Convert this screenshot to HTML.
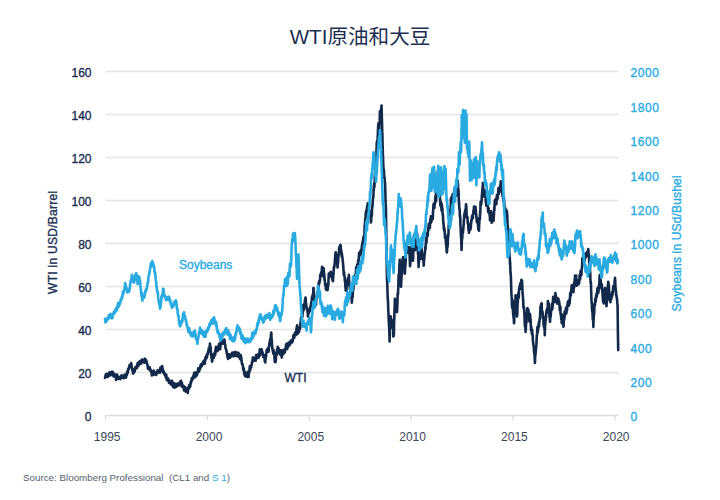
<!DOCTYPE html>
<html lang="zh"><head><meta charset="utf-8"><title>WTI原油和大豆</title>
<style>
html,body{margin:0;padding:0;background:#fff;}
body{width:720px;height:500px;overflow:hidden;font-family:"Liberation Sans","Noto Sans CJK SC",sans-serif;}
svg{display:block}
text{font-family:"Liberation Sans","Noto Sans CJK SC",sans-serif;}
.title{font-size:20.6px;fill:#1b2f52;}
.yl{font-size:12px;fill:#1b2f52;stroke:#1b2f52;stroke-width:.35px;}
.yr{font-size:12px;fill:#29abe2;stroke:#29abe2;stroke-width:.35px;letter-spacing:.6px;}
.xl{font-size:12px;fill:#3b4658;}
.at{font-size:12px;stroke-width:.35px;}
.src{font-size:9.8px;fill:#555f6e;white-space:pre;}
</style></head><body>
<svg width="720" height="500" viewBox="0 0 720 500">
<rect width="720" height="500" fill="#ffffff"/>
<text x="360" y="43.5" text-anchor="middle" class="title">WTI原油和大豆</text>
<line x1="105.5" y1="71.5" x2="618.5" y2="71.5" stroke="#e4e4e4" stroke-width="1.3"/>
<line x1="105.5" y1="114.5" x2="618.5" y2="114.5" stroke="#e4e4e4" stroke-width="1.3"/>
<line x1="105.5" y1="157.5" x2="618.5" y2="157.5" stroke="#e4e4e4" stroke-width="1.3"/>
<line x1="105.5" y1="200.5" x2="618.5" y2="200.5" stroke="#e4e4e4" stroke-width="1.3"/>
<line x1="105.5" y1="243.5" x2="618.5" y2="243.5" stroke="#e4e4e4" stroke-width="1.3"/>
<line x1="105.5" y1="286.5" x2="618.5" y2="286.5" stroke="#e4e4e4" stroke-width="1.3"/>
<line x1="105.5" y1="329.5" x2="618.5" y2="329.5" stroke="#e4e4e4" stroke-width="1.3"/>
<line x1="105.5" y1="372.5" x2="618.5" y2="372.5" stroke="#e4e4e4" stroke-width="1.3"/>
<line x1="104.9" y1="415.5" x2="618.5" y2="415.5" stroke="#dcdcdc" stroke-width="1.3"/>
<line x1="105.5" y1="415.5" x2="105.5" y2="420.5" stroke="#dcdcdc" stroke-width="1.3"/>
<line x1="207.4" y1="415.5" x2="207.4" y2="420.5" stroke="#dcdcdc" stroke-width="1.3"/>
<line x1="309.3" y1="415.5" x2="309.3" y2="420.5" stroke="#dcdcdc" stroke-width="1.3"/>
<line x1="411.20000000000005" y1="415.5" x2="411.20000000000005" y2="420.5" stroke="#dcdcdc" stroke-width="1.3"/>
<line x1="513.1" y1="415.5" x2="513.1" y2="420.5" stroke="#dcdcdc" stroke-width="1.3"/>
<line x1="615.0" y1="415.5" x2="615.0" y2="420.5" stroke="#dcdcdc" stroke-width="1.3"/>

<polyline fill="none" stroke="#13294b" stroke-width="2.6" stroke-linejoin="round" stroke-linecap="round" points="105.0,377.9 105.1,377.1 105.2,376.8 105.3,376.2 105.4,375.8 105.5,376.8 105.6,375.4 105.7,376.1 105.8,374.4 105.9,375.7 106.0,376.8 106.1,376.7 106.2,376.7 106.3,375.9 106.4,374.1 106.5,373.9 106.6,374.5 106.7,374.9 106.8,376.3 106.9,376.0 107.0,375.9 107.1,374.9 107.2,374.5 107.3,374.0 107.4,374.4 107.5,375.4 107.6,377.0 107.7,376.8 107.8,376.2 107.9,376.3 108.0,375.7 108.1,375.4 108.2,376.2 108.3,376.2 108.4,375.1 108.5,374.5 108.6,374.7 108.7,375.7 108.8,374.9 108.9,374.0 109.0,374.4 109.1,374.7 109.2,374.7 109.3,373.1 109.4,372.3 109.5,372.3 109.6,373.3 109.7,373.7 109.8,374.7 109.9,375.1 110.0,375.0 110.1,374.4 110.2,374.9 110.3,374.6 110.4,375.5 110.5,374.4 110.6,374.9 110.7,374.0 110.8,375.1 110.9,374.7 111.0,373.5 111.1,373.4 111.2,373.4 111.3,374.4 111.4,372.2 111.5,371.7 111.6,372.4 111.7,373.2 111.8,372.6 111.9,372.6 112.0,373.1 112.1,372.1 112.2,373.7 112.3,372.1 112.4,372.5 112.5,371.9 112.6,373.0 112.7,372.5 112.8,373.0 112.9,372.4 113.0,373.5 113.1,374.3 113.2,375.2 113.3,375.5 113.4,376.1 113.5,376.1 113.6,376.3 113.7,376.1 113.8,375.5 113.9,374.9 114.0,374.9 114.1,374.6 114.2,374.5 114.3,375.1 114.4,374.2 114.5,373.9 114.6,374.7 114.7,375.4 114.8,376.4 114.9,375.9 115.0,375.3 115.1,375.3 115.2,374.8 115.3,375.3 115.4,375.2 115.5,376.3 115.6,376.0 115.7,377.1 115.8,376.7 115.9,377.8 116.0,379.0 116.1,380.0 116.2,377.8 116.3,377.7 116.4,377.7 116.5,377.2 116.6,376.0 116.7,376.5 116.8,377.1 116.9,377.1 117.0,375.7 117.1,374.5 117.2,375.2 117.3,376.0 117.4,377.7 117.5,377.7 117.6,378.7 117.7,377.3 117.8,378.2 117.9,378.0 118.0,377.9 118.1,376.9 118.2,377.5 118.3,378.0 118.4,378.4 118.5,378.3 118.6,378.7 118.7,377.9 118.8,378.2 118.9,378.3 119.0,378.6 119.1,378.7 119.2,378.4 119.3,378.3 119.4,378.6 119.5,378.0 119.6,377.3 119.7,377.2 119.8,377.9 119.9,377.9 120.0,378.3 120.1,378.4 120.2,379.2 120.3,378.6 120.4,378.2 120.5,377.5 120.6,376.7 120.7,376.2 120.8,376.6 120.9,376.6 121.0,376.7 121.1,376.8 121.2,376.8 121.3,376.5 121.4,376.8 121.5,376.5 121.6,375.2 121.7,376.4 121.8,376.5 121.9,376.6 122.0,377.2 122.1,377.7 122.2,377.0 122.3,376.3 122.4,376.3 122.5,376.1 122.6,376.3 122.7,377.7 122.8,377.0 122.9,377.0 123.0,377.4 123.1,378.1 123.2,377.9 123.3,377.5 123.4,377.6 123.5,377.3 123.6,376.8 123.7,377.3 123.8,377.1 123.9,378.0 124.0,377.1 124.1,378.0 124.2,377.5 124.3,376.5 124.4,375.8 124.5,374.8 124.6,374.6 124.7,374.6 124.8,375.5 124.9,376.2 125.0,377.0 125.1,377.2 125.2,377.0 125.3,377.1 125.4,375.9 125.5,375.9 125.6,374.5 125.7,375.5 125.8,376.1 125.9,377.1 126.0,377.7 126.1,375.6 126.2,375.5 126.3,375.6 126.4,375.7 126.5,374.7 126.6,375.1 126.7,375.6 126.8,375.1 126.9,374.5 127.0,373.4 127.1,371.8 127.2,371.5 127.3,371.7 127.4,372.3 127.5,371.6 127.6,371.9 127.7,373.0 127.8,372.1 127.9,372.4 128.0,371.0 128.1,369.9 128.2,368.7 128.3,369.3 128.4,369.5 128.5,368.8 128.6,369.7 128.7,369.4 128.8,368.7 128.9,368.0 129.0,367.5 129.1,367.1 129.2,367.6 129.3,367.6 129.4,366.4 129.5,365.0 129.6,365.7 129.7,367.0 129.8,366.5 129.9,366.6 130.0,366.0 130.1,365.8 130.2,365.7 130.3,365.3 130.4,365.4 130.5,365.1 130.6,365.4 130.7,364.3 130.8,365.7 130.9,365.5 131.0,364.1 131.1,363.1 131.2,363.7 131.3,363.6 131.4,364.4 131.5,364.6 131.6,366.1 131.7,367.0 131.8,367.8 131.9,368.0 132.0,368.2 132.1,369.1 132.2,369.2 132.3,368.7 132.4,370.0 132.5,370.6 132.6,370.2 132.7,371.4 132.8,371.8 132.9,371.8 133.0,372.7 133.1,373.6 133.2,371.6 133.3,371.2 133.4,371.9 133.5,371.7 133.6,371.9 133.7,372.5 133.8,371.3 133.9,371.5 134.0,369.6 134.1,369.5 134.2,371.5 134.3,371.9 134.4,372.2 134.5,370.2 134.6,370.8 134.7,371.5 134.8,370.6 134.9,370.8 135.0,370.3 135.1,369.4 135.2,368.0 135.3,367.5 135.4,367.0 135.5,367.4 135.6,367.4 135.7,367.5 135.8,367.4 135.9,367.4 136.0,367.9 136.1,368.2 136.2,367.0 136.3,366.8 136.4,366.5 136.5,367.8 136.6,367.5 136.7,368.1 136.8,367.5 136.9,368.2 137.0,367.1 137.1,366.8 137.2,366.0 137.3,364.5 137.4,364.4 137.5,364.1 137.6,363.4 137.7,363.2 137.8,362.7 137.9,363.5 138.0,364.4 138.1,364.1 138.2,365.0 138.3,365.4 138.4,365.8 138.5,365.9 138.6,365.2 138.7,363.3 138.8,363.0 138.9,362.7 139.0,363.3 139.1,363.0 139.2,362.2 139.3,363.4 139.4,361.7 139.5,361.8 139.6,362.3 139.7,361.7 139.8,361.2 139.9,361.3 140.0,361.9 140.1,361.1 140.2,361.6 140.3,361.9 140.4,363.4 140.5,363.6 140.6,363.4 140.7,363.2 140.8,362.0 140.9,362.7 141.0,362.1 141.1,363.1 141.2,362.8 141.3,363.7 141.4,362.3 141.5,361.7 141.6,361.0 141.7,361.0 141.8,360.5 141.9,359.5 142.0,359.5 142.1,360.3 142.2,359.7 142.3,360.3 142.4,360.1 142.5,360.2 142.6,360.1 142.7,360.6 142.8,361.3 142.9,360.9 143.0,361.6 143.1,360.9 143.2,360.9 143.3,360.6 143.4,360.7 143.5,360.6 143.6,361.1 143.7,362.0 143.8,361.3 143.9,360.9 144.0,361.4 144.1,361.7 144.2,361.3 144.3,362.6 144.4,360.5 144.5,359.7 144.6,358.9 144.7,359.6 144.8,359.4 144.9,359.5 145.0,358.7 145.1,358.9 145.2,359.0 145.3,359.2 145.4,359.6 145.5,359.6 145.6,360.2 145.7,359.7 145.8,360.2 145.9,360.3 146.0,360.9 146.1,360.7 146.2,360.4 146.3,360.5 146.4,360.5 146.5,361.6 146.6,361.9 146.7,362.3 146.8,363.0 146.9,363.7 147.0,364.3 147.1,363.9 147.2,364.5 147.3,364.3 147.4,364.7 147.5,365.8 147.6,365.5 147.7,365.5 147.8,367.0 147.9,368.3 148.0,368.9 148.1,368.8 148.2,368.6 148.3,368.5 148.4,366.6 148.5,367.5 148.6,367.6 148.7,368.2 148.8,367.8 148.9,368.6 149.0,367.8 149.1,369.3 149.2,368.5 149.3,368.3 149.4,368.6 149.5,369.2 149.6,368.8 149.7,367.2 149.8,368.6 149.9,369.6 150.0,370.1 150.1,369.6 150.2,370.1 150.3,370.0 150.4,369.2 150.5,369.5 150.6,371.0 150.7,371.3 150.8,371.3 150.9,370.8 151.0,371.6 151.1,370.8 151.2,371.6 151.3,371.7 151.4,372.7 151.5,372.3 151.6,372.2 151.7,373.6 151.8,375.5 151.9,374.2 152.0,374.2 152.1,373.1 152.2,373.7 152.3,373.6 152.4,374.1 152.5,375.3 152.6,374.3 152.7,373.4 152.8,373.6 152.9,373.6 153.0,375.0 153.1,374.7 153.2,373.4 153.3,371.3 153.4,370.8 153.5,371.4 153.6,372.0 153.7,372.0 153.8,371.6 153.9,370.9 154.0,372.1 154.1,372.6 154.2,373.2 154.3,373.2 154.4,372.7 154.5,372.8 154.6,374.4 154.7,374.4 154.8,373.3 154.9,373.7 155.0,373.3 155.1,374.4 155.2,373.6 155.3,373.7 155.4,373.2 155.5,374.4 155.6,374.3 155.7,373.4 155.8,373.0 155.9,372.7 156.0,373.7 156.1,374.1 156.2,374.5 156.3,374.9 156.4,373.5 156.5,372.4 156.6,372.0 156.7,372.8 156.8,372.5 156.9,373.2 157.0,372.7 157.1,373.0 157.2,373.1 157.3,372.3 157.4,370.5 157.5,370.4 157.6,371.9 157.7,371.0 157.8,371.8 157.9,372.6 158.0,371.7 158.1,371.3 158.2,370.7 158.3,370.4 158.4,370.9 158.5,370.7 158.6,371.7 158.7,372.5 158.8,372.1 158.9,372.4 159.0,371.6 159.1,371.4 159.2,370.7 159.3,370.5 159.4,370.3 159.5,371.0 159.6,371.0 159.7,370.9 159.8,370.6 159.9,372.6 160.0,370.7 160.1,370.0 160.2,368.4 160.3,367.7 160.4,369.0 160.5,370.6 160.6,370.1 160.7,371.2 160.8,369.9 160.9,369.7 161.0,371.0 161.1,370.7 161.2,369.4 161.3,367.4 161.4,367.4 161.5,368.9 161.6,368.1 161.7,368.3 161.8,368.1 161.9,366.3 162.0,366.0 162.1,366.7 162.2,366.5 162.3,366.5 162.4,367.2 162.5,367.6 162.6,368.1 162.7,369.8 162.8,371.1 162.9,372.2 163.0,371.2 163.1,370.9 163.2,370.3 163.3,370.7 163.4,371.5 163.5,371.4 163.6,371.5 163.7,372.8 163.8,371.7 163.9,372.1 164.0,372.1 164.1,372.6 164.2,372.4 164.3,373.4 164.4,373.8 164.5,374.4 164.6,374.4 164.7,374.9 164.8,373.9 164.9,374.6 165.0,375.3 165.1,375.1 165.2,375.2 165.3,375.3 165.4,375.4 165.5,375.5 165.6,376.6 165.7,377.4 165.8,377.3 165.9,376.6 166.0,375.2 166.1,376.0 166.2,374.6 166.3,375.1 166.4,376.9 166.5,377.5 166.6,378.2 166.7,379.0 166.8,380.0 166.9,379.4 167.0,379.5 167.1,379.2 167.2,380.1 167.3,377.9 167.4,378.4 167.5,378.0 167.6,378.4 167.7,378.5 167.8,378.5 167.9,378.2 168.0,378.6 168.1,379.4 168.2,379.6 168.3,379.3 168.4,379.7 168.5,380.4 168.6,379.6 168.7,381.2 168.8,381.7 168.9,381.9 169.0,383.0 169.1,383.0 169.2,382.1 169.3,382.1 169.4,382.5 169.5,382.8 169.6,382.1 169.7,381.8 169.8,382.3 169.9,380.8 170.0,381.0 170.1,381.6 170.2,381.1 170.3,381.3 170.4,381.7 170.5,381.1 170.6,381.7 170.7,383.0 170.8,383.4 170.9,384.5 171.0,383.9 171.1,381.7 171.2,381.3 171.3,381.5 171.4,381.8 171.5,381.4 171.6,382.4 171.7,382.5 171.8,381.9 171.9,381.0 172.0,381.4 172.1,380.8 172.2,381.8 172.3,382.5 172.4,381.9 172.5,382.7 172.6,384.3 172.7,386.2 172.8,385.3 172.9,384.6 173.0,386.6 173.1,386.7 173.2,387.2 173.3,385.7 173.4,384.6 173.5,383.5 173.6,384.0 173.7,384.5 173.8,384.4 173.9,384.1 174.0,385.0 174.1,386.3 174.2,386.6 174.3,385.2 174.4,383.3 174.5,385.0 174.6,385.7 174.7,386.9 174.8,387.6 174.9,386.5 175.0,385.4 175.1,384.9 175.2,385.4 175.3,386.1 175.4,385.5 175.5,386.0 175.6,386.1 175.7,386.6 175.8,387.0 175.9,386.5 176.0,384.8 176.1,385.8 176.2,385.7 176.3,385.0 176.4,385.1 176.5,386.3 176.6,385.3 176.7,383.9 176.8,386.6 176.9,386.1 177.0,385.6 177.1,384.9 177.2,385.1 177.3,383.9 177.4,384.6 177.5,385.9 177.6,385.1 177.7,385.7 177.8,385.0 177.9,384.6 178.0,383.6 178.1,384.6 178.2,383.9 178.3,383.7 178.4,385.0 178.5,384.6 178.6,383.5 178.7,383.3 178.8,385.5 178.9,385.3 179.0,384.9 179.1,385.2 179.2,384.9 179.3,384.9 179.4,384.7 179.5,383.1 179.6,384.4 179.7,383.9 179.8,383.9 179.9,382.4 180.0,383.0 180.1,382.1 180.2,382.6 180.3,381.4 180.4,381.8 180.5,383.7 180.6,384.7 180.7,384.1 180.8,383.7 180.9,382.8 181.0,381.8 181.1,380.8 181.2,382.4 181.3,384.8 181.4,385.3 181.5,385.8 181.6,386.4 181.7,385.3 181.8,383.7 181.9,382.7 182.0,384.0 182.1,384.4 182.2,386.3 182.3,387.2 182.4,385.3 182.5,385.0 182.6,385.3 182.7,385.6 182.8,386.4 182.9,386.2 183.0,385.6 183.1,386.8 183.2,386.9 183.3,385.7 183.4,386.3 183.5,387.5 183.6,386.1 183.7,387.1 183.8,387.6 183.9,388.4 184.0,390.5 184.1,390.1 184.2,389.7 184.3,389.8 184.4,388.3 184.5,388.2 184.6,387.6 184.7,387.8 184.8,387.2 184.9,387.6 185.0,387.0 185.1,387.2 185.2,387.2 185.3,388.3 185.4,389.5 185.5,390.2 185.6,391.5 185.7,390.5 185.8,390.2 185.9,391.7 186.0,391.1 186.1,391.5 186.2,391.5 186.3,390.1 186.4,389.3 186.5,390.6 186.6,390.0 186.7,389.3 186.8,388.7 186.9,388.9 187.0,388.9 187.1,389.6 187.2,390.7 187.3,389.7 187.4,392.0 187.5,391.7 187.6,391.2 187.7,392.7 187.8,393.0 187.9,391.8 188.0,389.9 188.1,388.8 188.2,388.8 188.3,387.2 188.4,387.8 188.5,389.1 188.6,387.2 188.7,389.0 188.8,388.8 188.9,386.5 189.0,386.6 189.1,386.1 189.2,386.2 189.3,384.7 189.4,385.3 189.5,385.0 189.6,385.7 189.7,386.6 189.8,386.9 189.9,387.1 190.0,386.9 190.1,386.9 190.2,386.7 190.3,385.6 190.4,384.9 190.5,383.7 190.6,383.3 190.7,382.1 190.8,383.2 190.9,383.4 191.0,382.8 191.1,381.5 191.2,381.6 191.3,380.7 191.4,381.8 191.5,381.4 191.6,380.1 191.7,379.5 191.8,378.1 191.9,380.4 192.0,379.6 192.1,378.8 192.2,378.6 192.3,378.4 192.4,379.4 192.5,379.5 192.6,379.0 192.7,377.4 192.8,377.2 192.9,377.1 193.0,378.1 193.1,378.2 193.2,378.3 193.3,376.1 193.4,376.3 193.5,377.1 193.6,376.5 193.7,376.0 193.8,375.0 193.9,375.9 194.0,374.6 194.1,372.9 194.2,374.0 194.3,375.3 194.4,374.9 194.5,374.1 194.6,374.7 194.7,374.4 194.8,375.4 194.9,376.4 195.0,375.5 195.1,376.0 195.2,376.8 195.3,377.2 195.4,375.8 195.5,374.6 195.6,373.7 195.7,373.6 195.8,372.6 195.9,372.4 196.0,374.0 196.1,374.6 196.2,373.5 196.3,373.1 196.4,373.4 196.5,373.1 196.6,373.7 196.7,374.9 196.8,375.5 196.9,374.9 197.0,373.8 197.1,374.8 197.2,374.1 197.3,372.6 197.4,373.5 197.5,372.2 197.6,372.5 197.7,372.2 197.8,372.3 197.9,370.3 198.0,370.0 198.1,370.0 198.2,368.3 198.3,368.7 198.4,370.0 198.5,370.2 198.6,369.3 198.7,369.7 198.8,369.7 198.9,368.5 199.0,370.7 199.1,371.7 199.2,370.8 199.3,369.8 199.4,370.2 199.5,370.0 199.6,368.0 199.7,368.8 199.8,369.5 199.9,368.7 200.0,368.2 200.1,369.0 200.2,367.6 200.3,366.4 200.4,365.9 200.5,367.7 200.6,365.6 200.7,364.7 200.8,366.2 200.9,365.8 201.0,365.7 201.1,365.6 201.2,364.2 201.3,365.0 201.4,364.0 201.5,365.1 201.6,364.7 201.7,365.8 201.8,366.2 201.9,364.4 202.0,365.5 202.1,364.2 202.2,364.2 202.3,363.8 202.4,364.1 202.5,363.4 202.6,362.8 202.7,363.0 202.8,363.5 202.9,363.6 203.0,364.3 203.1,363.1 203.2,361.9 203.3,361.9 203.4,361.4 203.5,362.7 203.6,363.7 203.7,363.2 203.8,361.7 203.9,362.0 204.0,361.4 204.1,362.9 204.2,360.4 204.3,362.9 204.4,361.2 204.5,360.4 204.6,361.1 204.7,362.5 204.8,363.7 204.9,361.7 205.0,360.6 205.1,361.8 205.2,360.1 205.3,358.6 205.4,357.6 205.5,358.6 205.6,358.8 205.7,359.3 205.8,357.7 205.9,357.7 206.0,358.5 206.1,357.4 206.2,356.1 206.3,357.0 206.4,357.8 206.5,358.3 206.6,358.2 206.7,357.8 206.8,356.8 206.9,354.7 207.0,357.1 207.1,355.7 207.2,355.2 207.3,354.6 207.4,353.7 207.5,354.5 207.6,353.8 207.7,353.4 207.8,353.5 207.9,354.1 208.0,351.9 208.1,351.5 208.2,351.9 208.3,350.8 208.4,350.5 208.5,349.9 208.6,348.6 208.7,349.0 208.8,349.7 208.9,350.7 209.0,351.6 209.1,350.9 209.2,350.1 209.3,351.1 209.4,349.9 209.5,349.8 209.6,348.2 209.7,345.8 209.8,344.9 209.9,343.6 210.0,344.0 210.1,346.8 210.2,348.5 210.3,347.2 210.4,347.8 210.5,348.2 210.6,346.9 210.7,349.3 210.8,351.0 210.9,353.0 211.0,352.9 211.1,354.6 211.2,355.5 211.3,355.5 211.4,356.3 211.5,357.6 211.6,358.7 211.7,358.5 211.8,357.4 211.9,359.7 212.0,361.6 212.1,360.5 212.2,361.2 212.3,361.0 212.4,359.2 212.5,357.7 212.6,358.7 212.7,357.2 212.8,356.1 212.9,356.4 213.0,355.9 213.1,354.9 213.2,354.6 213.3,354.3 213.4,354.5 213.5,356.4 213.6,357.6 213.7,358.0 213.8,357.1 213.9,357.1 214.0,354.7 214.1,354.2 214.2,354.3 214.3,353.3 214.4,354.1 214.5,355.8 214.6,354.1 214.7,354.1 214.8,354.5 214.9,353.9 215.0,351.9 215.1,352.2 215.2,353.1 215.3,354.5 215.4,351.9 215.5,349.6 215.6,348.8 215.7,348.3 215.8,349.1 215.9,350.2 216.0,349.3 216.1,346.8 216.2,347.6 216.3,349.1 216.4,348.7 216.5,350.5 216.6,350.1 216.7,348.5 216.8,349.7 216.9,348.6 217.0,347.3 217.1,347.8 217.2,349.6 217.3,349.5 217.4,350.8 217.5,350.6 217.6,351.2 217.7,349.9 217.8,350.4 217.9,350.1 218.0,350.2 218.1,349.0 218.2,348.0 218.3,346.8 218.4,347.2 218.5,346.2 218.6,345.6 218.7,346.0 218.8,347.1 218.9,347.8 219.0,346.1 219.1,343.9 219.2,344.4 219.3,346.7 219.4,346.8 219.5,348.0 219.6,348.0 219.7,347.1 219.8,345.6 219.9,346.0 220.0,345.8 220.1,346.5 220.2,349.3 220.3,347.5 220.4,346.0 220.5,345.2 220.6,345.0 220.7,343.3 220.8,342.0 220.9,341.1 221.0,343.2 221.1,344.0 221.2,344.8 221.3,342.8 221.4,342.2 221.5,341.7 221.6,340.7 221.7,340.4 221.8,341.7 221.9,342.7 222.0,343.1 222.1,343.1 222.2,343.8 222.3,342.7 222.4,341.8 222.5,341.1 222.6,341.2 222.7,341.4 222.8,341.4 222.9,341.3 223.0,340.2 223.1,340.1 223.2,341.1 223.3,341.9 223.4,341.8 223.5,342.1 223.6,341.6 223.7,342.3 223.8,342.1 223.9,343.0 224.0,343.1 224.1,343.8 224.2,342.7 224.3,341.0 224.4,339.5 224.5,340.3 224.6,340.3 224.7,341.0 224.8,343.9 224.9,344.4 225.0,345.2 225.1,344.2 225.2,344.9 225.3,346.3 225.4,346.2 225.5,348.4 225.6,348.8 225.7,348.7 225.8,348.5 225.9,349.1 226.0,349.2 226.1,349.5 226.2,349.7 226.3,350.5 226.4,351.0 226.5,350.5 226.6,351.3 226.7,352.0 226.8,352.9 226.9,353.5 227.0,354.7 227.1,353.1 227.2,354.4 227.3,354.8 227.4,355.7 227.5,357.3 227.6,356.1 227.7,357.9 227.8,357.7 227.9,357.2 228.0,358.4 228.1,358.9 228.2,357.3 228.3,356.4 228.4,357.1 228.5,357.1 228.6,356.1 228.7,356.6 228.8,355.4 228.9,355.5 229.0,355.5 229.1,354.3 229.2,356.1 229.3,355.4 229.4,355.6 229.5,356.3 229.6,356.1 229.7,357.0 229.8,356.7 229.9,356.6 230.0,357.8 230.1,357.0 230.2,355.9 230.3,355.9 230.4,355.5 230.5,356.9 230.6,357.2 230.7,356.9 230.8,356.4 230.9,355.7 231.0,354.6 231.1,354.9 231.2,354.6 231.3,354.2 231.4,354.6 231.5,353.9 231.6,355.0 231.7,354.7 231.8,353.6 231.9,353.6 232.0,353.2 232.1,352.8 232.2,354.1 232.3,354.8 232.4,353.7 232.5,352.5 232.6,352.5 232.7,352.7 232.8,353.2 232.9,353.0 233.0,353.0 233.1,354.1 233.2,354.3 233.3,355.2 233.4,356.5 233.5,356.0 233.6,355.5 233.7,354.5 233.8,353.4 233.9,353.2 234.0,352.8 234.1,352.9 234.2,352.6 234.3,353.9 234.4,353.4 234.5,354.6 234.6,355.6 234.7,354.3 234.8,352.0 234.9,351.8 235.0,352.2 235.1,354.0 235.2,353.1 235.3,353.1 235.4,354.3 235.5,355.2 235.6,355.9 235.7,354.9 235.8,353.5 235.9,352.8 236.0,352.5 236.1,352.7 236.2,354.3 236.3,355.9 236.4,355.6 236.5,353.9 236.6,352.6 236.7,353.4 236.8,354.1 236.9,352.7 237.0,353.4 237.1,354.7 237.2,354.5 237.3,355.1 237.4,355.9 237.5,355.0 237.6,356.2 237.7,355.3 237.8,355.9 237.9,356.5 238.0,354.7 238.1,354.7 238.2,353.3 238.3,352.7 238.4,354.3 238.5,352.8 238.6,353.1 238.7,353.9 238.8,355.9 238.9,355.3 239.0,356.0 239.1,355.1 239.2,355.9 239.3,355.6 239.4,355.9 239.5,354.9 239.6,356.1 239.7,358.0 239.8,358.6 239.9,358.3 240.0,358.1 240.1,356.6 240.2,357.4 240.3,358.7 240.4,359.2 240.5,357.4 240.6,356.5 240.7,355.1 240.8,357.4 240.9,358.9 241.0,360.0 241.1,358.6 241.2,357.1 241.3,357.8 241.4,359.3 241.5,360.5 241.6,361.0 241.7,362.5 241.8,362.2 241.9,363.6 242.0,363.7 242.1,363.8 242.2,363.6 242.3,364.5 242.4,364.6 242.5,364.6 242.6,365.0 242.7,364.3 242.8,364.9 242.9,365.9 243.0,366.4 243.1,368.7 243.2,368.7 243.3,370.0 243.4,369.2 243.5,368.3 243.6,369.6 243.7,368.5 243.8,368.4 243.9,369.1 244.0,369.8 244.1,371.3 244.2,373.3 244.3,373.9 244.4,373.8 244.5,374.3 244.6,375.2 244.7,373.2 244.8,374.2 244.9,375.7 245.0,375.5 245.1,376.2 245.2,376.0 245.3,372.9 245.4,373.3 245.5,373.1 245.6,373.2 245.7,372.6 245.8,373.3 245.9,374.2 246.0,374.8 246.1,374.7 246.2,374.9 246.3,374.5 246.4,373.1 246.5,373.7 246.6,374.8 246.7,374.7 246.8,376.5 246.9,376.9 247.0,375.6 247.1,374.6 247.2,374.0 247.3,372.9 247.4,373.2 247.5,373.2 247.6,374.1 247.7,375.4 247.8,376.7 247.9,374.8 248.0,372.7 248.1,371.8 248.2,372.5 248.3,371.5 248.4,373.5 248.5,374.9 248.6,376.9 248.7,375.0 248.8,373.4 248.9,374.3 249.0,371.8 249.1,370.4 249.2,371.2 249.3,372.4 249.4,369.5 249.5,369.3 249.6,368.7 249.7,366.9 249.8,366.4 249.9,366.7 250.0,368.2 250.1,368.6 250.2,370.3 250.3,368.2 250.4,367.8 250.5,368.0 250.6,368.6 250.7,367.7 250.8,365.6 250.9,365.6 251.0,366.3 251.1,366.8 251.2,367.2 251.3,366.7 251.4,365.7 251.5,365.0 251.6,364.5 251.7,364.3 251.8,364.6 251.9,363.6 252.0,361.8 252.1,362.3 252.2,362.2 252.3,362.3 252.4,362.2 252.5,361.0 252.6,359.6 252.7,359.4 252.8,357.5 252.9,357.5 253.0,357.3 253.1,357.7 253.2,358.5 253.3,359.5 253.4,360.3 253.5,360.9 253.6,359.0 253.7,359.2 253.8,359.0 253.9,357.8 254.0,359.1 254.1,359.6 254.2,359.9 254.3,359.7 254.4,360.2 254.5,359.3 254.6,358.5 254.7,359.5 254.8,358.9 254.9,360.2 255.0,359.3 255.1,357.9 255.2,359.3 255.3,358.2 255.4,357.8 255.5,359.1 255.6,360.8 255.7,359.1 255.8,357.7 255.9,356.9 256.0,356.1 256.1,355.1 256.2,356.5 256.3,356.2 256.4,355.7 256.5,355.8 256.6,355.0 256.7,355.3 256.8,356.0 256.9,357.7 257.0,358.3 257.1,357.2 257.2,356.6 257.3,356.7 257.4,357.1 257.5,356.4 257.6,357.7 257.7,355.8 257.8,355.3 257.9,356.0 258.0,355.8 258.1,355.9 258.2,354.5 258.3,355.7 258.4,355.8 258.5,357.4 258.6,357.7 258.7,356.6 258.8,353.5 258.9,354.7 259.0,354.4 259.1,354.7 259.2,356.6 259.3,355.2 259.4,354.4 259.5,353.9 259.6,352.0 259.7,350.5 259.8,349.4 259.9,349.6 260.0,351.9 260.1,354.5 260.2,353.9 260.3,354.9 260.4,353.5 260.5,351.7 260.6,351.1 260.7,352.6 260.8,352.5 260.9,351.1 261.0,351.6 261.1,350.3 261.2,350.6 261.3,351.7 261.4,350.5 261.5,349.3 261.6,349.8 261.7,349.3 261.8,350.3 261.9,350.4 262.0,352.8 262.1,351.7 262.2,352.9 262.3,352.7 262.4,352.0 262.5,353.1 262.6,352.6 262.7,353.2 262.8,353.8 262.9,353.9 263.0,355.0 263.1,355.8 263.2,356.9 263.3,356.5 263.4,355.0 263.5,355.1 263.6,354.9 263.7,354.8 263.8,354.8 263.9,355.3 264.0,356.4 264.1,356.3 264.2,357.7 264.3,355.7 264.4,356.7 264.5,355.9 264.6,357.5 264.7,359.9 264.8,361.3 264.9,360.7 265.0,360.2 265.1,360.2 265.2,360.8 265.3,362.4 265.4,360.3 265.5,359.2 265.6,358.3 265.7,358.3 265.8,357.7 265.9,356.5 266.0,357.1 266.1,356.5 266.2,354.1 266.3,354.0 266.4,352.6 266.5,352.5 266.6,350.1 266.7,350.0 266.8,350.7 266.9,351.1 267.0,350.7 267.1,352.0 267.2,351.2 267.3,350.3 267.4,351.0 267.5,349.3 267.6,349.1 267.7,348.3 267.8,348.3 267.9,350.1 268.0,350.3 268.1,350.2 268.2,349.7 268.3,349.2 268.4,351.5 268.5,350.5 268.6,351.8 268.7,350.9 268.8,349.9 268.9,348.2 269.0,347.3 269.1,345.4 269.2,345.1 269.3,343.4 269.4,343.7 269.5,344.7 269.6,344.9 269.7,345.3 269.8,342.1 269.9,340.4 270.0,339.7 270.1,340.4 270.2,340.3 270.3,340.5 270.4,339.7 270.5,339.0 270.6,338.2 270.7,337.5 270.8,337.0 270.9,335.1 271.0,334.8 271.1,333.5 271.2,332.5 271.3,333.0 271.4,334.3 271.5,336.7 271.6,338.4 271.7,339.2 271.8,340.5 271.9,343.0 272.0,344.6 272.1,346.6 272.2,346.9 272.3,348.0 272.4,348.8 272.5,348.8 272.6,349.8 272.7,350.3 272.8,350.6 272.9,351.5 273.0,350.5 273.1,350.7 273.2,353.3 273.3,353.7 273.4,351.8 273.5,349.8 273.6,352.1 273.7,352.9 273.8,353.9 273.9,352.5 274.0,352.6 274.1,353.0 274.2,352.1 274.3,353.5 274.4,356.3 274.5,358.7 274.6,358.7 274.7,360.9 274.8,362.0 274.9,361.9 275.0,361.8 275.1,360.3 275.2,358.6 275.3,357.9 275.4,360.6 275.5,360.4 275.6,362.1 275.7,361.2 275.8,360.3 275.9,358.9 276.0,355.7 276.1,355.4 276.2,353.5 276.3,353.4 276.4,355.5 276.5,355.4 276.6,355.0 276.7,352.5 276.8,352.1 276.9,351.6 277.0,350.0 277.1,349.8 277.2,349.9 277.3,349.4 277.4,349.3 277.5,349.9 277.6,348.6 277.7,346.9 277.8,348.2 277.9,349.0 278.0,347.9 278.1,351.6 278.2,349.1 278.3,348.0 278.4,348.1 278.5,349.1 278.6,348.2 278.7,349.0 278.8,351.3 278.9,352.7 279.0,351.2 279.1,350.4 279.2,350.7 279.3,351.5 279.4,352.8 279.5,353.7 279.6,353.4 279.7,354.1 279.8,352.6 279.9,352.0 280.0,351.6 280.1,352.7 280.2,351.7 280.3,352.2 280.4,352.8 280.5,355.0 280.6,353.2 280.7,352.0 280.8,350.4 280.9,350.4 281.0,351.2 281.1,350.2 281.2,352.9 281.3,353.7 281.4,355.1 281.5,355.5 281.6,354.2 281.7,357.5 281.8,356.2 281.9,356.2 282.0,355.5 282.1,355.0 282.2,355.6 282.3,355.0 282.4,354.3 282.5,353.8 282.6,354.1 282.7,353.3 282.8,353.8 282.9,352.6 283.0,353.6 283.1,353.1 283.2,353.1 283.3,353.8 283.4,353.4 283.5,351.0 283.6,349.8 283.7,350.5 283.8,351.5 283.9,353.3 284.0,352.2 284.1,352.9 284.2,353.2 284.3,352.9 284.4,350.6 284.5,350.9 284.6,349.6 284.7,349.8 284.8,352.1 284.9,352.2 285.0,351.3 285.1,350.2 285.2,350.4 285.3,348.7 285.4,349.6 285.5,349.5 285.6,348.5 285.7,349.1 285.8,348.9 285.9,346.5 286.0,344.8 286.1,344.9 286.2,345.7 286.3,346.1 286.4,344.5 286.5,343.9 286.6,343.8 286.7,343.7 286.8,346.2 286.9,347.6 287.0,346.9 287.1,347.9 287.2,348.8 287.3,349.0 287.4,347.9 287.5,346.7 287.6,345.1 287.7,346.4 287.8,347.2 287.9,347.0 288.0,346.5 288.1,346.6 288.2,346.6 288.3,345.5 288.4,344.4 288.5,343.3 288.6,343.0 288.7,342.5 288.8,343.8 288.9,343.6 289.0,343.8 289.1,343.2 289.2,344.1 289.3,345.3 289.4,344.6 289.5,345.2 289.6,345.2 289.7,344.0 289.8,343.6 289.9,342.8 290.0,343.9 290.1,342.6 290.2,342.9 290.3,342.6 290.4,343.6 290.5,343.0 290.6,340.7 290.7,340.9 290.8,340.5 290.9,341.0 291.0,342.0 291.1,343.1 291.2,342.9 291.3,341.5 291.4,340.5 291.5,340.8 291.6,342.7 291.7,341.9 291.8,342.0 291.9,341.6 292.0,342.5 292.1,340.2 292.2,340.7 292.3,341.2 292.4,340.6 292.5,340.9 292.6,341.3 292.7,339.2 292.8,341.1 292.9,339.3 293.0,339.4 293.1,338.1 293.2,337.5 293.3,336.1 293.4,337.3 293.5,335.1 293.6,338.3 293.7,337.8 293.8,336.3 293.9,337.3 294.0,337.6 294.1,337.6 294.2,336.6 294.3,337.8 294.4,335.0 294.5,336.2 294.6,335.3 294.7,336.0 294.8,334.3 294.9,333.7 295.0,332.5 295.1,333.3 295.2,333.0 295.3,332.4 295.4,332.8 295.5,333.1 295.6,333.4 295.7,333.1 295.8,332.8 295.9,332.6 296.0,332.1 296.1,333.5 296.2,334.9 296.3,332.7 296.4,330.3 296.5,328.1 296.6,328.9 296.7,327.7 296.8,327.7 296.9,327.0 297.0,327.3 297.1,325.4 297.2,327.1 297.3,326.0 297.4,327.2 297.5,330.0 297.6,333.2 297.7,333.7 297.8,333.3 297.9,331.3 298.0,330.1 298.1,328.3 298.2,328.6 298.3,331.0 298.4,332.6 298.5,331.6 298.6,331.5 298.7,331.0 298.8,331.0 298.9,330.8 299.0,332.0 299.1,331.0 299.2,330.5 299.3,329.3 299.4,329.2 299.5,329.4 299.6,328.4 299.7,327.8 299.8,327.4 299.9,329.2 300.0,328.3 300.1,327.2 300.2,326.7 300.3,327.2 300.4,322.9 300.5,323.9 300.6,324.1 300.7,322.8 300.8,320.5 300.9,321.0 301.0,318.0 301.1,317.9 301.2,318.3 301.3,319.1 301.4,318.1 301.5,316.5 301.6,317.5 301.7,317.3 301.8,316.6 301.9,316.7 302.0,315.0 302.1,317.3 302.2,317.4 302.3,315.8 302.4,316.7 302.5,314.6 302.6,312.8 302.7,312.5 302.8,311.1 302.9,311.4 303.0,310.1 303.1,307.3 303.2,305.0 303.3,307.1 303.4,309.1 303.5,309.7 303.6,310.5 303.7,308.3 303.8,307.0 303.9,306.2 304.0,306.5 304.1,304.4 304.2,304.0 304.3,304.6 304.4,304.7 304.5,304.9 304.6,305.5 304.7,302.9 304.8,302.2 304.9,300.5 305.0,299.5 305.1,299.7 305.2,300.2 305.3,299.4 305.4,298.3 305.5,297.5 305.6,298.4 305.7,299.5 305.8,300.8 305.9,303.7 306.0,304.7 306.1,303.2 306.2,304.2 306.3,304.7 306.4,305.4 306.5,307.7 306.6,308.9 306.7,309.1 306.8,308.3 306.9,307.9 307.0,307.5 307.1,308.6 307.2,308.7 307.3,310.1 307.4,311.0 307.5,311.2 307.6,311.6 307.7,312.2 307.8,313.8 307.9,316.0 308.0,316.6 308.1,314.8 308.2,313.0 308.3,311.0 308.4,310.3 308.5,311.6 308.6,311.7 308.7,313.1 308.8,313.4 308.9,312.8 309.0,311.1 309.1,311.5 309.2,310.8 309.3,309.6 309.4,309.7 309.5,310.6 309.6,310.2 309.7,310.1 309.8,311.3 309.9,310.0 310.0,310.3 310.1,309.0 310.2,307.5 310.3,307.0 310.4,308.5 310.5,307.1 310.6,305.6 310.7,305.9 310.8,306.6 310.9,306.3 311.0,305.4 311.1,305.0 311.2,302.6 311.3,304.1 311.4,303.7 311.5,302.1 311.6,303.3 311.7,300.9 311.8,300.8 311.9,297.7 312.0,296.8 312.1,298.0 312.2,298.2 312.3,300.5 312.4,299.7 312.5,297.5 312.6,295.0 312.7,297.0 312.8,297.5 312.9,295.7 313.0,296.5 313.1,293.8 313.2,292.5 313.3,291.5 313.4,288.1 313.5,288.1 313.6,288.9 313.7,290.3 313.8,291.0 313.9,291.6 314.0,294.3 314.1,296.5 314.2,296.6 314.3,297.4 314.4,300.5 314.5,300.0 314.6,300.9 314.7,300.2 314.8,300.7 314.9,298.4 315.0,299.6 315.1,299.7 315.2,299.8 315.3,302.4 315.4,301.7 315.5,301.4 315.6,301.2 315.7,301.3 315.8,302.4 315.9,302.1 316.0,304.8 316.1,302.5 316.2,301.3 316.3,297.0 316.4,297.7 316.5,298.1 316.6,298.5 316.7,297.6 316.8,297.1 316.9,298.2 317.0,296.5 317.1,295.5 317.2,294.1 317.3,294.7 317.4,293.0 317.5,295.8 317.6,296.6 317.7,294.4 317.8,293.1 317.9,292.1 318.0,290.9 318.1,291.5 318.2,290.4 318.3,289.6 318.4,287.6 318.5,286.0 318.6,284.6 318.7,282.8 318.8,283.7 318.9,284.8 319.0,282.9 319.1,281.4 319.2,283.9 319.3,283.1 319.4,283.5 319.5,282.1 319.6,281.4 319.7,280.3 319.8,280.6 319.9,281.2 320.0,280.2 320.1,278.6 320.2,275.2 320.3,274.7 320.4,275.0 320.5,276.4 320.6,276.1 320.7,275.6 320.8,276.1 320.9,276.2 321.0,275.3 321.1,272.5 321.2,273.3 321.3,272.5 321.4,273.2 321.5,276.1 321.6,274.1 321.7,271.2 321.8,271.4 321.9,268.3 322.0,266.9 322.1,267.4 322.2,266.7 322.3,269.1 322.4,269.9 322.5,270.2 322.6,267.8 322.7,267.7 322.8,269.1 322.9,270.8 323.0,270.4 323.1,271.1 323.2,271.8 323.3,271.4 323.4,272.0 323.5,272.5 323.6,269.9 323.7,268.4 323.8,269.8 323.9,272.1 324.0,274.7 324.1,277.1 324.2,277.1 324.3,274.0 324.4,277.5 324.5,280.2 324.6,279.2 324.7,278.9 324.8,280.7 324.9,281.9 325.0,282.0 325.1,283.6 325.2,285.4 325.3,284.8 325.4,284.9 325.5,283.9 325.6,285.8 325.7,285.7 325.8,286.7 325.9,289.5 326.0,288.9 326.1,287.9 326.2,287.9 326.3,286.4 326.4,287.1 326.5,286.3 326.6,287.8 326.7,289.1 326.8,288.9 326.9,290.0 327.0,288.9 327.1,288.7 327.2,289.8 327.3,287.8 327.4,287.8 327.5,288.7 327.6,290.1 327.7,288.7 327.8,288.5 327.9,284.6 328.0,283.8 328.1,284.1 328.2,284.8 328.3,285.7 328.4,283.7 328.5,280.3 328.6,277.9 328.7,275.0 328.8,273.6 328.9,275.1 329.0,277.8 329.1,277.1 329.2,274.5 329.3,277.1 329.4,276.3 329.5,276.4 329.6,273.6 329.7,273.8 329.8,273.7 329.9,273.9 330.0,273.8 330.1,274.0 330.2,273.4 330.3,272.4 330.4,273.0 330.5,273.4 330.6,272.0 330.7,273.2 330.8,271.8 330.9,273.9 331.0,274.7 331.1,275.7 331.2,272.7 331.3,273.2 331.4,273.6 331.5,275.6 331.6,274.2 331.7,275.1 331.8,275.4 331.9,276.7 332.0,274.9 332.1,278.2 332.2,277.6 332.3,279.7 332.4,280.0 332.5,279.1 332.6,278.6 332.7,277.8 332.8,278.9 332.9,279.0 333.0,281.1 333.1,278.6 333.2,276.7 333.3,276.2 333.4,275.0 333.5,274.1 333.6,271.3 333.7,270.7 333.8,267.2 333.9,268.3 334.0,267.1 334.1,267.3 334.2,267.8 334.3,266.9 334.4,265.3 334.5,266.1 334.6,264.1 334.7,263.1 334.8,262.2 334.9,260.5 335.0,258.3 335.1,259.0 335.2,256.0 335.3,255.8 335.4,253.6 335.5,254.8 335.6,253.1 335.7,252.2 335.8,253.3 335.9,254.6 336.0,254.2 336.1,256.2 336.2,256.7 336.3,256.0 336.4,258.3 336.5,258.7 336.6,257.5 336.7,261.4 336.8,262.4 336.9,260.4 337.0,260.2 337.1,260.8 337.2,260.7 337.3,264.1 337.4,265.5 337.5,267.4 337.6,267.2 337.7,265.2 337.8,261.9 337.9,263.8 338.0,261.9 338.1,261.8 338.2,261.1 338.3,258.4 338.4,257.1 338.5,255.7 338.6,253.9 338.7,254.6 338.8,252.8 338.9,253.3 339.0,251.7 339.1,248.2 339.2,247.7 339.3,246.8 339.4,248.9 339.5,248.7 339.6,247.9 339.7,250.1 339.8,249.9 339.9,249.2 340.0,247.0 340.1,246.7 340.2,247.3 340.3,245.0 340.4,246.0 340.5,245.0 340.6,245.3 340.7,246.3 340.8,248.9 340.9,249.1 341.0,250.6 341.1,249.2 341.2,251.5 341.3,251.7 341.4,251.3 341.5,254.3 341.6,256.1 341.7,254.5 341.8,254.7 341.9,253.5 342.0,255.2 342.1,256.5 342.2,255.5 342.3,257.7 342.4,258.0 342.5,257.8 342.6,259.7 342.7,261.2 342.8,261.7 342.9,261.3 343.0,263.4 343.1,265.4 343.2,265.2 343.3,266.1 343.4,267.9 343.5,270.8 343.6,270.6 343.7,273.6 343.8,275.0 343.9,275.0 344.0,273.2 344.1,272.3 344.2,273.9 344.3,275.2 344.4,275.8 344.5,276.9 344.6,276.0 344.7,278.4 344.8,279.7 344.9,281.8 345.0,281.9 345.1,280.6 345.2,282.4 345.3,285.2 345.4,286.4 345.5,288.1 345.6,287.5 345.7,290.4 345.8,289.4 345.9,289.1 346.0,290.5 346.1,288.2 346.2,287.8 346.3,290.6 346.4,290.9 346.5,288.4 346.6,286.2 346.7,287.2 346.8,281.7 346.9,280.6 347.0,281.7 347.1,281.4 347.2,285.1 347.3,281.6 347.4,281.3 347.5,280.6 347.6,280.5 347.7,279.8 347.8,278.5 347.9,279.3 348.0,278.0 348.1,280.4 348.2,279.8 348.3,280.3 348.4,280.1 348.5,278.8 348.6,277.1 348.7,277.3 348.8,276.4 348.9,274.8 349.0,278.0 349.1,281.6 349.2,283.5 349.3,281.8 349.4,284.6 349.5,284.0 349.6,285.2 349.7,285.9 349.8,289.2 349.9,287.7 350.0,288.0 350.1,288.6 350.2,286.6 350.3,287.3 350.4,289.0 350.5,287.1 350.6,287.5 350.7,290.9 350.8,292.6 350.9,292.0 351.0,293.0 351.1,292.0 351.2,292.0 351.3,293.7 351.4,296.7 351.5,295.6 351.6,296.4 351.7,299.2 351.8,302.7 351.9,299.9 352.0,301.6 352.1,298.5 352.2,298.0 352.3,297.5 352.4,297.8 352.5,296.8 352.6,296.5 352.7,297.0 352.8,292.7 352.9,292.1 353.0,290.4 353.1,290.8 353.2,290.2 353.3,287.5 353.4,289.1 353.5,287.4 353.6,284.4 353.7,282.9 353.8,283.2 353.9,282.5 354.0,281.0 354.1,279.4 354.2,278.4 354.3,276.7 354.4,275.7 354.5,277.3 354.6,276.4 354.7,278.4 354.8,280.5 354.9,278.6 355.0,276.7 355.1,278.8 355.2,278.1 355.3,275.6 355.4,274.8 355.5,275.0 355.6,274.3 355.7,273.9 355.8,274.9 355.9,271.3 356.0,269.9 356.1,267.4 356.2,269.7 356.3,272.1 356.4,272.1 356.5,271.7 356.6,268.4 356.7,268.9 356.8,267.9 356.9,269.7 357.0,271.6 357.1,269.5 357.2,264.8 357.3,265.8 357.4,265.4 357.5,265.5 357.6,264.7 357.7,264.3 357.8,263.7 357.9,263.6 358.0,263.5 358.1,262.9 358.2,260.2 358.3,261.7 358.4,263.5 358.5,266.8 358.6,265.5 358.7,260.4 358.8,259.8 358.9,256.2 359.0,255.5 359.1,253.1 359.2,255.2 359.3,255.4 359.4,255.7 359.5,254.5 359.6,253.0 359.7,252.2 359.8,252.8 359.9,255.5 360.0,253.6 360.1,253.6 360.2,254.4 360.3,254.8 360.4,255.3 360.5,252.9 360.6,253.5 360.7,250.3 360.8,252.7 360.9,252.3 361.0,253.6 361.1,253.2 361.2,252.7 361.3,252.0 361.4,249.2 361.5,251.7 361.6,250.0 361.7,250.4 361.8,247.0 361.9,245.7 362.0,248.4 362.1,246.6 362.2,244.7 362.3,243.4 362.4,245.2 362.5,244.8 362.6,242.9 362.7,241.8 362.8,241.0 362.9,244.0 363.0,240.7 363.1,239.7 363.2,240.2 363.3,238.6 363.4,237.1 363.5,239.9 363.6,237.5 363.7,237.9 363.8,238.9 363.9,240.2 364.0,240.6 364.1,241.7 364.2,237.7 364.3,234.5 364.4,234.8 364.5,231.6 364.6,226.4 364.7,225.2 364.8,226.0 364.9,224.4 365.0,223.0 365.1,221.1 365.2,219.8 365.3,218.0 365.4,218.6 365.5,217.7 365.6,217.6 365.7,214.1 365.8,212.4 365.9,214.4 366.0,212.0 366.1,213.1 366.2,211.5 366.3,210.3 366.4,211.4 366.5,213.1 366.6,211.4 366.7,212.9 366.8,211.3 366.9,210.2 367.0,207.4 367.1,207.3 367.2,206.2 367.3,208.0 367.4,207.9 367.5,208.0 367.6,204.9 367.7,203.3 367.8,204.0 367.9,205.2 368.0,203.6 368.1,205.9 368.2,207.4 368.3,207.6 368.4,206.8 368.5,208.8 368.6,205.3 368.7,209.1 368.8,209.8 368.9,213.5 369.0,211.4 369.1,211.8 369.2,210.4 369.3,212.8 369.4,213.1 369.5,212.8 369.6,211.3 369.7,212.1 369.8,211.3 369.9,213.4 370.0,213.2 370.1,214.1 370.2,215.6 370.3,215.7 370.4,215.6 370.5,217.0 370.6,218.6 370.7,218.1 370.8,219.5 370.9,222.5 371.0,222.1 371.1,221.6 371.2,220.7 371.3,216.5 371.4,214.9 371.5,215.4 371.6,214.5 371.7,216.1 371.8,215.7 371.9,212.7 372.0,209.4 372.1,206.4 372.2,206.1 372.3,206.0 372.4,207.6 372.5,204.5 372.6,206.2 372.7,201.0 372.8,201.3 372.9,199.2 373.0,198.5 373.1,198.2 373.2,197.8 373.3,196.3 373.4,196.2 373.5,194.4 373.6,189.0 373.7,190.0 373.8,190.3 373.9,185.6 374.0,187.2 374.1,187.1 374.2,184.5 374.3,183.2 374.4,187.2 374.5,184.3 374.6,183.8 374.7,183.0 374.8,179.1 374.9,176.2 375.0,174.5 375.1,172.9 375.2,173.6 375.3,170.1 375.4,168.8 375.5,167.6 375.6,166.2 375.7,165.4 375.8,162.2 375.9,162.1 376.0,157.8 376.1,155.8 376.2,155.0 376.3,157.3 376.4,153.9 376.5,149.9 376.6,148.3 376.7,144.8 376.8,142.4 376.9,142.2 377.0,141.8 377.1,142.9 377.2,144.2 377.3,142.5 377.4,140.9 377.5,139.6 377.6,140.7 377.7,136.6 377.8,134.7 377.9,133.3 378.0,130.2 378.1,127.0 378.2,127.0 378.3,123.7 378.4,123.4 378.5,125.5 378.6,127.5 378.7,125.0 378.8,126.4 378.9,127.1 379.0,128.5 379.1,131.8 379.2,128.9 379.3,125.7 379.4,124.3 379.5,122.5 379.6,122.0 379.7,120.4 379.8,116.5 379.9,111.5 380.0,111.2 380.1,113.7 380.2,113.9 380.3,112.9 380.4,111.7 380.5,116.1 380.6,117.0 380.7,115.2 380.8,112.6 380.9,114.8 381.0,110.0 381.1,110.0 381.2,109.9 381.3,107.9 381.4,107.3 381.5,105.5 381.6,109.7 381.7,110.4 381.8,115.8 381.9,119.0 382.0,122.8 382.1,126.2 382.2,130.8 382.3,133.7 382.4,135.1 382.5,140.9 382.6,144.7 382.7,147.4 382.8,151.4 382.9,154.2 383.0,156.4 383.1,158.7 383.2,163.2 383.3,166.0 383.4,166.9 383.5,169.0 383.6,170.3 383.7,171.1 383.8,169.2 383.9,169.9 384.0,171.8 384.1,173.4 384.2,178.0 384.3,176.2 384.4,178.4 384.5,178.3 384.6,177.8 384.7,178.5 384.8,181.2 384.9,182.2 385.0,183.6 385.1,183.6 385.2,188.2 385.3,190.3 385.4,193.7 385.5,198.2 385.6,202.0 385.7,204.3 385.8,205.8 385.9,208.5 386.0,213.6 386.1,219.2 386.2,226.9 386.3,233.8 386.4,241.8 386.5,252.4 386.6,258.4 386.7,263.0 386.8,269.3 386.9,275.4 387.0,279.0 387.1,281.2 387.2,282.8 387.3,285.1 387.4,289.1 387.5,290.7 387.6,295.4 387.7,298.0 387.8,297.4 387.9,301.1 388.0,300.8 388.1,304.5 388.2,308.9 388.3,310.6 388.4,312.2 388.5,314.4 388.6,318.0 388.7,319.3 388.8,321.2 388.9,325.2 389.0,325.3 389.1,325.1 389.2,328.2 389.3,330.2 389.4,335.4 389.5,338.0 389.6,341.5 389.7,337.4 389.8,331.2 389.9,328.1 390.0,327.3 390.1,328.9 390.2,326.8 390.3,325.4 390.4,317.9 390.5,316.4 390.6,317.4 390.7,317.9 390.8,317.5 390.9,316.8 391.0,318.5 391.1,320.7 391.2,322.9 391.3,324.3 391.4,326.0 391.5,327.0 391.6,324.5 391.7,323.3 391.8,324.0 391.9,323.6 392.0,320.9 392.1,321.3 392.2,320.4 392.3,321.9 392.4,325.4 392.5,326.2 392.6,326.4 392.7,325.2 392.8,327.4 392.9,328.9 393.0,328.8 393.1,329.7 393.2,336.5 393.3,335.6 393.4,335.0 393.5,336.1 393.6,335.8 393.7,336.1 393.8,335.0 393.9,334.1 394.0,326.5 394.1,321.8 394.2,320.2 394.3,318.2 394.4,313.7 394.5,310.4 394.6,308.8 394.7,305.7 394.8,302.0 394.9,298.9 395.0,299.7 395.1,304.6 395.2,303.3 395.3,304.3 395.4,305.5 395.5,304.0 395.6,299.8 395.7,302.4 395.8,302.4 395.9,301.4 396.0,301.4 396.1,301.6 396.2,306.8 396.3,305.6 396.4,304.5 396.5,303.6 396.6,306.7 396.7,308.9 396.8,309.1 396.9,310.5 397.0,312.2 397.1,311.1 397.2,307.9 397.3,306.9 397.4,305.2 397.5,300.7 397.6,295.9 397.7,293.3 397.8,295.1 397.9,293.3 398.0,294.5 398.1,290.2 398.2,289.3 398.3,287.7 398.4,282.2 398.5,278.6 398.6,274.9 398.7,276.3 398.8,274.5 398.9,275.1 399.0,276.0 399.1,277.0 399.2,271.0 399.3,267.7 399.4,264.5 399.5,264.3 399.6,262.1 399.7,259.8 399.8,260.5 399.9,263.4 400.0,264.1 400.1,266.5 400.2,270.3 400.3,267.6 400.4,268.9 400.5,270.8 400.6,273.5 400.7,273.5 400.8,279.5 400.9,282.1 401.0,286.6 401.1,284.1 401.2,283.8 401.3,280.8 401.4,277.9 401.5,278.1 401.6,275.4 401.7,273.8 401.8,274.0 401.9,273.9 402.0,272.5 402.1,265.9 402.2,264.1 402.3,266.5 402.4,261.0 402.5,262.7 402.6,261.2 402.7,258.1 402.8,259.4 402.9,258.3 403.0,257.4 403.1,257.7 403.2,257.8 403.3,259.9 403.4,261.7 403.5,258.3 403.6,257.4 403.7,261.3 403.8,260.8 403.9,261.2 404.0,261.1 404.1,261.5 404.2,260.4 404.3,259.6 404.4,261.0 404.5,264.8 404.6,267.3 404.7,271.9 404.8,273.7 404.9,273.7 405.0,272.8 405.1,268.0 405.2,267.2 405.3,265.2 405.4,265.8 405.5,264.2 405.6,262.7 405.7,259.6 405.8,256.7 405.9,255.0 406.0,248.6 406.1,248.1 406.2,246.9 406.3,245.5 406.4,243.4 406.5,247.9 406.6,248.6 406.7,245.5 406.8,244.1 406.9,243.7 407.0,243.2 407.1,245.4 407.2,246.7 407.3,248.9 407.4,250.9 407.5,248.9 407.6,249.0 407.7,250.2 407.8,251.0 407.9,250.1 408.0,252.8 408.1,252.7 408.2,252.0 408.3,247.8 408.4,248.7 408.5,251.6 408.6,250.2 408.7,249.8 408.8,248.5 408.9,249.9 409.0,247.2 409.1,248.5 409.2,248.2 409.3,249.0 409.4,254.0 409.5,254.0 409.6,255.3 409.7,257.7 409.8,260.5 409.9,261.6 410.0,266.1 410.1,264.5 410.2,264.5 410.3,264.5 410.4,261.4 410.5,258.9 410.6,258.4 410.7,254.4 410.8,252.0 410.9,252.9 411.0,252.6 411.1,250.3 411.2,250.3 411.3,249.3 411.4,248.2 411.5,248.3 411.6,245.8 411.7,245.8 411.8,247.5 411.9,246.9 412.0,247.0 412.1,246.5 412.2,245.4 412.3,247.5 412.4,247.0 412.5,250.3 412.6,254.5 412.7,256.8 412.8,259.9 412.9,260.8 413.0,260.8 413.1,258.6 413.2,255.2 413.3,249.2 413.4,244.2 413.5,242.9 413.6,245.5 413.7,245.0 413.8,242.5 413.9,242.4 414.0,237.3 414.1,235.5 414.2,237.6 414.3,241.0 414.4,243.7 414.5,243.9 414.6,242.2 414.7,244.1 414.8,246.7 414.9,248.7 415.0,246.7 415.1,250.1 415.2,248.3 415.3,246.8 415.4,247.8 415.5,248.5 415.6,245.3 415.7,243.4 415.8,246.2 415.9,246.0 416.0,244.0 416.1,243.6 416.2,239.1 416.3,237.7 416.4,239.5 416.5,238.8 416.6,236.8 416.7,236.6 416.8,236.0 416.9,233.5 417.0,232.8 417.1,234.5 417.2,236.6 417.3,235.0 417.4,239.1 417.5,241.7 417.6,244.6 417.7,246.7 417.8,250.1 417.9,251.7 418.0,254.0 418.1,253.4 418.2,254.0 418.3,256.9 418.4,261.8 418.5,263.6 418.6,267.0 418.7,263.3 418.8,261.9 418.9,262.4 419.0,261.2 419.1,261.0 419.2,256.5 419.3,255.9 419.4,256.3 419.5,256.1 419.6,254.5 419.7,250.0 419.8,250.3 419.9,247.0 420.0,244.1 420.1,246.6 420.2,246.9 420.3,245.9 420.4,247.9 420.5,248.9 420.6,248.8 420.7,251.0 420.8,253.0 420.9,253.4 421.0,255.7 421.1,258.2 421.2,258.7 421.3,257.5 421.4,253.9 421.5,251.6 421.6,249.4 421.7,248.6 421.8,251.5 421.9,254.5 422.0,252.0 422.1,254.6 422.2,254.7 422.3,255.7 422.4,255.8 422.5,257.7 422.6,257.2 422.7,256.7 422.8,257.4 422.9,258.0 423.0,258.2 423.1,259.8 423.2,259.3 423.3,259.7 423.4,259.6 423.5,260.7 423.6,263.3 423.7,265.6 423.8,264.5 423.9,262.6 424.0,261.2 424.1,258.3 424.2,259.3 424.3,257.7 424.4,256.3 424.5,255.9 424.6,254.4 424.7,254.1 424.8,253.2 424.9,253.1 425.0,251.0 425.1,250.3 425.2,250.0 425.3,247.6 425.4,246.7 425.5,248.4 425.6,248.8 425.7,245.6 425.8,242.6 425.9,242.8 426.0,239.0 426.1,238.3 426.2,239.0 426.3,238.3 426.4,240.1 426.5,242.7 426.6,239.6 426.7,238.5 426.8,236.5 426.9,236.4 427.0,234.3 427.1,234.3 427.2,233.6 427.3,232.7 427.4,233.4 427.5,233.6 427.6,236.1 427.7,235.6 427.8,233.7 427.9,232.9 428.0,230.6 428.1,228.5 428.2,229.0 428.3,230.5 428.4,230.4 428.5,228.6 428.6,225.4 428.7,226.1 428.8,223.8 428.9,224.4 429.0,225.8 429.1,225.5 429.2,224.8 429.3,223.3 429.4,224.6 429.5,224.1 429.6,224.3 429.7,226.0 429.8,227.6 429.9,227.9 430.0,225.3 430.1,222.6 430.2,219.6 430.3,220.4 430.4,221.7 430.5,220.6 430.6,221.7 430.7,222.9 430.8,219.5 430.9,216.3 431.0,216.3 431.1,217.7 431.2,218.4 431.3,218.5 431.4,218.1 431.5,221.8 431.6,217.5 431.7,218.7 431.8,219.4 431.9,218.6 432.0,217.6 432.1,218.4 432.2,218.8 432.3,218.9 432.4,216.5 432.5,217.9 432.6,217.9 432.7,219.2 432.8,218.1 432.9,215.6 433.0,211.1 433.1,211.4 433.2,210.1 433.3,208.1 433.4,205.6 433.5,204.1 433.6,204.1 433.7,203.7 433.8,205.1 433.9,204.7 434.0,205.3 434.1,206.3 434.2,206.9 434.3,206.1 434.4,207.9 434.5,206.4 434.6,202.8 434.7,205.1 434.8,203.8 434.9,203.7 435.0,203.3 435.1,201.9 435.2,202.3 435.3,198.7 435.4,196.5 435.5,197.2 435.6,197.4 435.7,195.8 435.8,194.3 435.9,198.6 436.0,201.2 436.1,201.3 436.2,198.1 436.3,196.5 436.4,194.2 436.5,189.8 436.6,187.5 436.7,185.4 436.8,187.9 436.9,187.4 437.0,190.3 437.1,187.7 437.2,186.0 437.3,182.7 437.4,180.5 437.5,178.2 437.6,177.8 437.7,176.1 437.8,173.4 437.9,170.5 438.0,172.0 438.1,174.9 438.2,175.6 438.3,176.8 438.4,180.2 438.5,182.6 438.6,181.4 438.7,182.8 438.8,183.9 438.9,181.9 439.0,183.5 439.1,183.3 439.2,183.3 439.3,186.4 439.4,190.0 439.5,191.8 439.6,196.0 439.7,195.9 439.8,195.9 439.9,197.8 440.0,197.8 440.1,200.8 440.2,199.7 440.3,201.5 440.4,205.0 440.5,205.6 440.6,206.1 440.7,205.1 440.8,202.0 440.9,201.9 441.0,203.2 441.1,203.3 441.2,203.6 441.3,206.5 441.4,208.3 441.5,210.5 441.6,206.5 441.7,203.8 441.8,204.8 441.9,205.9 442.0,205.8 442.1,207.1 442.2,209.2 442.3,208.1 442.4,208.9 442.5,212.0 442.6,214.4 442.7,214.6 442.8,214.2 442.9,214.9 443.0,215.6 443.1,219.0 443.2,221.4 443.3,221.2 443.4,223.2 443.5,224.2 443.6,223.5 443.7,226.5 443.8,228.7 443.9,227.5 444.0,229.6 444.1,229.6 444.2,230.5 444.3,230.1 444.4,228.3 444.5,231.2 444.6,231.9 444.7,231.1 444.8,233.7 444.9,234.9 445.0,237.6 445.1,235.8 445.2,234.6 445.3,236.8 445.4,235.8 445.5,237.0 445.6,236.6 445.7,237.8 445.8,241.2 445.9,241.7 446.0,243.2 446.1,244.9 446.2,243.6 446.3,246.3 446.4,245.5 446.5,247.1 446.6,251.0 446.7,250.1 446.8,252.5 446.9,251.5 447.0,251.1 447.1,251.3 447.2,245.2 447.3,243.9 447.4,246.7 447.5,247.1 447.6,244.7 447.7,245.5 447.8,243.0 447.9,239.4 448.0,238.7 448.1,235.5 448.2,236.5 448.3,234.1 448.4,235.6 448.5,232.2 448.6,229.3 448.7,225.0 448.8,228.2 448.9,225.5 449.0,224.7 449.1,224.0 449.2,221.9 449.3,220.4 449.4,221.4 449.5,221.0 449.6,219.7 449.7,219.7 449.8,217.6 449.9,216.8 450.0,213.8 450.1,213.0 450.2,211.5 450.3,210.4 450.4,209.0 450.5,209.5 450.6,208.8 450.7,206.5 450.8,205.8 450.9,198.2 451.0,199.9 451.1,199.4 451.2,202.4 451.3,203.2 451.4,203.7 451.5,202.7 451.6,201.1 451.7,200.3 451.8,196.6 451.9,198.4 452.0,198.3 452.1,201.0 452.2,201.0 452.3,196.5 452.4,197.3 452.5,194.6 452.6,194.2 452.7,196.8 452.8,199.4 452.9,200.3 453.0,197.9 453.1,198.4 453.2,197.3 453.3,194.8 453.4,194.6 453.5,195.1 453.6,195.2 453.7,196.0 453.8,198.0 453.9,196.1 454.0,192.4 454.1,193.8 454.2,193.0 454.3,192.0 454.4,190.1 454.5,191.4 454.6,189.7 454.7,188.8 454.8,190.8 454.9,190.1 455.0,189.1 455.1,191.4 455.2,192.7 455.3,193.5 455.4,192.2 455.5,191.0 455.6,188.5 455.7,190.2 455.8,190.7 455.9,191.1 456.0,191.6 456.1,192.3 456.2,192.9 456.3,195.8 456.4,190.4 456.5,192.0 456.6,191.6 456.7,190.7 456.8,190.8 456.9,191.9 457.0,189.8 457.1,189.7 457.2,189.3 457.3,187.5 457.4,187.0 457.5,184.7 457.6,181.3 457.7,180.8 457.8,181.3 457.9,182.7 458.0,183.5 458.1,187.8 458.2,188.8 458.3,189.9 458.4,189.5 458.5,191.6 458.6,194.7 458.7,193.2 458.8,199.0 458.9,203.7 459.0,203.2 459.1,202.0 459.2,206.1 459.3,207.8 459.4,209.2 459.5,208.3 459.6,210.2 459.7,211.3 459.8,215.4 459.9,216.3 460.0,217.6 460.1,216.9 460.2,215.5 460.3,218.3 460.4,224.9 460.5,225.7 460.6,227.5 460.7,229.6 460.8,232.8 460.9,234.5 461.0,237.2 461.1,237.7 461.2,237.4 461.3,241.8 461.4,245.4 461.5,249.1 461.6,250.0 461.7,245.7 461.8,242.3 461.9,240.1 462.0,240.0 462.1,238.0 462.2,238.7 462.3,237.8 462.4,234.5 462.5,233.6 462.6,229.6 462.7,229.3 462.8,230.0 462.9,233.1 463.0,230.4 463.1,229.5 463.2,230.8 463.3,228.2 463.4,228.0 463.5,225.9 463.6,224.3 463.7,225.1 463.8,221.6 463.9,219.8 464.0,219.1 464.1,219.9 464.2,216.8 464.3,214.5 464.4,213.8 464.5,214.0 464.6,213.4 464.7,216.1 464.8,216.5 464.9,215.5 465.0,211.1 465.1,210.6 465.2,211.4 465.3,212.8 465.4,211.0 465.5,212.4 465.6,211.3 465.7,208.3 465.8,207.4 465.9,206.1 466.0,204.2 466.1,204.3 466.2,206.1 466.3,206.9 466.4,207.2 466.5,210.4 466.6,214.8 466.7,214.3 466.8,215.2 466.9,215.6 467.0,218.0 467.1,217.6 467.2,217.4 467.3,218.6 467.4,217.1 467.5,219.1 467.6,218.7 467.7,222.2 467.8,223.7 467.9,223.9 468.0,222.2 468.1,222.5 468.2,224.0 468.3,226.9 468.4,228.4 468.5,230.0 468.6,230.1 468.7,229.4 468.8,230.9 468.9,231.3 469.0,232.8 469.1,231.7 469.2,229.5 469.3,229.4 469.4,228.5 469.5,228.3 469.6,230.3 469.7,228.6 469.8,225.9 469.9,224.6 470.0,229.0 470.1,229.0 470.2,229.6 470.3,229.8 470.4,228.7 470.5,228.7 470.6,226.8 470.7,228.3 470.8,227.7 470.9,225.6 471.0,223.1 471.1,224.2 471.2,222.6 471.3,220.4 471.4,221.0 471.5,219.9 471.6,220.6 471.7,220.7 471.8,220.2 471.9,217.3 472.0,217.6 472.1,215.7 472.2,216.8 472.3,216.2 472.4,216.5 472.5,215.8 472.6,215.7 472.7,216.1 472.8,216.1 472.9,218.3 473.0,213.9 473.1,213.6 473.2,213.2 473.3,214.2 473.4,210.8 473.5,212.2 473.6,213.2 473.7,212.3 473.8,211.6 473.9,208.5 474.0,206.5 474.1,209.6 474.2,212.1 474.3,212.4 474.4,213.4 474.5,212.7 474.6,210.4 474.7,210.0 474.8,208.9 474.9,209.3 475.0,207.4 475.1,208.9 475.2,210.4 475.3,211.5 475.4,209.7 475.5,206.9 475.6,208.1 475.7,209.6 475.8,211.9 475.9,210.4 476.0,214.3 476.1,214.2 476.2,214.2 476.3,215.1 476.4,217.2 476.5,216.7 476.6,218.8 476.7,221.4 476.8,222.0 476.9,221.8 477.0,219.9 477.1,221.7 477.2,220.5 477.3,218.4 477.4,219.5 477.5,221.8 477.6,221.4 477.7,222.6 477.8,223.3 477.9,224.5 478.0,225.6 478.1,226.0 478.2,226.9 478.3,229.4 478.4,228.7 478.5,224.9 478.6,221.8 478.7,222.7 478.8,227.8 478.9,228.3 479.0,230.8 479.1,226.3 479.2,222.8 479.3,223.6 479.4,220.8 479.5,218.0 479.6,219.0 479.7,219.1 479.8,219.3 479.9,219.4 480.0,213.8 480.1,212.5 480.2,214.4 480.3,211.6 480.4,209.4 480.5,204.5 480.6,201.9 480.7,204.3 480.8,204.9 480.9,204.6 481.0,204.7 481.1,204.6 481.2,204.7 481.3,203.0 481.4,202.0 481.5,201.8 481.6,201.0 481.7,200.0 481.8,195.9 481.9,195.6 482.0,194.6 482.1,193.3 482.2,191.6 482.3,190.3 482.4,189.2 482.5,188.7 482.6,186.8 482.7,188.6 482.8,186.5 482.9,182.9 483.0,183.8 483.1,185.8 483.2,187.7 483.3,190.1 483.4,189.9 483.5,190.2 483.6,191.0 483.7,191.5 483.8,191.3 483.9,194.2 484.0,196.4 484.1,196.0 484.2,195.1 484.3,194.0 484.4,194.4 484.5,192.5 484.6,190.3 484.7,191.9 484.8,192.1 484.9,191.8 485.0,193.9 485.1,191.0 485.2,191.1 485.3,195.1 485.4,197.2 485.5,197.5 485.6,198.4 485.7,198.5 485.8,201.9 485.9,201.6 486.0,202.6 486.1,204.0 486.2,202.4 486.3,205.6 486.4,204.6 486.5,203.7 486.6,203.0 486.7,202.2 486.8,202.0 486.9,202.2 487.0,204.4 487.1,203.0 487.2,206.0 487.3,203.1 487.4,202.9 487.5,206.5 487.6,205.5 487.7,205.5 487.8,206.9 487.9,206.6 488.0,209.6 488.1,211.4 488.2,212.2 488.3,210.0 488.4,208.2 488.5,208.1 488.6,208.1 488.7,208.3 488.8,212.0 488.9,212.7 489.0,211.9 489.1,210.7 489.2,212.4 489.3,212.2 489.4,213.0 489.5,212.8 489.6,214.2 489.7,215.6 489.8,215.9 489.9,217.0 490.0,220.2 490.1,218.8 490.2,218.7 490.3,214.4 490.4,213.8 490.5,216.1 490.6,217.1 490.7,217.9 490.8,219.8 490.9,215.9 491.0,213.7 491.1,211.2 491.2,213.0 491.3,214.8 491.4,214.1 491.5,217.6 491.6,222.6 491.7,220.9 491.8,219.6 491.9,217.2 492.0,216.2 492.1,214.9 492.2,215.5 492.3,217.8 492.4,218.4 492.5,218.1 492.6,213.3 492.7,214.9 492.8,214.5 492.9,214.3 493.0,214.4 493.1,216.5 493.2,216.6 493.3,219.0 493.4,220.5 493.5,220.9 493.6,220.7 493.7,216.7 493.8,216.9 493.9,215.4 494.0,213.5 494.1,211.0 494.2,207.7 494.3,209.8 494.4,210.1 494.5,207.6 494.6,205.1 494.7,202.6 494.8,200.6 494.9,201.4 495.0,200.4 495.1,199.9 495.2,203.2 495.3,199.5 495.4,200.1 495.5,201.2 495.6,201.1 495.7,201.6 495.8,201.3 495.9,200.6 496.0,198.7 496.1,199.3 496.2,200.3 496.3,201.1 496.4,204.3 496.5,201.9 496.6,200.4 496.7,197.5 496.8,197.1 496.9,195.1 497.0,196.5 497.1,195.4 497.2,196.8 497.3,197.3 497.4,199.3 497.5,196.4 497.6,197.4 497.7,197.9 497.8,197.8 497.9,193.8 498.0,194.9 498.1,194.1 498.2,192.4 498.3,192.0 498.4,188.2 498.5,191.7 498.6,192.2 498.7,194.1 498.8,193.4 498.9,191.1 499.0,188.3 499.1,187.5 499.2,188.0 499.3,190.8 499.4,192.3 499.5,192.1 499.6,191.4 499.7,191.1 499.8,190.3 499.9,188.3 500.0,189.3 500.1,186.2 500.2,186.9 500.3,185.1 500.4,187.0 500.5,186.7 500.6,185.8 500.7,181.9 500.8,181.2 500.9,181.9 501.0,183.4 501.1,185.4 501.2,188.1 501.3,189.0 501.4,188.2 501.5,187.0 501.6,190.9 501.7,191.3 501.8,189.5 501.9,189.7 502.0,190.8 502.1,190.8 502.2,190.3 502.3,191.4 502.4,194.4 502.5,196.3 502.6,194.1 502.7,192.9 502.8,193.4 502.9,191.5 503.0,195.5 503.1,199.0 503.2,197.7 503.3,198.5 503.4,201.3 503.5,200.3 503.6,201.6 503.7,199.6 503.8,197.6 503.9,197.2 504.0,199.5 504.1,200.3 504.2,201.1 504.3,203.4 504.4,206.0 504.5,206.3 504.6,207.8 504.7,210.2 504.8,208.7 504.9,207.3 505.0,208.5 505.1,209.2 505.2,211.8 505.3,210.1 505.4,210.6 505.5,208.5 505.6,210.3 505.7,213.3 505.8,213.9 505.9,215.2 506.0,211.3 506.1,211.0 506.2,212.2 506.3,212.0 506.4,212.2 506.5,211.2 506.6,210.5 506.7,210.5 506.8,211.3 506.9,211.4 507.0,212.4 507.1,215.6 507.2,215.4 507.3,215.0 507.4,220.1 507.5,222.7 507.6,224.9 507.7,226.5 507.8,229.0 507.9,230.1 508.0,234.9 508.1,237.4 508.2,236.2 508.3,237.9 508.4,240.2 508.5,239.2 508.6,241.3 508.7,239.1 508.8,242.2 508.9,243.9 509.0,246.3 509.1,246.7 509.2,248.6 509.3,252.1 509.4,255.2 509.5,254.1 509.6,255.3 509.7,258.4 509.8,257.6 509.9,260.8 510.0,264.5 510.1,261.9 510.2,264.2 510.3,267.3 510.4,271.1 510.5,273.1 510.6,272.4 510.7,274.3 510.8,275.6 510.9,277.0 511.0,280.9 511.1,283.5 511.2,288.3 511.3,291.8 511.4,293.2 511.5,294.8 511.6,296.2 511.7,296.8 511.8,299.3 511.9,304.3 512.0,306.7 512.1,305.7 512.2,307.9 512.3,306.1 512.4,304.5 512.5,299.9 512.6,301.8 512.7,302.5 512.8,305.6 512.9,307.7 513.0,311.9 513.1,312.5 513.2,314.4 513.3,314.6 513.4,315.1 513.5,317.7 513.6,317.2 513.7,315.8 513.8,318.3 513.9,321.4 514.0,323.2 514.1,323.2 514.2,321.5 514.3,315.8 514.4,315.0 514.5,315.1 514.6,313.6 514.7,312.6 514.8,308.8 514.9,306.7 515.0,306.1 515.1,304.5 515.2,303.0 515.3,302.7 515.4,300.2 515.5,296.8 515.6,295.2 515.7,296.4 515.8,300.0 515.9,303.9 516.0,302.3 516.1,301.5 516.2,301.8 516.3,299.7 516.4,302.5 516.5,306.9 516.6,306.6 516.7,307.2 516.8,310.1 516.9,314.8 517.0,316.4 517.1,313.6 517.2,314.9 517.3,313.4 517.4,309.5 517.5,307.7 517.6,303.8 517.7,300.9 517.8,302.9 517.9,299.9 518.0,298.7 518.1,295.9 518.2,295.3 518.3,293.2 518.4,292.8 518.5,296.5 518.6,296.7 518.7,298.0 518.8,296.7 518.9,293.8 519.0,289.8 519.1,288.5 519.2,288.7 519.3,287.9 519.4,289.2 519.5,286.4 519.6,286.2 519.7,288.1 519.8,289.3 519.9,285.6 520.0,287.6 520.1,285.8 520.2,283.4 520.3,285.8 520.4,285.5 520.5,286.1 520.6,286.6 520.7,286.1 520.8,286.9 520.9,288.3 521.0,288.6 521.1,285.2 521.2,283.3 521.3,280.7 521.4,279.8 521.5,283.4 521.6,282.8 521.7,281.0 521.8,281.1 521.9,280.9 522.0,280.4 522.1,283.2 522.2,283.2 522.3,286.1 522.4,288.8 522.5,291.2 522.6,294.0 522.7,293.5 522.8,295.2 522.9,295.7 523.0,298.9 523.1,300.6 523.2,299.9 523.3,303.9 523.4,307.2 523.5,307.6 523.6,307.4 523.7,307.8 523.8,306.9 523.9,308.0 524.0,308.5 524.1,309.0 524.2,310.6 524.3,312.7 524.4,312.6 524.5,315.3 524.6,319.1 524.7,322.4 524.8,323.6 524.9,326.5 525.0,321.1 525.1,320.6 525.2,322.5 525.3,325.5 525.4,327.3 525.5,329.7 525.6,331.9 525.7,328.6 525.8,330.9 525.9,327.2 526.0,324.8 526.1,323.8 526.2,323.2 526.3,322.1 526.4,322.8 526.5,322.8 526.6,316.8 526.7,315.1 526.8,315.4 526.9,312.7 527.0,312.0 527.1,311.7 527.2,308.9 527.3,310.2 527.4,308.6 527.5,308.1 527.6,309.3 527.7,309.6 527.8,310.5 527.9,309.9 528.0,310.6 528.1,310.0 528.2,312.0 528.3,312.3 528.4,309.7 528.5,312.0 528.6,312.7 528.7,314.6 528.8,313.1 528.9,313.6 529.0,313.8 529.1,313.8 529.2,318.6 529.3,321.5 529.4,320.2 529.5,319.8 529.6,318.3 529.7,316.1 529.8,315.4 529.9,313.7 530.0,316.1 530.1,316.0 530.2,315.0 530.3,318.2 530.4,318.0 530.5,318.7 530.6,321.7 530.7,322.9 530.8,326.0 530.9,327.2 531.0,329.1 531.1,330.4 531.2,329.3 531.3,326.9 531.4,328.6 531.5,331.1 531.6,331.9 531.7,332.1 531.8,329.6 531.9,333.9 532.0,333.0 532.1,330.2 532.2,329.9 532.3,331.9 532.4,332.8 532.5,335.1 532.6,334.9 532.7,335.5 532.8,338.5 532.9,340.7 533.0,340.9 533.1,342.5 533.2,344.4 533.3,343.1 533.4,344.7 533.5,344.9 533.6,346.0 533.7,346.3 533.8,346.9 533.9,348.3 534.0,352.5 534.1,352.0 534.2,349.9 534.3,351.5 534.4,353.8 534.5,354.8 534.6,356.2 534.7,357.2 534.8,360.4 534.9,363.0 535.0,362.3 535.1,357.9 535.2,356.3 535.3,354.0 535.4,352.8 535.5,354.6 535.6,353.6 535.7,352.0 535.8,351.1 535.9,349.8 536.0,349.0 536.1,346.6 536.2,346.6 536.3,345.8 536.4,345.3 536.5,342.6 536.6,340.4 536.7,337.0 536.8,335.1 536.9,334.8 537.0,335.4 537.1,333.9 537.2,330.7 537.3,330.5 537.4,327.0 537.5,332.2 537.6,330.9 537.7,332.3 537.8,332.2 537.9,331.2 538.0,328.9 538.1,326.2 538.2,328.8 538.3,328.3 538.4,325.6 538.5,327.0 538.6,325.5 538.7,324.8 538.8,323.6 538.9,322.0 539.0,326.4 539.1,324.5 539.2,323.7 539.3,322.2 539.4,322.4 539.5,319.9 539.6,319.2 539.7,319.8 539.8,319.6 539.9,317.3 540.0,318.0 540.1,315.9 540.2,311.9 540.3,311.1 540.4,309.2 540.5,306.6 540.6,308.4 540.7,306.3 540.8,309.2 540.9,308.0 541.0,307.3 541.1,304.1 541.2,303.8 541.3,304.5 541.4,308.4 541.5,304.2 541.6,303.3 541.7,303.6 541.8,308.5 541.9,311.6 542.0,311.9 542.1,312.1 542.2,311.6 542.3,312.7 542.4,311.2 542.5,313.0 542.6,313.7 542.7,313.6 542.8,314.9 542.9,316.5 543.0,318.6 543.1,316.3 543.2,318.1 543.3,317.6 543.4,320.3 543.5,323.0 543.6,324.7 543.7,324.5 543.8,326.4 543.9,326.8 544.0,323.3 544.1,325.8 544.2,327.3 544.3,326.2 544.4,325.7 544.5,328.0 544.6,329.7 544.7,331.8 544.8,335.3 544.9,330.2 545.0,328.9 545.1,324.2 545.2,323.7 545.3,324.7 545.4,323.3 545.5,320.3 545.6,318.9 545.7,320.2 545.8,319.0 545.9,315.4 546.0,314.7 546.1,318.0 546.2,314.7 546.3,312.1 546.4,312.0 546.5,311.0 546.6,313.4 546.7,311.8 546.8,310.7 546.9,311.3 547.0,309.3 547.1,308.5 547.2,308.8 547.3,310.7 547.4,311.5 547.5,310.7 547.6,308.0 547.7,309.6 547.8,304.5 547.9,301.0 548.0,304.0 548.1,303.6 548.2,308.6 548.3,309.1 548.4,309.2 548.5,304.5 548.6,303.3 548.7,303.2 548.8,303.9 548.9,306.2 549.0,308.4 549.1,308.9 549.2,312.2 549.3,313.9 549.4,315.1 549.5,316.8 549.6,316.2 549.7,316.9 549.8,316.9 549.9,319.6 550.0,321.6 550.1,321.6 550.2,318.0 550.3,317.7 550.4,317.1 550.5,314.3 550.6,316.5 550.7,316.4 550.8,313.8 550.9,314.1 551.0,310.5 551.1,310.4 551.2,311.2 551.3,309.1 551.4,309.6 551.5,310.0 551.6,310.0 551.7,309.8 551.8,307.9 551.9,304.4 552.0,303.8 552.1,305.4 552.2,307.6 552.3,309.4 552.4,308.2 552.5,306.3 552.6,307.3 552.7,305.3 552.8,304.8 552.9,301.1 553.0,299.6 553.1,298.1 553.2,296.9 553.3,299.4 553.4,302.0 553.5,301.6 553.6,301.9 553.7,298.6 553.8,299.6 553.9,299.0 554.0,298.9 554.1,298.6 554.2,298.2 554.3,302.2 554.4,302.2 554.5,301.6 554.6,299.6 554.7,301.2 554.8,299.4 554.9,299.3 555.0,300.3 555.1,299.6 555.2,298.7 555.3,298.0 555.4,293.1 555.5,294.4 555.6,296.6 555.7,294.5 555.8,296.1 555.9,299.0 556.0,297.7 556.1,297.7 556.2,298.4 556.3,297.1 556.4,299.5 556.5,300.9 556.6,300.8 556.7,300.8 556.8,302.1 556.9,302.2 557.0,302.2 557.1,303.5 557.2,303.7 557.3,302.2 557.4,301.5 557.5,302.6 557.6,301.6 557.7,299.5 557.8,300.7 557.9,299.8 558.0,301.2 558.1,299.5 558.2,300.0 558.3,299.2 558.4,298.5 558.5,301.6 558.6,302.1 558.7,301.2 558.8,302.3 558.9,302.2 559.0,301.5 559.1,301.0 559.2,302.4 559.3,304.6 559.4,303.1 559.5,304.7 559.6,304.7 559.7,308.0 559.8,310.5 559.9,310.5 560.0,310.8 560.1,310.9 560.2,309.0 560.3,308.6 560.4,306.9 560.5,311.6 560.6,314.2 560.7,313.3 560.8,314.2 560.9,313.8 561.0,316.9 561.1,316.8 561.2,319.2 561.3,316.7 561.4,317.1 561.5,318.4 561.6,321.7 561.7,323.0 561.8,322.7 561.9,319.0 562.0,316.0 562.1,314.8 562.2,315.8 562.3,320.7 562.4,320.1 562.5,321.6 562.6,323.2 562.7,321.9 562.8,324.5 562.9,322.6 563.0,321.5 563.1,322.1 563.2,323.3 563.3,324.4 563.4,325.6 563.5,326.8 563.6,325.0 563.7,323.3 563.8,322.0 563.9,319.0 564.0,316.8 564.1,317.2 564.2,319.2 564.3,319.1 564.4,315.4 564.5,312.1 564.6,314.4 564.7,315.3 564.8,316.6 564.9,314.7 565.0,311.9 565.1,313.4 565.2,313.1 565.3,312.3 565.4,310.8 565.5,311.1 565.6,310.0 565.7,309.5 565.8,308.5 565.9,308.5 566.0,308.1 566.1,309.1 566.2,310.8 566.3,313.4 566.4,313.3 566.5,311.3 566.6,309.1 566.7,307.6 566.8,306.6 566.9,306.6 567.0,310.5 567.1,309.6 567.2,308.0 567.3,306.3 567.4,306.0 567.5,304.5 567.6,303.9 567.7,303.3 567.8,301.9 567.9,303.5 568.0,305.2 568.1,302.7 568.2,301.2 568.3,303.9 568.4,303.5 568.5,305.4 568.6,304.4 568.7,301.0 568.8,305.4 568.9,305.7 569.0,305.5 569.1,304.2 569.2,303.5 569.3,304.3 569.4,301.8 569.5,299.3 569.6,303.3 569.7,303.1 569.8,300.0 569.9,298.3 570.0,299.1 570.1,295.7 570.2,293.0 570.3,292.9 570.4,293.5 570.5,294.3 570.6,294.0 570.7,293.4 570.8,295.1 570.9,295.4 571.0,291.4 571.1,292.4 571.2,290.7 571.3,291.2 571.4,289.9 571.5,288.2 571.6,287.0 571.7,285.3 571.8,286.4 571.9,287.0 572.0,289.5 572.1,289.5 572.2,288.6 572.3,289.4 572.4,290.5 572.5,291.4 572.6,291.2 572.7,289.9 572.8,290.8 572.9,290.8 573.0,290.1 573.1,289.3 573.2,289.6 573.3,292.0 573.4,291.9 573.5,292.1 573.6,287.1 573.7,289.2 573.8,287.8 573.9,285.6 574.0,283.1 574.1,284.1 574.2,287.4 574.3,284.7 574.4,282.6 574.5,284.0 574.6,282.1 574.7,279.2 574.8,279.2 574.9,277.9 575.0,275.5 575.1,277.4 575.2,278.4 575.3,278.2 575.4,277.4 575.5,278.3 575.6,279.7 575.7,280.9 575.8,280.5 575.9,277.7 576.0,280.0 576.1,279.2 576.2,275.6 576.3,277.9 576.4,279.2 576.5,282.3 576.6,282.0 576.7,285.6 576.8,282.7 576.9,284.2 577.0,281.6 577.1,281.6 577.2,281.1 577.3,280.2 577.4,281.7 577.5,281.2 577.6,283.4 577.7,282.6 577.8,282.2 577.9,284.5 578.0,283.0 578.1,284.4 578.2,284.4 578.3,282.3 578.4,283.7 578.5,284.5 578.6,282.1 578.7,281.3 578.8,280.5 578.9,281.7 579.0,282.0 579.1,283.5 579.2,281.3 579.3,281.2 579.4,279.1 579.5,278.6 579.6,275.1 579.7,276.5 579.8,279.2 579.9,275.2 580.0,278.0 580.1,279.4 580.2,277.6 580.3,273.9 580.4,273.0 580.5,272.4 580.6,270.9 580.7,272.9 580.8,273.6 580.9,273.7 581.0,273.7 581.1,274.9 581.2,274.8 581.3,275.5 581.4,274.3 581.5,273.5 581.6,270.2 581.7,269.8 581.8,268.8 581.9,267.9 582.0,267.3 582.1,265.8 582.2,263.5 582.3,260.1 582.4,258.0 582.5,258.3 582.6,260.0 582.7,261.9 582.8,264.4 582.9,263.8 583.0,261.1 583.1,259.4 583.2,255.7 583.3,258.7 583.4,258.3 583.5,259.3 583.6,259.3 583.7,259.3 583.8,258.0 583.9,260.9 584.0,258.9 584.1,256.4 584.2,258.1 584.3,257.2 584.4,257.7 584.5,258.3 584.6,261.1 584.7,260.7 584.8,258.4 584.9,257.3 585.0,254.5 585.1,255.7 585.2,254.5 585.3,255.4 585.4,256.1 585.5,257.1 585.6,257.8 585.7,256.0 585.8,256.0 585.9,253.8 586.0,253.0 586.1,254.9 586.2,256.5 586.3,255.4 586.4,254.9 586.5,254.9 586.6,254.9 586.7,256.3 586.8,252.8 586.9,253.0 587.0,252.8 587.1,252.2 587.2,253.1 587.3,251.8 587.4,253.1 587.5,251.3 587.6,251.9 587.7,251.4 587.8,252.6 587.9,251.8 588.0,252.3 588.1,251.6 588.2,249.0 588.3,252.1 588.4,249.9 588.5,251.4 588.6,253.7 588.7,254.0 588.8,255.4 588.9,255.2 589.0,256.3 589.1,259.9 589.2,263.4 589.3,264.7 589.4,265.2 589.5,264.0 589.6,264.1 589.7,266.3 589.8,267.1 589.9,268.4 590.0,271.3 590.1,270.8 590.2,272.1 590.3,274.6 590.4,278.9 590.5,280.5 590.6,282.3 590.7,283.0 590.8,281.7 590.9,283.1 591.0,285.4 591.1,290.8 591.2,291.1 591.3,296.2 591.4,298.5 591.5,300.4 591.6,301.9 591.7,303.1 591.8,302.9 591.9,305.0 592.0,309.8 592.1,310.7 592.2,311.0 592.3,311.7 592.4,311.0 592.5,313.1 592.6,314.3 592.7,316.9 592.8,319.3 592.9,319.7 593.0,320.1 593.1,320.6 593.2,320.4 593.3,325.6 593.4,326.9 593.5,321.0 593.6,319.6 593.7,318.3 593.8,315.7 593.9,314.3 594.0,315.0 594.1,313.7 594.2,313.4 594.3,309.8 594.4,307.9 594.5,304.9 594.6,303.7 594.7,305.7 594.8,305.2 594.9,303.6 595.0,305.3 595.1,302.5 595.2,302.4 595.3,299.0 595.4,299.3 595.5,298.2 595.6,300.4 595.7,301.7 595.8,300.4 595.9,300.2 596.0,298.4 596.1,296.2 596.2,294.3 596.3,294.8 596.4,295.4 596.5,294.7 596.6,297.1 596.7,296.0 596.8,296.7 596.9,295.4 597.0,295.6 597.1,291.1 597.2,292.1 597.3,289.4 597.4,288.3 597.5,289.2 597.6,288.8 597.7,288.7 597.8,289.6 597.9,291.8 598.0,291.6 598.1,289.1 598.2,291.6 598.3,293.0 598.4,291.1 598.5,290.7 598.6,291.1 598.7,286.4 598.8,288.2 598.9,287.4 599.0,287.2 599.1,285.5 599.2,284.6 599.3,284.4 599.4,281.5 599.5,278.2 599.6,275.9 599.7,275.1 599.8,276.7 599.9,275.0 600.0,277.4 600.1,278.1 600.2,279.2 600.3,280.2 600.4,281.4 600.5,283.5 600.6,279.7 600.7,281.0 600.8,281.5 600.9,282.6 601.0,285.0 601.1,285.6 601.2,286.3 601.3,287.5 601.4,287.7 601.5,287.8 601.6,288.8 601.7,286.0 601.8,284.3 601.9,287.0 602.0,287.3 602.1,287.1 602.2,288.8 602.3,291.7 602.4,292.2 602.5,292.9 602.6,295.4 602.7,296.8 602.8,296.7 602.9,300.0 603.0,300.6 603.1,300.4 603.2,302.1 603.3,300.9 603.4,302.1 603.5,298.9 603.6,299.5 603.7,301.4 603.8,303.4 603.9,301.4 604.0,296.8 604.1,297.4 604.2,297.1 604.3,295.8 604.4,293.5 604.5,294.1 604.6,291.3 604.7,290.5 604.8,288.8 604.9,289.1 605.0,288.9 605.1,289.0 605.2,288.0 605.3,290.1 605.4,291.5 605.5,292.4 605.6,292.7 605.7,297.1 605.8,300.3 605.9,300.6 606.0,303.3 606.1,302.6 606.2,302.8 606.3,304.0 606.4,305.2 606.5,306.2 606.6,304.3 606.7,304.0 606.8,301.7 606.9,300.3 607.0,298.3 607.1,300.1 607.2,300.6 607.3,297.0 607.4,295.8 607.5,292.9 607.6,291.4 607.7,289.5 607.8,286.7 607.9,285.2 608.0,285.5 608.1,285.7 608.2,281.8 608.3,283.7 608.4,284.3 608.5,282.7 608.6,283.1 608.7,284.2 608.8,285.0 608.9,285.7 609.0,289.4 609.1,291.5 609.2,291.1 609.3,292.7 609.4,293.6 609.5,294.5 609.6,297.0 609.7,299.0 609.8,298.9 609.9,300.4 610.0,299.0 610.1,300.4 610.2,300.9 610.3,299.6 610.4,302.2 610.5,301.6 610.6,299.2 610.7,299.3 610.8,299.4 610.9,298.3 611.0,295.8 611.1,297.4 611.2,296.8 611.3,298.9 611.4,296.7 611.5,296.7 611.6,295.8 611.7,296.8 611.8,297.0 611.9,296.7 612.0,295.6 612.1,293.9 612.2,292.0 612.3,293.9 612.4,293.9 612.5,294.9 612.6,294.7 612.7,293.7 612.8,292.5 612.9,292.2 613.0,289.5 613.1,288.3 613.2,287.6 613.3,287.1 613.4,288.1 613.5,285.9 613.6,286.7 613.7,288.3 613.8,288.3 613.9,287.5 614.0,286.5 614.1,288.5 614.2,288.8 614.3,285.8 614.4,286.2 614.5,284.0 614.6,282.1 614.7,279.8 614.8,279.7 614.9,281.3 615.0,277.7 615.1,279.8 615.2,280.4 615.3,283.4 615.4,285.7 615.5,288.0 615.6,287.9 615.7,290.9 615.8,291.1 615.9,292.4 616.0,290.8 616.1,294.0 616.2,294.5 616.3,295.5 616.4,295.5 616.5,295.0 616.6,297.2 616.7,298.1 616.8,297.8 616.9,298.0 617.0,298.7 617.1,299.6 617.2,301.5 617.3,303.4 617.4,304.3 617.5,304.6 617.6,305.4 617.7,314.7 617.8,322.6 617.9,332.9 618.0,336.8 618.1,343.3 618.2,350.1"/>
<polyline fill="none" stroke="#29abe2" stroke-width="2.6" stroke-linejoin="round" stroke-linecap="round" points="105.0,320.3 105.1,318.7 105.2,319.6 105.3,320.9 105.4,322.4 105.5,322.1 105.6,320.4 105.7,320.4 105.8,320.4 105.9,322.0 106.0,322.0 106.1,320.8 106.2,318.8 106.3,320.1 106.4,320.7 106.5,320.3 106.6,321.1 106.7,319.1 106.8,318.7 106.9,318.9 107.0,319.3 107.1,318.3 107.2,318.5 107.3,318.8 107.4,319.4 107.5,319.1 107.6,318.9 107.7,318.8 107.8,319.3 107.9,318.8 108.0,318.4 108.1,318.5 108.2,319.3 108.3,318.4 108.4,318.0 108.5,317.0 108.6,316.4 108.7,315.3 108.8,315.7 108.9,315.8 109.0,317.0 109.1,318.1 109.2,317.5 109.3,317.7 109.4,316.7 109.5,317.2 109.6,316.0 109.7,315.3 109.8,315.1 109.9,314.7 110.0,315.5 110.1,315.1 110.2,314.9 110.3,314.4 110.4,314.8 110.5,313.8 110.6,315.4 110.7,314.7 110.8,315.5 110.9,316.4 111.0,316.7 111.1,316.7 111.2,316.8 111.3,317.2 111.4,317.8 111.5,317.9 111.6,318.2 111.7,317.8 111.8,318.4 111.9,318.1 112.0,316.6 112.1,316.6 112.2,317.3 112.3,317.2 112.4,318.3 112.5,317.5 112.6,316.1 112.7,315.0 112.8,315.0 112.9,314.1 113.0,314.5 113.1,313.9 113.2,313.7 113.3,313.7 113.4,313.7 113.5,313.1 113.6,313.1 113.7,312.1 113.8,314.1 113.9,314.1 114.0,312.4 114.1,314.1 114.2,313.0 114.3,312.4 114.4,312.7 114.5,313.4 114.6,311.8 114.7,312.0 114.8,311.1 114.9,310.8 115.0,310.1 115.1,309.7 115.2,310.9 115.3,310.1 115.4,311.0 115.5,311.3 115.6,311.3 115.7,309.1 115.8,311.1 115.9,311.4 116.0,309.9 116.1,310.6 116.2,310.3 116.3,309.4 116.4,308.4 116.5,308.0 116.6,307.2 116.7,308.2 116.8,308.0 116.9,308.5 117.0,310.1 117.1,309.2 117.2,308.5 117.3,308.7 117.4,306.9 117.5,305.7 117.6,306.6 117.7,305.6 117.8,304.6 117.9,303.5 118.0,304.0 118.1,303.0 118.2,303.4 118.3,303.4 118.4,304.8 118.5,307.0 118.6,306.4 118.7,305.5 118.8,305.3 118.9,304.0 119.0,303.1 119.1,303.2 119.2,304.0 119.3,305.7 119.4,304.3 119.5,303.6 119.6,304.5 119.7,304.2 119.8,303.4 119.9,303.9 120.0,303.9 120.1,303.2 120.2,301.9 120.3,301.4 120.4,302.6 120.5,301.7 120.6,299.4 120.7,300.3 120.8,300.0 120.9,299.9 121.0,299.6 121.1,299.6 121.2,300.5 121.3,299.9 121.4,298.7 121.5,298.9 121.6,298.1 121.7,297.4 121.8,296.7 121.9,297.6 122.0,297.4 122.1,296.7 122.2,297.6 122.3,298.0 122.4,296.1 122.5,295.3 122.6,293.8 122.7,294.1 122.8,293.1 122.9,292.1 123.0,291.6 123.1,293.1 123.2,294.4 123.3,292.5 123.4,292.0 123.5,293.2 123.6,291.7 123.7,291.3 123.8,290.8 123.9,291.6 124.0,291.0 124.1,291.7 124.2,290.1 124.3,289.6 124.4,289.9 124.5,289.0 124.6,289.1 124.7,289.0 124.8,286.7 124.9,286.6 125.0,286.6 125.1,284.5 125.2,283.0 125.3,284.5 125.4,284.7 125.5,285.1 125.6,286.1 125.7,286.7 125.8,285.4 125.9,286.1 126.0,287.5 126.1,288.2 126.2,288.4 126.3,288.5 126.4,288.6 126.5,288.5 126.6,289.2 126.7,288.3 126.8,288.2 126.9,288.2 127.0,290.0 127.1,289.5 127.2,290.7 127.3,292.5 127.4,291.6 127.5,291.9 127.6,290.5 127.7,291.6 127.8,292.1 127.9,290.5 128.0,290.7 128.1,291.5 128.2,290.8 128.3,290.7 128.4,290.9 128.5,290.5 128.6,290.3 128.7,290.7 128.8,291.4 128.9,291.9 129.0,291.3 129.1,290.9 129.2,291.4 129.3,289.9 129.4,290.1 129.5,289.4 129.6,289.9 129.7,288.4 129.8,288.5 129.9,286.8 130.0,285.3 130.1,284.1 130.2,284.2 130.3,284.0 130.4,282.5 130.5,281.0 130.6,280.9 130.7,280.7 130.8,280.8 130.9,281.2 131.0,281.3 131.1,280.4 131.2,279.2 131.3,279.5 131.4,279.2 131.5,278.7 131.6,278.9 131.7,277.5 131.8,275.4 131.9,274.8 132.0,274.9 132.1,275.0 132.2,275.3 132.3,277.2 132.4,278.4 132.5,279.2 132.6,279.8 132.7,279.4 132.8,278.7 132.9,278.7 133.0,278.4 133.1,280.0 133.2,280.8 133.3,282.1 133.4,281.6 133.5,281.2 133.6,281.7 133.7,281.6 133.8,281.6 133.9,282.5 134.0,281.9 134.1,282.6 134.2,282.4 134.3,280.9 134.4,279.3 134.5,278.9 134.6,279.8 134.7,279.7 134.8,278.0 134.9,278.3 135.0,276.4 135.1,276.5 135.2,275.6 135.3,275.6 135.4,274.9 135.5,275.1 135.6,274.4 135.7,273.9 135.8,274.0 135.9,275.9 136.0,274.3 136.1,273.7 136.2,273.3 136.3,273.6 136.4,273.5 136.5,274.7 136.6,275.7 136.7,275.1 136.8,275.1 136.9,275.4 137.0,277.8 137.1,279.6 137.2,280.5 137.3,281.0 137.4,282.3 137.5,282.9 137.6,284.1 137.7,283.1 137.8,283.1 137.9,282.7 138.0,280.7 138.1,280.0 138.2,279.1 138.3,277.8 138.4,277.8 138.5,277.2 138.6,276.4 138.7,277.2 138.8,277.8 138.9,278.4 139.0,278.7 139.1,278.3 139.2,278.6 139.3,276.9 139.4,277.1 139.5,279.3 139.6,278.7 139.7,279.3 139.8,279.5 139.9,280.3 140.0,280.3 140.1,282.1 140.2,283.5 140.3,284.1 140.4,285.4 140.5,286.4 140.6,287.6 140.7,288.8 140.8,288.9 140.9,290.0 141.0,291.3 141.1,292.7 141.2,292.9 141.3,293.8 141.4,295.5 141.5,295.6 141.6,296.2 141.7,294.1 141.8,292.9 141.9,294.1 142.0,295.5 142.1,299.3 142.2,299.8 142.3,300.5 142.4,300.7 142.5,298.8 142.6,298.8 142.7,297.1 142.8,296.7 142.9,298.5 143.0,297.5 143.1,298.1 143.2,298.0 143.3,298.1 143.4,297.2 143.5,296.4 143.6,297.2 143.7,296.9 143.8,295.7 143.9,296.8 144.0,296.8 144.1,297.5 144.2,297.3 144.3,297.5 144.4,297.3 144.5,295.4 144.6,295.7 144.7,294.6 144.8,293.6 144.9,292.4 145.0,293.1 145.1,293.6 145.2,291.4 145.3,292.3 145.4,292.4 145.5,291.7 145.6,290.5 145.7,290.7 145.8,289.8 145.9,289.7 146.0,289.4 146.1,290.7 146.2,290.5 146.3,289.3 146.4,289.4 146.5,289.9 146.6,289.8 146.7,288.4 146.8,287.6 146.9,287.8 147.0,287.1 147.1,286.0 147.2,285.3 147.3,285.0 147.4,285.0 147.5,284.1 147.6,282.9 147.7,283.4 147.8,283.0 147.9,282.3 148.0,281.5 148.1,280.6 148.2,280.4 148.3,278.7 148.4,277.6 148.5,276.7 148.6,275.8 148.7,275.7 148.8,275.6 148.9,275.6 149.0,274.7 149.1,273.1 149.2,274.2 149.3,273.5 149.4,272.8 149.5,272.6 149.6,272.1 149.7,271.3 149.8,270.9 149.9,269.1 150.0,268.5 150.1,268.5 150.2,268.0 150.3,267.6 150.4,268.4 150.5,266.2 150.6,264.8 150.7,265.5 150.8,265.6 150.9,264.1 151.0,263.0 151.1,264.0 151.2,263.3 151.3,265.8 151.4,265.7 151.5,263.7 151.6,262.6 151.7,263.4 151.8,264.9 151.9,265.8 152.0,265.3 152.1,263.6 152.2,261.3 152.3,262.4 152.4,261.1 152.5,261.6 152.6,262.0 152.7,262.2 152.8,263.3 152.9,264.6 153.0,264.2 153.1,265.2 153.2,263.5 153.3,263.7 153.4,263.8 153.5,264.7 153.6,266.3 153.7,267.0 153.8,267.7 153.9,266.8 154.0,266.2 154.1,267.5 154.2,268.1 154.3,269.5 154.4,270.3 154.5,271.9 154.6,272.2 154.7,272.5 154.8,272.5 154.9,271.8 155.0,271.8 155.1,273.7 155.2,275.0 155.3,273.6 155.4,276.0 155.5,277.4 155.6,276.3 155.7,277.9 155.8,279.9 155.9,281.0 156.0,281.9 156.1,281.7 156.2,282.2 156.3,283.9 156.4,286.5 156.5,287.0 156.6,286.5 156.7,286.6 156.8,288.6 156.9,288.8 157.0,291.1 157.1,291.1 157.2,290.9 157.3,291.8 157.4,292.2 157.5,292.7 157.6,292.2 157.7,291.3 157.8,292.0 157.9,292.7 158.0,293.9 158.1,296.4 158.2,297.6 158.3,298.5 158.4,298.9 158.5,299.6 158.6,299.6 158.7,301.7 158.8,302.4 158.9,302.5 159.0,301.2 159.1,301.6 159.2,303.0 159.3,304.5 159.4,304.7 159.5,303.7 159.6,302.7 159.7,303.6 159.8,305.2 159.9,307.4 160.0,308.7 160.1,308.4 160.2,308.1 160.3,306.7 160.4,307.5 160.5,306.9 160.6,306.9 160.7,306.3 160.8,304.7 160.9,302.8 161.0,302.3 161.1,302.1 161.2,301.2 161.3,300.6 161.4,296.2 161.5,298.0 161.6,296.8 161.7,298.0 161.8,297.9 161.9,296.6 162.0,296.4 162.1,295.9 162.2,296.0 162.3,294.8 162.4,294.8 162.5,293.9 162.6,293.1 162.7,292.9 162.8,291.8 162.9,290.4 163.0,288.8 163.1,289.4 163.2,289.5 163.3,289.3 163.4,289.8 163.5,289.0 163.6,290.3 163.7,290.4 163.8,291.3 163.9,292.9 164.0,293.8 164.1,293.9 164.2,294.2 164.3,294.2 164.4,294.9 164.5,296.2 164.6,295.0 164.7,295.1 164.8,295.9 164.9,297.0 165.0,297.2 165.1,297.6 165.2,298.1 165.3,297.6 165.4,297.6 165.5,296.6 165.6,298.0 165.7,298.2 165.8,297.6 165.9,299.1 166.0,300.2 166.1,298.3 166.2,298.2 166.3,298.4 166.4,298.1 166.5,299.3 166.6,299.8 166.7,299.9 166.8,299.5 166.9,299.1 167.0,299.5 167.1,299.4 167.2,299.3 167.3,298.6 167.4,298.8 167.5,299.8 167.6,299.6 167.7,297.9 167.8,297.1 167.9,297.9 168.0,299.1 168.1,299.0 168.2,299.6 168.3,298.5 168.4,298.6 168.5,299.9 168.6,300.3 168.7,299.2 168.8,298.2 168.9,299.6 169.0,298.1 169.1,297.0 169.2,296.7 169.3,298.7 169.4,299.1 169.5,298.4 169.6,299.2 169.7,300.1 169.8,300.9 169.9,300.3 170.0,300.9 170.1,301.1 170.2,299.8 170.3,301.7 170.4,303.0 170.5,302.2 170.6,302.9 170.7,302.2 170.8,304.7 170.9,304.5 171.0,304.6 171.1,304.8 171.2,305.4 171.3,305.4 171.4,304.9 171.5,304.6 171.6,304.5 171.7,305.0 171.8,305.7 171.9,307.7 172.0,306.0 172.1,305.9 172.2,306.6 172.3,306.1 172.4,305.3 172.5,305.6 172.6,307.1 172.7,306.4 172.8,305.2 172.9,305.4 173.0,305.1 173.1,305.1 173.2,305.9 173.3,306.5 173.4,305.7 173.5,304.7 173.6,304.4 173.7,304.4 173.8,303.5 173.9,302.4 174.0,303.3 174.1,302.8 174.2,302.7 174.3,302.2 174.4,302.7 174.5,302.4 174.6,302.4 174.7,301.5 174.8,302.3 174.9,301.4 175.0,303.2 175.1,302.9 175.2,303.9 175.3,303.3 175.4,302.9 175.5,302.4 175.6,304.5 175.7,302.9 175.8,302.3 175.9,300.9 176.0,300.4 176.1,301.2 176.2,303.4 176.3,302.4 176.4,302.4 176.5,304.2 176.6,305.2 176.7,305.3 176.8,307.3 176.9,308.4 177.0,308.6 177.1,308.1 177.2,308.9 177.3,309.3 177.4,310.0 177.5,309.9 177.6,310.6 177.7,312.4 177.8,314.1 177.9,314.1 178.0,314.6 178.1,315.2 178.2,316.1 178.3,315.9 178.4,315.4 178.5,315.7 178.6,316.1 178.7,316.6 178.8,318.3 178.9,320.9 179.0,321.5 179.1,322.1 179.2,323.8 179.3,324.3 179.4,324.3 179.5,323.5 179.6,324.2 179.7,323.0 179.8,323.8 179.9,325.2 180.0,326.3 180.1,325.5 180.2,323.8 180.3,323.8 180.4,324.3 180.5,325.9 180.6,325.3 180.7,323.3 180.8,322.7 180.9,322.9 181.0,323.4 181.1,322.5 181.2,322.4 181.3,322.6 181.4,321.0 181.5,321.5 181.6,323.3 181.7,322.4 181.8,321.3 181.9,321.3 182.0,321.7 182.1,321.0 182.2,320.2 182.3,320.5 182.4,321.7 182.5,320.6 182.6,317.9 182.7,317.6 182.8,317.4 182.9,316.4 183.0,314.8 183.1,313.7 183.2,313.6 183.3,314.5 183.4,313.4 183.5,314.4 183.6,314.2 183.7,313.3 183.8,314.9 183.9,314.4 184.0,312.4 184.1,313.1 184.2,313.5 184.3,315.2 184.4,315.5 184.5,316.9 184.6,317.1 184.7,316.5 184.8,316.2 184.9,315.8 185.0,315.9 185.1,315.8 185.2,317.1 185.3,319.1 185.4,318.6 185.5,319.0 185.6,319.7 185.7,320.9 185.8,319.9 185.9,320.6 186.0,321.5 186.1,320.0 186.2,320.8 186.3,322.1 186.4,322.5 186.5,323.4 186.6,325.1 186.7,324.7 186.8,325.2 186.9,324.1 187.0,325.2 187.1,324.8 187.2,325.4 187.3,326.7 187.4,326.4 187.5,326.9 187.6,327.9 187.7,328.2 187.8,327.9 187.9,328.5 188.0,328.4 188.1,329.5 188.2,329.7 188.3,331.6 188.4,331.9 188.5,330.3 188.6,329.3 188.7,328.9 188.8,328.3 188.9,329.5 189.0,329.8 189.1,328.8 189.2,329.3 189.3,328.4 189.4,329.6 189.5,331.1 189.6,331.4 189.7,331.5 189.8,331.7 189.9,332.4 190.0,333.3 190.1,333.7 190.2,333.7 190.3,333.7 190.4,334.3 190.5,334.8 190.6,333.5 190.7,334.0 190.8,333.6 190.9,332.5 191.0,333.2 191.1,335.7 191.2,335.5 191.3,334.8 191.4,334.3 191.5,333.9 191.6,334.4 191.7,334.1 191.8,334.5 191.9,332.5 192.0,333.1 192.1,334.8 192.2,336.5 192.3,335.7 192.4,335.7 192.5,336.3 192.6,335.3 192.7,335.6 192.8,336.4 192.9,336.0 193.0,335.4 193.1,334.1 193.2,332.4 193.3,332.5 193.4,332.4 193.5,332.9 193.6,334.6 193.7,335.2 193.8,334.8 193.9,334.2 194.0,333.4 194.1,331.9 194.2,332.1 194.3,331.7 194.4,332.0 194.5,332.7 194.6,330.6 194.7,331.1 194.8,330.9 194.9,331.0 195.0,331.2 195.1,332.0 195.2,333.3 195.3,333.2 195.4,334.2 195.5,335.0 195.6,334.6 195.7,336.9 195.8,338.7 195.9,337.7 196.0,338.0 196.1,338.0 196.2,338.3 196.3,337.9 196.4,338.5 196.5,339.2 196.6,339.5 196.7,339.3 196.8,338.6 196.9,339.5 197.0,341.0 197.1,341.9 197.2,342.1 197.3,342.7 197.4,344.0 197.5,342.3 197.6,340.3 197.7,339.6 197.8,339.9 197.9,339.9 198.0,338.7 198.1,338.9 198.2,337.9 198.3,338.1 198.4,336.5 198.5,336.7 198.6,335.9 198.7,335.5 198.8,335.0 198.9,333.4 199.0,333.3 199.1,332.1 199.2,333.0 199.3,334.2 199.4,334.1 199.5,333.8 199.6,332.7 199.7,331.9 199.8,329.2 199.9,329.1 200.0,327.5 200.1,328.6 200.2,330.2 200.3,330.1 200.4,329.1 200.5,329.9 200.6,330.3 200.7,329.9 200.8,329.8 200.9,331.0 201.0,332.0 201.1,330.4 201.2,329.5 201.3,329.8 201.4,329.7 201.5,332.1 201.6,332.8 201.7,332.7 201.8,331.3 201.9,332.5 202.0,331.6 202.1,331.8 202.2,331.1 202.3,332.0 202.4,332.8 202.5,334.3 202.6,333.1 202.7,334.0 202.8,334.0 202.9,334.9 203.0,334.0 203.1,333.9 203.2,332.6 203.3,333.2 203.4,333.7 203.5,333.0 203.6,331.8 203.7,333.4 203.8,334.6 203.9,335.4 204.0,336.7 204.1,336.7 204.2,335.9 204.3,335.7 204.4,335.8 204.5,335.1 204.6,334.4 204.7,333.9 204.8,334.1 204.9,333.3 205.0,334.7 205.1,335.9 205.2,334.5 205.3,336.8 205.4,336.7 205.5,336.3 205.6,336.4 205.7,332.6 205.8,331.3 205.9,332.6 206.0,331.6 206.1,333.2 206.2,332.5 206.3,331.1 206.4,331.6 206.5,331.2 206.6,331.3 206.7,330.1 206.8,330.2 206.9,331.0 207.0,331.1 207.1,331.7 207.2,332.0 207.3,331.2 207.4,329.8 207.5,329.8 207.6,329.1 207.7,329.1 207.8,330.3 207.9,330.4 208.0,329.7 208.1,328.5 208.2,328.1 208.3,327.2 208.4,327.0 208.5,327.2 208.6,328.4 208.7,328.4 208.8,327.3 208.9,327.4 209.0,327.4 209.1,326.9 209.2,326.5 209.3,326.0 209.4,324.0 209.5,324.1 209.6,324.1 209.7,325.4 209.8,326.0 209.9,325.8 210.0,323.6 210.1,325.2 210.2,324.9 210.3,324.1 210.4,323.2 210.5,322.6 210.6,322.7 210.7,323.5 210.8,323.3 210.9,322.3 211.0,322.4 211.1,321.1 211.2,320.6 211.3,321.3 211.4,320.8 211.5,321.0 211.6,320.5 211.7,319.9 211.8,321.6 211.9,320.8 212.0,321.9 212.1,322.7 212.2,322.5 212.3,323.7 212.4,323.0 212.5,320.5 212.6,320.2 212.7,320.4 212.8,320.1 212.9,321.2 213.0,319.2 213.1,318.4 213.2,318.8 213.3,318.7 213.4,319.7 213.5,319.0 213.6,318.8 213.7,319.8 213.8,320.1 213.9,319.5 214.0,317.8 214.1,317.3 214.2,318.6 214.3,318.5 214.4,319.4 214.5,320.8 214.6,321.4 214.7,322.0 214.8,323.5 214.9,321.6 215.0,320.5 215.1,320.6 215.2,321.8 215.3,322.2 215.4,322.5 215.5,322.4 215.6,321.9 215.7,323.6 215.8,324.8 215.9,323.4 216.0,323.7 216.1,322.0 216.2,322.4 216.3,324.6 216.4,324.8 216.5,326.2 216.6,327.2 216.7,325.6 216.8,327.2 216.9,329.0 217.0,327.8 217.1,330.7 217.2,331.0 217.3,330.9 217.4,330.8 217.5,332.1 217.6,331.6 217.7,330.8 217.8,330.9 217.9,330.7 218.0,331.2 218.1,331.5 218.2,333.4 218.3,332.1 218.4,332.7 218.5,333.9 218.6,333.6 218.7,334.0 218.8,334.5 218.9,333.9 219.0,333.5 219.1,334.5 219.2,334.0 219.3,334.0 219.4,335.2 219.5,337.0 219.6,337.4 219.7,337.8 219.8,336.4 219.9,336.2 220.0,335.2 220.1,335.3 220.2,336.6 220.3,338.2 220.4,339.6 220.5,338.5 220.6,339.6 220.7,340.5 220.8,339.1 220.9,339.1 221.0,339.6 221.1,339.7 221.2,339.8 221.3,337.9 221.4,337.2 221.5,334.4 221.6,335.8 221.7,339.1 221.8,339.1 221.9,337.1 222.0,336.6 222.1,335.9 222.2,336.1 222.3,336.1 222.4,336.9 222.5,336.6 222.6,335.8 222.7,334.2 222.8,333.2 222.9,332.6 223.0,333.1 223.1,333.6 223.2,333.6 223.3,334.3 223.4,332.5 223.5,332.5 223.6,333.8 223.7,333.4 223.8,333.4 223.9,334.8 224.0,334.4 224.1,334.2 224.2,333.5 224.3,333.2 224.4,333.5 224.5,332.4 224.6,333.4 224.7,333.4 224.8,332.7 224.9,332.7 225.0,331.1 225.1,330.5 225.2,330.3 225.3,330.1 225.4,329.7 225.5,329.5 225.6,329.1 225.7,329.4 225.8,330.0 225.9,329.6 226.0,329.0 226.1,328.4 226.2,328.9 226.3,328.5 226.4,328.1 226.5,329.1 226.6,331.4 226.7,330.7 226.8,332.4 226.9,331.5 227.0,331.2 227.1,332.4 227.2,334.0 227.3,334.4 227.4,332.6 227.5,332.0 227.6,330.6 227.7,331.5 227.8,332.1 227.9,332.2 228.0,333.2 228.1,332.9 228.2,332.1 228.3,332.3 228.4,331.9 228.5,330.5 228.6,331.8 228.7,333.2 228.8,334.5 228.9,334.8 229.0,335.5 229.1,333.8 229.2,332.7 229.3,333.5 229.4,336.0 229.5,335.5 229.6,336.0 229.7,336.5 229.8,337.2 229.9,339.0 230.0,338.9 230.1,337.4 230.2,336.5 230.3,336.8 230.4,334.5 230.5,334.5 230.6,336.6 230.7,336.8 230.8,336.5 230.9,337.6 231.0,338.8 231.1,338.9 231.2,339.1 231.3,338.0 231.4,337.0 231.5,336.9 231.6,337.4 231.7,337.9 231.8,340.0 231.9,340.6 232.0,340.7 232.1,339.2 232.2,339.3 232.3,339.0 232.4,340.5 232.5,339.6 232.6,340.6 232.7,340.9 232.8,339.8 232.9,339.9 233.0,339.8 233.1,341.1 233.2,341.5 233.3,341.1 233.4,340.0 233.5,341.3 233.6,340.4 233.7,340.3 233.8,340.0 233.9,337.9 234.0,337.5 234.1,338.5 234.2,339.7 234.3,339.9 234.4,341.0 234.5,340.2 234.6,338.2 234.7,338.4 234.8,338.5 234.9,335.9 235.0,337.1 235.1,338.9 235.2,338.7 235.3,336.0 235.4,334.6 235.5,334.3 235.6,334.3 235.7,334.0 235.8,332.9 235.9,334.7 236.0,333.8 236.1,332.6 236.2,331.8 236.3,333.1 236.4,331.7 236.5,331.4 236.6,331.5 236.7,329.4 236.8,327.8 236.9,328.3 237.0,329.4 237.1,329.7 237.2,329.3 237.3,327.8 237.4,327.1 237.5,325.3 237.6,326.5 237.7,325.7 237.8,327.8 237.9,327.5 238.0,327.0 238.1,328.0 238.2,327.4 238.3,329.2 238.4,330.2 238.5,329.4 238.6,328.8 238.7,329.3 238.8,327.2 238.9,327.9 239.0,329.1 239.1,328.2 239.2,328.3 239.3,329.7 239.4,329.2 239.5,330.4 239.6,328.6 239.7,328.9 239.8,328.9 239.9,329.7 240.0,329.5 240.1,331.2 240.2,332.8 240.3,332.4 240.4,334.1 240.5,333.9 240.6,333.5 240.7,332.8 240.8,333.5 240.9,332.2 241.0,332.1 241.1,333.7 241.2,334.2 241.3,334.8 241.4,338.1 241.5,338.5 241.6,336.4 241.7,336.8 241.8,336.7 241.9,337.4 242.0,338.9 242.1,337.7 242.2,337.0 242.3,336.5 242.4,335.1 242.5,335.2 242.6,337.3 242.7,338.8 242.8,339.4 242.9,338.3 243.0,337.9 243.1,337.5 243.2,338.7 243.3,339.7 243.4,339.9 243.5,341.4 243.6,340.4 243.7,340.5 243.8,339.6 243.9,337.9 244.0,339.2 244.1,339.5 244.2,339.1 244.3,339.3 244.4,340.4 244.5,342.3 244.6,342.2 244.7,342.2 244.8,341.2 244.9,340.2 245.0,339.5 245.1,338.5 245.2,338.9 245.3,342.0 245.4,343.1 245.5,342.4 245.6,342.1 245.7,341.8 245.8,342.7 245.9,341.9 246.0,340.9 246.1,341.9 246.2,341.6 246.3,342.0 246.4,340.2 246.5,339.8 246.6,341.1 246.7,341.1 246.8,342.1 246.9,341.1 247.0,341.4 247.1,341.6 247.2,340.3 247.3,339.5 247.4,340.5 247.5,339.3 247.6,339.1 247.7,338.4 247.8,338.5 247.9,338.7 248.0,340.2 248.1,340.7 248.2,341.7 248.3,342.1 248.4,342.1 248.5,341.1 248.6,341.6 248.7,341.7 248.8,341.4 248.9,340.6 249.0,339.5 249.1,340.1 249.2,340.1 249.3,341.5 249.4,341.5 249.5,340.8 249.6,340.2 249.7,341.6 249.8,342.0 249.9,341.9 250.0,340.5 250.1,340.3 250.2,340.8 250.3,340.1 250.4,339.5 250.5,339.9 250.6,339.7 250.7,339.1 250.8,338.7 250.9,338.0 251.0,339.3 251.1,339.2 251.2,339.7 251.3,340.2 251.4,339.7 251.5,338.6 251.6,337.7 251.7,337.6 251.8,337.5 251.9,337.1 252.0,336.0 252.1,332.9 252.2,335.7 252.3,335.8 252.4,335.5 252.5,335.2 252.6,337.6 252.7,336.5 252.8,336.5 252.9,337.9 253.0,334.6 253.1,333.7 253.2,334.8 253.3,336.0 253.4,336.4 253.5,335.9 253.6,335.2 253.7,334.4 253.8,333.6 253.9,333.8 254.0,334.3 254.1,334.6 254.2,334.3 254.3,332.7 254.4,332.3 254.5,331.5 254.6,333.0 254.7,332.6 254.8,331.9 254.9,331.8 255.0,331.1 255.1,332.0 255.2,332.3 255.3,331.4 255.4,332.3 255.5,333.9 255.6,332.6 255.7,332.9 255.8,331.1 255.9,331.6 256.0,329.8 256.1,330.2 256.2,330.4 256.3,330.2 256.4,330.4 256.5,329.0 256.6,329.6 256.7,329.3 256.8,328.1 256.9,328.2 257.0,327.1 257.1,325.7 257.2,325.6 257.3,325.6 257.4,323.3 257.5,324.0 257.6,324.1 257.7,323.0 257.8,324.7 257.9,325.3 258.0,324.7 258.1,323.9 258.2,321.8 258.3,321.5 258.4,320.9 258.5,320.4 258.6,322.5 258.7,322.7 258.8,320.7 258.9,319.3 259.0,319.2 259.1,318.9 259.2,317.0 259.3,319.6 259.4,320.1 259.5,318.4 259.6,319.0 259.7,318.6 259.8,316.2 259.9,316.7 260.0,316.3 260.1,314.9 260.2,314.2 260.3,315.9 260.4,315.8 260.5,315.0 260.6,314.6 260.7,317.0 260.8,317.5 260.9,317.8 261.0,317.7 261.1,317.0 261.2,316.4 261.3,318.0 261.4,318.2 261.5,317.9 261.6,318.6 261.7,318.2 261.8,317.8 261.9,318.0 262.0,319.3 262.1,319.8 262.2,318.2 262.3,318.5 262.4,319.5 262.5,318.3 262.6,319.8 262.7,319.6 262.8,319.8 262.9,320.3 263.0,322.5 263.1,321.6 263.2,321.5 263.3,321.7 263.4,322.6 263.5,320.4 263.6,319.9 263.7,321.3 263.8,320.9 263.9,320.6 264.0,321.4 264.1,321.1 264.2,318.8 264.3,319.7 264.4,320.0 264.5,318.7 264.6,317.1 264.7,317.6 264.8,317.0 264.9,316.0 265.0,316.2 265.1,317.9 265.2,318.9 265.3,319.1 265.4,318.9 265.5,318.3 265.6,317.9 265.7,318.7 265.8,316.6 265.9,315.6 266.0,317.8 266.1,316.4 266.2,315.2 266.3,317.4 266.4,315.9 266.5,315.1 266.6,316.5 266.7,314.9 266.8,315.2 266.9,315.8 267.0,315.0 267.1,315.6 267.2,316.7 267.3,317.8 267.4,316.5 267.5,316.4 267.6,315.1 267.7,316.3 267.8,317.0 267.9,315.9 268.0,315.4 268.1,314.5 268.2,315.5 268.3,315.2 268.4,315.4 268.5,317.4 268.6,317.4 268.7,317.0 268.8,315.5 268.9,314.3 269.0,314.7 269.1,315.5 269.2,315.5 269.3,315.8 269.4,313.0 269.5,314.5 269.6,315.6 269.7,317.1 269.8,316.7 269.9,316.5 270.0,318.4 270.1,318.4 270.2,319.8 270.3,319.8 270.4,319.4 270.5,318.4 270.6,317.4 270.7,318.3 270.8,318.0 270.9,318.5 271.0,317.3 271.1,315.6 271.2,315.2 271.3,315.7 271.4,315.7 271.5,316.6 271.6,317.7 271.7,317.1 271.8,316.7 271.9,315.5 272.0,314.8 272.1,315.1 272.2,315.2 272.3,315.7 272.4,315.8 272.5,316.8 272.6,316.4 272.7,316.0 272.8,315.5 272.9,315.3 273.0,314.7 273.1,314.2 273.2,313.3 273.3,311.0 273.4,311.5 273.5,312.7 273.6,312.0 273.7,312.2 273.8,313.8 273.9,312.5 274.0,312.1 274.1,312.1 274.2,309.7 274.3,309.6 274.4,309.9 274.5,309.1 274.6,309.2 274.7,308.7 274.8,309.5 274.9,307.2 275.0,306.2 275.1,305.2 275.2,305.2 275.3,308.0 275.4,306.4 275.5,306.3 275.6,305.3 275.7,305.3 275.8,306.8 275.9,306.7 276.0,305.7 276.1,306.6 276.2,307.9 276.3,306.7 276.4,306.4 276.5,307.1 276.6,307.3 276.7,308.0 276.8,309.6 276.9,309.3 277.0,311.0 277.1,310.8 277.2,309.5 277.3,308.2 277.4,308.5 277.5,311.3 277.6,311.4 277.7,311.1 277.8,312.5 277.9,312.6 278.0,312.2 278.1,313.7 278.2,314.6 278.3,313.1 278.4,313.5 278.5,315.0 278.6,315.1 278.7,316.0 278.8,316.2 278.9,314.3 279.0,312.5 279.1,314.8 279.2,314.6 279.3,316.5 279.4,316.7 279.5,317.4 279.6,316.9 279.7,317.0 279.8,318.6 279.9,319.4 280.0,320.7 280.1,320.9 280.2,321.1 280.3,320.1 280.4,319.7 280.5,318.1 280.6,317.1 280.7,316.1 280.8,317.2 280.9,316.4 281.0,316.0 281.1,314.4 281.2,315.3 281.3,314.9 281.4,315.3 281.5,314.1 281.6,314.3 281.7,313.5 281.8,312.8 281.9,311.7 282.0,311.3 282.1,310.2 282.2,311.1 282.3,308.1 282.4,307.7 282.5,305.8 282.6,303.8 282.7,302.7 282.8,300.1 282.9,298.3 283.0,297.0 283.1,296.9 283.2,296.4 283.3,294.9 283.4,294.6 283.5,295.7 283.6,294.8 283.7,293.0 283.8,292.9 283.9,289.2 284.0,286.5 284.1,285.5 284.2,286.3 284.3,286.9 284.4,287.5 284.5,285.6 284.6,285.9 284.7,284.2 284.8,282.4 284.9,280.6 285.0,279.2 285.1,281.6 285.2,281.4 285.3,283.4 285.4,284.1 285.5,284.2 285.6,283.7 285.7,285.8 285.8,282.3 285.9,282.6 286.0,282.1 286.1,285.1 286.2,284.6 286.3,282.7 286.4,280.1 286.5,277.3 286.6,277.9 286.7,281.0 286.8,282.4 286.9,283.1 287.0,283.3 287.1,285.7 287.2,284.8 287.3,283.2 287.4,282.1 287.5,283.9 287.6,282.5 287.7,281.7 287.8,284.3 287.9,280.8 288.0,279.6 288.1,275.9 288.2,273.3 288.3,272.9 288.4,274.0 288.5,275.0 288.6,274.6 288.7,274.9 288.8,276.7 288.9,276.0 289.0,274.5 289.1,274.5 289.2,273.1 289.3,274.6 289.4,274.9 289.5,276.1 289.6,272.9 289.7,268.0 289.8,268.4 289.9,265.1 290.0,263.2 290.1,265.3 290.2,265.6 290.3,266.9 290.4,266.5 290.5,265.8 290.6,266.0 290.7,264.7 290.8,265.4 290.9,265.8 291.0,265.6 291.1,263.2 291.2,261.3 291.3,260.6 291.4,255.2 291.5,248.4 291.6,248.7 291.7,245.8 291.8,244.7 291.9,243.3 292.0,240.2 292.1,241.2 292.2,239.2 292.3,240.6 292.4,240.2 292.5,240.1 292.6,241.7 292.7,239.1 292.8,236.6 292.9,235.4 293.0,233.7 293.1,235.6 293.2,236.5 293.3,236.5 293.4,236.0 293.5,233.4 293.6,235.2 293.7,236.8 293.8,239.6 293.9,239.7 294.0,238.6 294.1,238.8 294.2,237.8 294.3,237.6 294.4,234.5 294.5,234.9 294.6,235.1 294.7,234.6 294.8,233.0 294.9,233.4 295.0,234.3 295.1,237.0 295.2,237.6 295.3,238.5 295.4,241.1 295.5,244.2 295.6,246.6 295.7,249.0 295.8,253.0 295.9,255.1 296.0,254.0 296.1,257.9 296.2,259.2 296.3,260.9 296.4,263.8 296.5,266.8 296.6,266.0 296.7,268.4 296.8,274.5 296.9,275.1 297.0,278.6 297.1,276.2 297.2,272.5 297.3,269.7 297.4,265.4 297.5,264.7 297.6,264.6 297.7,263.6 297.8,262.0 297.9,262.1 298.0,260.2 298.1,257.8 298.2,258.4 298.3,255.5 298.4,254.3 298.5,257.5 298.6,258.4 298.7,261.0 298.8,263.5 298.9,266.1 299.0,269.3 299.1,272.2 299.2,275.5 299.3,278.4 299.4,282.6 299.5,285.4 299.6,286.3 299.7,286.7 299.8,287.6 299.9,288.0 300.0,291.2 300.1,292.4 300.2,294.0 300.3,293.0 300.4,294.2 300.5,295.6 300.6,296.9 300.7,300.6 300.8,302.4 300.9,304.1 301.0,305.2 301.1,307.4 301.2,309.8 301.3,309.5 301.4,310.4 301.5,311.8 301.6,314.6 301.7,314.4 301.8,317.3 301.9,321.1 302.0,322.1 302.1,321.0 302.2,323.7 302.3,323.9 302.4,321.7 302.5,323.2 302.6,323.7 302.7,321.1 302.8,322.4 302.9,322.1 303.0,325.1 303.1,326.6 303.2,325.8 303.3,325.1 303.4,321.1 303.5,320.6 303.6,323.7 303.7,322.5 303.8,324.1 303.9,324.6 304.0,324.0 304.1,323.2 304.2,324.4 304.3,323.8 304.4,323.9 304.5,325.8 304.6,325.2 304.7,325.1 304.8,326.7 304.9,326.7 305.0,327.0 305.1,326.7 305.2,325.4 305.3,326.0 305.4,326.3 305.5,324.1 305.6,325.6 305.7,326.6 305.8,325.9 305.9,327.0 306.0,327.2 306.1,325.8 306.2,326.4 306.3,328.2 306.4,328.3 306.5,329.5 306.6,330.7 306.7,326.7 306.8,325.2 306.9,325.3 307.0,323.0 307.1,323.8 307.2,324.0 307.3,324.0 307.4,324.7 307.5,324.8 307.6,324.1 307.7,323.8 307.8,322.3 307.9,321.4 308.0,321.6 308.1,322.1 308.2,321.7 308.3,320.7 308.4,322.1 308.5,320.7 308.6,319.9 308.7,320.6 308.8,320.4 308.9,319.6 309.0,320.5 309.1,322.5 309.2,323.7 309.3,322.2 309.4,320.7 309.5,319.2 309.6,317.7 309.7,318.9 309.8,321.7 309.9,322.3 310.0,322.0 310.1,324.6 310.2,324.3 310.3,324.2 310.4,325.3 310.5,325.7 310.6,325.8 310.7,327.0 310.8,327.9 310.9,331.7 311.0,332.2 311.1,330.1 311.2,328.6 311.3,326.4 311.4,324.7 311.5,322.3 311.6,318.4 311.7,317.1 311.8,318.6 311.9,315.2 312.0,316.1 312.1,317.0 312.2,315.1 312.3,313.1 312.4,313.1 312.5,310.2 312.6,309.0 312.7,309.3 312.8,308.6 312.9,306.4 313.0,305.6 313.1,305.2 313.2,303.8 313.3,301.7 313.4,302.5 313.5,302.6 313.6,304.8 313.7,306.2 313.8,305.2 313.9,304.7 314.0,305.0 314.1,306.3 314.2,304.7 314.3,307.9 314.4,306.3 314.5,306.4 314.6,306.5 314.7,307.7 314.8,305.9 314.9,306.5 315.0,306.9 315.1,305.8 315.2,305.5 315.3,304.9 315.4,304.0 315.5,302.9 315.6,301.6 315.7,300.8 315.8,299.5 315.9,299.2 316.0,298.0 316.1,298.1 316.2,297.8 316.3,299.1 316.4,297.6 316.5,298.5 316.6,296.6 316.7,296.8 316.8,296.4 316.9,296.0 317.0,296.6 317.1,297.2 317.2,297.5 317.3,293.9 317.4,292.8 317.5,293.0 317.6,291.9 317.7,290.1 317.8,287.2 317.9,287.6 318.0,286.1 318.1,288.2 318.2,288.3 318.3,289.5 318.4,291.9 318.5,290.3 318.6,290.2 318.7,289.9 318.8,288.4 318.9,288.5 319.0,290.3 319.1,293.3 319.2,295.4 319.3,295.3 319.4,292.5 319.5,291.5 319.6,293.1 319.7,294.1 319.8,292.9 319.9,291.3 320.0,293.3 320.1,295.9 320.2,298.5 320.3,301.7 320.4,302.1 320.5,302.7 320.6,304.0 320.7,302.3 320.8,303.2 320.9,302.0 321.0,304.2 321.1,302.5 321.2,302.9 321.3,302.0 321.4,302.7 321.5,304.7 321.6,304.5 321.7,306.5 321.8,307.1 321.9,304.1 322.0,305.3 322.1,309.4 322.2,307.7 322.3,307.6 322.4,312.2 322.5,310.0 322.6,309.0 322.7,309.0 322.8,308.4 322.9,306.7 323.0,307.9 323.1,307.3 323.2,308.7 323.3,310.4 323.4,312.9 323.5,311.2 323.6,312.9 323.7,312.4 323.8,313.5 323.9,313.2 324.0,315.8 324.1,314.4 324.2,312.8 324.3,310.3 324.4,310.0 324.5,308.6 324.6,310.2 324.7,312.5 324.8,314.5 324.9,313.4 325.0,312.5 325.1,313.6 325.2,310.3 325.3,308.0 325.4,309.9 325.5,310.3 325.6,312.6 325.7,314.3 325.8,316.0 325.9,316.4 326.0,313.8 326.1,312.9 326.2,313.4 326.3,315.5 326.4,314.3 326.5,315.1 326.6,314.2 326.7,314.2 326.8,314.3 326.9,312.9 327.0,310.8 327.1,310.8 327.2,307.6 327.3,307.7 327.4,311.7 327.5,311.5 327.6,311.4 327.7,307.0 327.8,305.9 327.9,306.9 328.0,307.0 328.1,308.6 328.2,307.4 328.3,311.5 328.4,312.3 328.5,312.7 328.6,313.5 328.7,312.6 328.8,312.5 328.9,312.7 329.0,312.1 329.1,311.3 329.2,311.1 329.3,309.6 329.4,309.0 329.5,308.6 329.6,310.2 329.7,311.4 329.8,311.6 329.9,314.0 330.0,312.5 330.1,308.9 330.2,310.4 330.3,311.2 330.4,311.5 330.5,308.9 330.6,305.4 330.7,305.9 330.8,307.8 330.9,310.4 331.0,310.7 331.1,308.4 331.2,308.3 331.3,306.8 331.4,311.7 331.5,313.6 331.6,311.8 331.7,311.9 331.8,314.0 331.9,315.5 332.0,314.4 332.1,314.3 332.2,319.3 332.3,315.5 332.4,316.5 332.5,318.8 332.6,317.8 332.7,314.0 332.8,315.7 332.9,314.5 333.0,312.4 333.1,311.1 333.2,313.8 333.3,313.6 333.4,315.9 333.5,314.1 333.6,313.5 333.7,315.8 333.8,313.5 333.9,314.1 334.0,314.7 334.1,314.7 334.2,316.0 334.3,317.7 334.4,315.0 334.5,314.0 334.6,313.3 334.7,312.4 334.8,317.6 334.9,315.7 335.0,319.8 335.1,316.4 335.2,315.1 335.3,312.2 335.4,313.5 335.5,313.2 335.6,313.5 335.7,312.6 335.8,312.7 335.9,312.8 336.0,312.5 336.1,313.4 336.2,314.3 336.3,311.8 336.4,312.3 336.5,314.4 336.6,314.2 336.7,311.5 336.8,313.1 336.9,315.1 337.0,312.1 337.1,312.9 337.2,310.5 337.3,311.0 337.4,312.7 337.5,310.5 337.6,309.5 337.7,309.7 337.8,308.7 337.9,309.6 338.0,308.8 338.1,310.4 338.2,312.4 338.3,312.7 338.4,311.0 338.5,310.9 338.6,310.6 338.7,311.9 338.8,314.5 338.9,311.8 339.0,311.1 339.1,314.5 339.2,315.2 339.3,316.8 339.4,318.8 339.5,317.9 339.6,317.2 339.7,315.2 339.8,313.2 339.9,311.7 340.0,314.5 340.1,316.6 340.2,317.6 340.3,318.0 340.4,314.4 340.5,317.0 340.6,318.1 340.7,316.3 340.8,314.8 340.9,315.8 341.0,314.5 341.1,316.4 341.2,317.3 341.3,312.6 341.4,313.6 341.5,312.6 341.6,314.9 341.7,311.6 341.8,312.5 341.9,314.0 342.0,313.1 342.1,315.6 342.2,315.9 342.3,317.7 342.4,318.0 342.5,319.2 342.6,317.9 342.7,321.3 342.8,321.8 342.9,322.3 343.0,318.8 343.1,317.7 343.2,316.1 343.3,315.8 343.4,315.3 343.5,314.6 343.6,314.7 343.7,312.7 343.8,315.1 343.9,313.7 344.0,313.4 344.1,314.1 344.2,315.7 344.3,314.7 344.4,311.8 344.5,311.9 344.6,310.6 344.7,305.9 344.8,305.7 344.9,303.7 345.0,302.5 345.1,300.7 345.2,301.5 345.3,301.7 345.4,305.0 345.5,305.4 345.6,302.5 345.7,301.1 345.8,300.6 345.9,300.2 346.0,297.3 346.1,299.1 346.2,301.9 346.3,301.8 346.4,300.5 346.5,300.7 346.6,303.6 346.7,303.2 346.8,305.3 346.9,303.3 347.0,297.0 347.1,296.6 347.2,293.2 347.3,292.1 347.4,295.9 347.5,294.3 347.6,296.0 347.7,295.6 347.8,296.8 347.9,298.5 348.0,296.5 348.1,296.8 348.2,301.8 348.3,298.7 348.4,297.1 348.5,296.9 348.6,295.4 348.7,299.2 348.8,293.4 348.9,295.0 349.0,295.8 349.1,293.8 349.2,294.7 349.3,292.8 349.4,292.7 349.5,293.7 349.6,294.4 349.7,292.7 349.8,294.7 349.9,295.9 350.0,295.2 350.1,294.7 350.2,293.1 350.3,290.5 350.4,288.4 350.5,290.6 350.6,289.0 350.7,287.4 350.8,288.7 350.9,286.9 351.0,287.4 351.1,284.2 351.2,284.1 351.3,288.5 351.4,290.7 351.5,288.8 351.6,288.7 351.7,285.7 351.8,285.9 351.9,286.8 352.0,289.1 352.1,291.0 352.2,289.1 352.3,289.7 352.4,289.8 352.5,285.5 352.6,282.9 352.7,281.5 352.8,280.2 352.9,276.8 353.0,277.3 353.1,279.6 353.2,279.2 353.3,282.6 353.4,278.3 353.5,279.3 353.6,276.9 353.7,279.2 353.8,280.6 353.9,283.1 354.0,282.7 354.1,280.5 354.2,279.6 354.3,284.0 354.4,282.0 354.5,280.5 354.6,278.8 354.7,281.1 354.8,281.9 354.9,282.7 355.0,281.4 355.1,281.8 355.2,278.8 355.3,278.1 355.4,276.9 355.5,281.6 355.6,280.0 355.7,278.3 355.8,282.6 355.9,277.7 356.0,274.9 356.1,276.6 356.2,278.9 356.3,283.4 356.4,283.9 356.5,280.5 356.6,277.6 356.7,278.3 356.8,275.6 356.9,273.5 357.0,269.9 357.1,271.9 357.2,274.5 357.3,270.8 357.4,272.6 357.5,276.2 357.6,277.6 357.7,278.7 357.8,276.5 357.9,274.0 358.0,272.3 358.1,275.1 358.2,273.4 358.3,272.5 358.4,272.0 358.5,269.9 358.6,266.2 358.7,267.6 358.8,268.2 358.9,269.8 359.0,269.1 359.1,271.7 359.2,272.4 359.3,271.6 359.4,272.6 359.5,270.5 359.6,269.0 359.7,267.2 359.8,270.3 359.9,267.8 360.0,267.9 360.1,270.3 360.2,267.9 360.3,270.7 360.4,265.1 360.5,261.8 360.6,263.7 360.7,266.6 360.8,268.5 360.9,268.7 361.0,264.2 361.1,262.1 361.2,262.4 361.3,262.6 361.4,263.8 361.5,261.8 361.6,261.0 361.7,257.5 361.8,259.6 361.9,257.8 362.0,257.0 362.1,257.8 362.2,261.1 362.3,259.9 362.4,260.3 362.5,263.3 362.6,259.6 362.7,260.5 362.8,260.4 362.9,260.2 363.0,260.4 363.1,260.3 363.2,256.5 363.3,255.8 363.4,254.7 363.5,256.6 363.6,255.1 363.7,255.0 363.8,252.0 363.9,249.5 364.0,246.0 364.1,247.0 364.2,247.8 364.3,248.2 364.4,247.7 364.5,247.3 364.6,246.3 364.7,244.5 364.8,243.7 364.9,245.6 365.0,243.8 365.1,244.9 365.2,241.4 365.3,239.7 365.4,240.8 365.5,238.1 365.6,235.9 365.7,233.1 365.8,231.6 365.9,229.9 366.0,228.5 366.1,228.3 366.2,224.3 366.3,222.0 366.4,221.7 366.5,223.6 366.6,227.2 366.7,229.4 366.8,228.4 366.9,227.7 367.0,230.2 367.1,225.6 367.2,224.5 367.3,222.8 367.4,224.7 367.5,222.9 367.6,221.4 367.7,223.5 367.8,222.8 367.9,223.2 368.0,221.9 368.1,217.6 368.2,216.0 368.3,214.0 368.4,213.6 368.5,216.5 368.6,214.1 368.7,215.5 368.8,214.8 368.9,213.4 369.0,209.8 369.1,206.4 369.2,207.0 369.3,205.8 369.4,206.7 369.5,204.2 369.6,202.2 369.7,202.0 369.8,199.0 369.9,196.8 370.0,192.1 370.1,196.7 370.2,196.9 370.3,196.4 370.4,195.6 370.5,190.7 370.6,188.1 370.7,190.4 370.8,186.5 370.9,183.0 371.0,181.9 371.1,177.4 371.2,177.4 371.3,177.3 371.4,176.1 371.5,174.0 371.6,173.4 371.7,173.3 371.8,178.1 371.9,176.7 372.0,177.5 372.1,177.5 372.2,175.7 372.3,170.2 372.4,168.4 372.5,167.0 372.6,165.3 372.7,164.8 372.8,162.9 372.9,163.3 373.0,161.0 373.1,159.2 373.2,157.6 373.3,155.4 373.4,153.2 373.5,152.4 373.6,155.7 373.7,155.0 373.8,155.2 373.9,156.1 374.0,154.1 374.1,154.3 374.2,153.1 374.3,155.3 374.4,156.2 374.5,161.0 374.6,162.2 374.7,167.5 374.8,166.8 374.9,168.7 375.0,168.5 375.1,169.5 375.2,171.2 375.3,174.9 375.4,175.5 375.5,174.5 375.6,174.5 375.7,176.0 375.8,177.2 375.9,178.1 376.0,181.6 376.1,178.9 376.2,179.2 376.3,177.2 376.4,175.3 376.5,173.3 376.6,173.4 376.7,170.9 376.8,172.1 376.9,172.1 377.0,166.6 377.1,165.4 377.2,166.1 377.3,162.3 377.4,158.4 377.5,160.1 377.6,155.4 377.7,157.5 377.8,155.5 377.9,152.1 378.0,150.0 378.1,148.8 378.2,148.5 378.3,147.7 378.4,144.5 378.5,144.5 378.6,144.7 378.7,142.6 378.8,139.9 378.9,140.3 379.0,138.4 379.1,137.1 379.2,140.9 379.3,140.7 379.4,142.9 379.5,142.3 379.6,140.3 379.7,133.9 379.8,131.9 379.9,130.3 380.0,131.3 380.1,131.1 380.2,132.5 380.3,134.4 380.4,138.4 380.5,141.9 380.6,141.6 380.7,142.5 380.8,145.0 380.9,148.7 381.0,148.0 381.1,154.5 381.2,159.6 381.3,156.9 381.4,160.8 381.5,164.3 381.6,165.0 381.7,169.6 381.8,172.6 381.9,173.3 382.0,178.8 382.1,182.3 382.2,185.1 382.3,190.3 382.4,190.1 382.5,194.7 382.6,199.1 382.7,198.9 382.8,204.7 382.9,202.2 383.0,202.5 383.1,203.5 383.2,204.5 383.3,205.5 383.4,203.6 383.5,208.0 383.6,211.2 383.7,213.5 383.8,216.4 383.9,221.0 384.0,221.1 384.1,223.3 384.2,225.2 384.3,223.3 384.4,220.8 384.5,220.9 384.6,222.4 384.7,218.9 384.8,220.6 384.9,220.9 385.0,223.9 385.1,225.7 385.2,226.2 385.3,228.4 385.4,228.3 385.5,232.7 385.6,234.7 385.7,234.2 385.8,233.0 385.9,235.4 386.0,239.7 386.1,239.8 386.2,249.2 386.3,251.9 386.4,251.8 386.5,253.2 386.6,252.2 386.7,252.5 386.8,256.4 386.9,260.9 387.0,264.5 387.1,263.6 387.2,264.1 387.3,262.7 387.4,261.4 387.5,263.1 387.6,267.2 387.7,266.8 387.8,268.3 387.9,270.1 388.0,274.0 388.1,275.9 388.2,276.3 388.3,277.6 388.4,276.9 388.5,277.1 388.6,277.5 388.7,277.2 388.8,278.9 388.9,280.6 389.0,281.0 389.1,278.9 389.2,281.5 389.3,279.1 389.4,275.5 389.5,272.7 389.6,268.5 389.7,268.4 389.8,266.5 389.9,262.8 390.0,260.7 390.1,261.9 390.2,262.0 390.3,261.4 390.4,258.4 390.5,258.0 390.6,253.7 390.7,248.8 390.8,248.3 390.9,246.1 391.0,245.4 391.1,249.2 391.2,253.7 391.3,253.1 391.4,253.1 391.5,256.5 391.6,254.1 391.7,254.9 391.8,254.5 391.9,254.6 392.0,250.6 392.1,252.2 392.2,249.6 392.3,251.7 392.4,251.8 392.5,253.9 392.6,256.1 392.7,258.1 392.8,263.4 392.9,265.4 393.0,267.3 393.1,270.0 393.2,267.7 393.3,268.4 393.4,269.4 393.5,272.0 393.6,273.0 393.7,271.1 393.8,269.6 393.9,267.2 394.0,262.5 394.1,260.5 394.2,255.7 394.3,253.6 394.4,256.5 394.5,257.4 394.6,255.4 394.7,250.0 394.8,250.9 394.9,247.3 395.0,242.0 395.1,244.6 395.2,242.1 395.3,239.1 395.4,239.8 395.5,236.3 395.6,235.5 395.7,234.6 395.8,234.9 395.9,232.9 396.0,232.0 396.1,230.2 396.2,231.9 396.3,230.3 396.4,229.2 396.5,226.4 396.6,227.2 396.7,227.2 396.8,223.0 396.9,223.7 397.0,221.9 397.1,222.0 397.2,221.9 397.3,218.7 397.4,219.5 397.5,214.7 397.6,211.5 397.7,213.7 397.8,214.4 397.9,208.2 398.0,207.8 398.1,206.9 398.2,207.1 398.3,204.8 398.4,202.0 398.5,200.3 398.6,197.1 398.7,198.6 398.8,194.0 398.9,199.5 399.0,200.1 399.1,201.6 399.2,199.9 399.3,204.6 399.4,205.0 399.5,205.4 399.6,204.4 399.7,206.2 399.8,202.4 399.9,201.8 400.0,203.2 400.1,204.0 400.2,205.1 400.3,202.0 400.4,200.2 400.5,200.1 400.6,198.3 400.7,201.1 400.8,206.7 400.9,204.6 401.0,201.9 401.1,201.0 401.2,202.1 401.3,202.2 401.4,204.6 401.5,205.8 401.6,206.9 401.7,206.9 401.8,208.1 401.9,210.3 402.0,212.1 402.1,215.5 402.2,218.5 402.3,220.0 402.4,220.1 402.5,221.3 402.6,220.1 402.7,223.5 402.8,224.6 402.9,226.5 403.0,229.5 403.1,230.7 403.2,232.6 403.3,233.7 403.4,237.1 403.5,238.8 403.6,239.6 403.7,240.3 403.8,242.3 403.9,242.4 404.0,242.2 404.1,246.5 404.2,245.5 404.3,247.5 404.4,247.3 404.5,248.4 404.6,247.7 404.7,248.5 404.8,250.6 404.9,248.9 405.0,247.9 405.1,248.6 405.2,253.0 405.3,252.5 405.4,257.4 405.5,256.3 405.6,254.3 405.7,255.2 405.8,256.4 405.9,251.6 406.0,249.7 406.1,251.0 406.2,249.8 406.3,247.3 406.4,249.2 406.5,245.6 406.6,245.2 406.7,245.2 406.8,243.7 406.9,240.5 407.0,241.8 407.1,242.1 407.2,239.6 407.3,240.8 407.4,239.0 407.5,240.2 407.6,236.0 407.7,236.0 407.8,235.5 407.9,235.3 408.0,239.2 408.1,239.6 408.2,241.3 408.3,239.9 408.4,240.5 408.5,240.9 408.6,243.6 408.7,238.0 408.8,241.1 408.9,240.2 409.0,238.0 409.1,237.6 409.2,238.4 409.3,240.5 409.4,241.5 409.5,240.5 409.6,234.9 409.7,232.6 409.8,234.0 409.9,234.3 410.0,233.1 410.1,235.8 410.2,236.5 410.3,241.5 410.4,239.3 410.5,239.6 410.6,240.6 410.7,240.2 410.8,241.5 410.9,244.6 411.0,243.5 411.1,241.9 411.2,239.4 411.3,241.6 411.4,243.2 411.5,243.3 411.6,243.9 411.7,241.4 411.8,241.7 411.9,246.4 412.0,245.6 412.1,246.5 412.2,245.8 412.3,243.0 412.4,238.7 412.5,240.9 412.6,241.2 412.7,243.6 412.8,245.3 412.9,246.3 413.0,245.1 413.1,243.2 413.2,242.6 413.3,241.4 413.4,245.6 413.5,246.6 413.6,242.7 413.7,244.4 413.8,241.4 413.9,238.5 414.0,234.1 414.1,235.9 414.2,234.9 414.3,236.7 414.4,234.4 414.5,235.9 414.6,235.3 414.7,235.2 414.8,235.6 414.9,237.8 415.0,235.9 415.1,234.6 415.2,235.1 415.3,233.2 415.4,230.8 415.5,230.5 415.6,229.6 415.7,235.3 415.8,233.5 415.9,231.9 416.0,231.7 416.1,231.9 416.2,231.8 416.3,226.0 416.4,227.2 416.5,228.9 416.6,231.0 416.7,232.7 416.8,236.1 416.9,236.1 417.0,234.9 417.1,237.2 417.2,235.3 417.3,238.7 417.4,238.9 417.5,240.2 417.6,239.6 417.7,240.1 417.8,244.9 417.9,241.3 418.0,242.7 418.1,242.8 418.2,241.8 418.3,239.0 418.4,238.5 418.5,243.0 418.6,245.8 418.7,242.2 418.8,246.0 418.9,246.7 419.0,245.7 419.1,250.4 419.2,248.1 419.3,249.7 419.4,250.2 419.5,243.7 419.6,247.0 419.7,245.9 419.8,243.2 419.9,241.8 420.0,246.1 420.1,248.8 420.2,248.2 420.3,244.7 420.4,245.6 420.5,244.1 420.6,248.4 420.7,247.4 420.8,245.9 420.9,242.9 421.0,240.5 421.1,238.1 421.2,238.1 421.3,240.3 421.4,242.8 421.5,241.2 421.6,242.0 421.7,243.8 421.8,238.1 421.9,242.9 422.0,245.1 422.1,244.8 422.2,246.9 422.3,242.4 422.4,238.9 422.5,235.6 422.6,235.0 422.7,237.2 422.8,237.3 422.9,234.9 423.0,237.3 423.1,240.0 423.2,239.7 423.3,236.4 423.4,234.8 423.5,232.6 423.6,235.8 423.7,233.9 423.8,237.5 423.9,235.5 424.0,236.0 424.1,236.3 424.2,234.2 424.3,234.9 424.4,235.6 424.5,236.0 424.6,233.5 424.7,229.1 424.8,229.7 424.9,231.0 425.0,229.0 425.1,229.5 425.2,228.2 425.3,228.2 425.4,224.9 425.5,224.6 425.6,227.8 425.7,220.9 425.8,219.5 425.9,217.7 426.0,214.6 426.1,213.4 426.2,213.9 426.3,214.5 426.4,214.0 426.5,214.2 426.6,210.2 426.7,211.2 426.8,210.4 426.9,208.0 427.0,207.9 427.1,207.5 427.2,203.1 427.3,206.8 427.4,205.4 427.5,201.5 427.6,199.9 427.7,196.4 427.8,197.7 427.9,199.5 428.0,200.2 428.1,201.5 428.2,200.6 428.3,194.8 428.4,194.2 428.5,192.2 428.6,194.0 428.7,192.3 428.8,191.8 428.9,192.8 429.0,191.4 429.1,191.9 429.2,190.5 429.3,191.0 429.4,187.6 429.5,189.1 429.6,187.9 429.7,182.4 429.8,179.5 429.9,177.2 430.0,175.7 430.1,174.8 430.2,177.6 430.3,175.2 430.4,174.5 430.5,178.0 430.6,180.2 430.7,180.5 430.8,178.2 430.9,178.4 431.0,175.2 431.1,179.5 431.2,179.7 431.3,186.9 431.4,190.6 431.5,187.6 431.6,188.4 431.7,186.0 431.8,178.6 431.9,175.1 432.0,171.5 432.1,173.9 432.2,172.5 432.3,168.7 432.4,170.2 432.5,167.9 432.6,168.4 432.7,168.7 432.8,170.9 432.9,170.1 433.0,169.6 433.1,169.2 433.2,175.3 433.3,176.9 433.4,179.9 433.5,180.9 433.6,187.6 433.7,180.7 433.8,179.3 433.9,176.3 434.0,176.5 434.1,170.7 434.2,166.7 434.3,170.7 434.4,173.9 434.5,179.1 434.6,183.2 434.7,187.9 434.8,191.6 434.9,186.0 435.0,182.3 435.1,180.6 435.2,181.9 435.3,183.2 435.4,181.3 435.5,177.3 435.6,177.2 435.7,180.0 435.8,180.5 435.9,185.8 436.0,188.1 436.1,188.7 436.2,191.1 436.3,188.3 436.4,185.5 436.5,184.2 436.6,183.3 436.7,180.3 436.8,178.2 436.9,173.2 437.0,173.8 437.1,175.4 437.2,181.1 437.3,185.2 437.4,186.9 437.5,188.6 437.6,193.1 437.7,194.1 437.8,189.3 437.9,184.0 438.0,181.7 438.1,175.5 438.2,170.0 438.3,165.7 438.4,172.1 438.5,175.8 438.6,180.4 438.7,183.4 438.8,187.5 438.9,189.7 439.0,197.0 439.1,194.2 439.2,190.7 439.3,186.0 439.4,182.7 439.5,178.6 439.6,179.9 439.7,177.5 439.8,180.3 439.9,182.4 440.0,188.1 440.1,189.4 440.2,188.0 440.3,190.8 440.4,191.9 440.5,186.2 440.6,181.4 440.7,174.8 440.8,170.4 440.9,167.9 441.0,167.2 441.1,171.2 441.2,176.5 441.3,180.1 441.4,187.2 441.5,189.2 441.6,194.8 441.7,191.8 441.8,190.5 441.9,185.3 442.0,181.1 442.1,181.9 442.2,178.4 442.3,175.5 442.4,172.6 442.5,176.5 442.6,181.1 442.7,184.1 442.8,184.4 442.9,187.4 443.0,193.4 443.1,190.0 443.2,186.5 443.3,179.4 443.4,177.6 443.5,174.8 443.6,176.0 443.7,175.3 443.8,176.5 443.9,174.5 444.0,171.4 444.1,170.5 444.2,168.0 444.3,168.3 444.4,168.8 444.5,166.0 444.6,167.3 444.7,169.1 444.8,174.0 444.9,177.5 445.0,182.5 445.1,188.8 445.2,186.1 445.3,184.8 445.4,176.4 445.5,172.9 445.6,168.8 445.7,170.9 445.8,173.8 445.9,178.7 446.0,181.2 446.1,183.7 446.2,187.3 446.3,192.2 446.4,196.0 446.5,196.7 446.6,200.8 446.7,200.4 446.8,199.1 446.9,200.6 447.0,203.6 447.1,199.7 447.2,204.3 447.3,204.1 447.4,207.7 447.5,205.8 447.6,205.2 447.7,209.2 447.8,210.5 447.9,210.0 448.0,213.0 448.1,213.6 448.2,215.8 448.3,218.6 448.4,216.6 448.5,218.0 448.6,217.0 448.7,219.7 448.8,220.9 448.9,223.9 449.0,224.0 449.1,222.9 449.2,220.7 449.3,222.1 449.4,223.7 449.5,223.4 449.6,221.2 449.7,228.3 449.8,225.6 449.9,221.6 450.0,222.9 450.1,224.4 450.2,224.3 450.3,224.4 450.4,224.5 450.5,226.2 450.6,222.2 450.7,221.1 450.8,222.0 450.9,220.0 451.0,216.1 451.1,220.6 451.2,220.1 451.3,220.7 451.4,218.0 451.5,216.8 451.6,214.6 451.7,213.5 451.8,211.6 451.9,211.2 452.0,207.3 452.1,207.7 452.2,208.3 452.3,205.9 452.4,207.7 452.5,204.9 452.6,208.0 452.7,207.4 452.8,208.0 452.9,212.1 453.0,214.0 453.1,211.7 453.2,212.0 453.3,207.1 453.4,205.0 453.5,202.4 453.6,200.6 453.7,201.6 453.8,197.9 453.9,195.0 454.0,192.5 454.1,193.9 454.2,190.5 454.3,190.9 454.4,189.5 454.5,187.0 454.6,188.5 454.7,189.9 454.8,191.9 454.9,194.3 455.0,200.5 455.1,201.8 455.2,198.5 455.3,194.9 455.4,193.8 455.5,195.0 455.6,190.0 455.7,188.1 455.8,186.7 455.9,185.0 456.0,184.0 456.1,183.9 456.2,179.5 456.3,180.8 456.4,182.5 456.5,181.3 456.6,184.2 456.7,183.1 456.8,187.0 456.9,185.2 457.0,179.9 457.1,177.9 457.2,174.9 457.3,172.7 457.4,168.8 457.5,170.2 457.6,169.4 457.7,171.5 457.8,171.1 457.9,169.0 458.0,172.6 458.1,171.3 458.2,171.6 458.3,172.4 458.4,171.5 458.5,167.2 458.6,163.3 458.7,163.2 458.8,157.2 458.9,153.0 459.0,152.2 459.1,153.3 459.2,157.9 459.3,159.1 459.4,160.6 459.5,162.7 459.6,161.5 459.7,164.6 459.8,158.7 459.9,152.9 460.0,154.7 460.1,154.9 460.2,151.9 460.3,152.7 460.4,149.8 460.5,145.6 460.6,144.0 460.7,142.3 460.8,143.8 460.9,145.5 461.0,150.1 461.1,151.9 461.2,148.9 461.3,144.2 461.4,136.7 461.5,130.8 461.6,129.3 461.7,122.7 461.8,115.0 461.9,120.5 462.0,123.6 462.1,125.7 462.2,127.5 462.3,130.5 462.4,133.6 462.5,131.5 462.6,128.8 462.7,130.6 462.8,126.7 462.9,114.9 463.0,110.1 463.1,114.9 463.2,119.7 463.3,126.9 463.4,130.3 463.5,134.6 463.6,138.1 463.7,130.8 463.8,128.4 463.9,124.8 464.0,121.3 464.1,116.9 464.2,114.5 464.3,120.0 464.4,126.7 464.5,129.7 464.6,132.8 464.7,137.0 464.8,142.7 464.9,134.9 465.0,130.9 465.1,127.1 465.2,122.8 465.3,120.8 465.4,115.3 465.5,110.6 465.6,115.0 465.7,116.6 465.8,126.0 465.9,132.0 466.0,136.2 466.1,129.6 466.2,124.5 466.3,121.4 466.4,118.2 466.5,114.3 466.6,119.9 466.7,127.6 466.8,131.8 466.9,141.0 467.0,148.3 467.1,149.0 467.2,148.7 467.3,146.6 467.4,144.3 467.5,143.9 467.6,147.3 467.7,147.2 467.8,149.3 467.9,152.1 468.0,154.0 468.1,151.9 468.2,149.8 468.3,153.0 468.4,154.0 468.5,156.2 468.6,157.2 468.7,153.2 468.8,153.9 468.9,154.0 469.0,147.1 469.1,141.5 469.2,142.8 469.3,142.8 469.4,145.9 469.5,153.7 469.6,160.0 469.7,164.3 469.8,168.4 469.9,176.9 470.0,180.6 470.1,179.9 470.2,175.4 470.3,171.3 470.4,167.4 470.5,167.1 470.6,165.7 470.7,160.4 470.8,162.4 470.9,160.8 471.0,161.7 471.1,163.3 471.2,167.5 471.3,174.9 471.4,176.7 471.5,177.4 471.6,180.2 471.7,177.9 471.8,172.5 471.9,169.3 472.0,167.7 472.1,166.7 472.2,164.4 472.3,165.3 472.4,163.4 472.5,165.1 472.6,165.2 472.7,163.6 472.8,165.2 472.9,169.1 473.0,171.6 473.1,174.1 473.2,177.6 473.3,176.0 473.4,173.8 473.5,168.5 473.6,164.2 473.7,163.5 473.8,166.9 473.9,165.0 474.0,159.4 474.1,164.7 474.2,167.4 474.3,171.6 474.4,173.3 474.5,176.5 474.6,176.4 474.7,176.7 474.8,177.8 474.9,175.4 475.0,174.5 475.1,173.7 475.2,169.6 475.3,168.4 475.4,163.1 475.5,160.0 475.6,157.1 475.7,158.1 475.8,163.0 475.9,164.4 476.0,171.7 476.1,179.6 476.2,181.5 476.3,183.8 476.4,185.1 476.5,181.8 476.6,178.0 476.7,178.8 476.8,173.6 476.9,167.4 477.0,165.4 477.1,166.3 477.2,160.7 477.3,162.8 477.4,162.4 477.5,165.9 477.6,170.0 477.7,170.8 477.8,171.1 477.9,174.1 478.0,176.2 478.1,176.7 478.2,176.4 478.3,175.7 478.4,175.4 478.5,171.4 478.6,165.7 478.7,165.5 478.8,164.1 478.9,167.1 479.0,167.7 479.1,171.3 479.2,170.0 479.3,176.2 479.4,177.5 479.5,174.6 479.6,166.2 479.7,163.3 479.8,165.6 479.9,164.6 480.0,163.8 480.1,162.5 480.2,162.3 480.3,158.9 480.4,155.1 480.5,156.7 480.6,156.3 480.7,156.3 480.8,155.9 480.9,157.6 481.0,152.9 481.1,153.8 481.2,151.2 481.3,151.5 481.4,150.9 481.5,150.7 481.6,147.9 481.7,149.1 481.8,147.2 481.9,143.9 482.0,142.2 482.1,144.7 482.2,145.2 482.3,149.6 482.4,153.8 482.5,152.4 482.6,154.9 482.7,156.2 482.8,157.8 482.9,153.2 483.0,158.3 483.1,160.9 483.2,165.3 483.3,165.0 483.4,163.0 483.5,164.2 483.6,164.0 483.7,166.1 483.8,168.9 483.9,166.9 484.0,164.8 484.1,172.5 484.2,173.4 484.3,172.3 484.4,171.9 484.5,172.4 484.6,172.1 484.7,174.4 484.8,178.3 484.9,183.1 485.0,183.7 485.1,180.7 485.2,181.0 485.3,184.2 485.4,183.5 485.5,182.4 485.6,180.4 485.7,180.5 485.8,182.5 485.9,181.7 486.0,184.9 486.1,185.0 486.2,184.8 486.3,183.5 486.4,182.8 486.5,186.7 486.6,184.7 486.7,187.6 486.8,190.8 486.9,189.5 487.0,193.8 487.1,196.6 487.2,195.5 487.3,196.4 487.4,195.6 487.5,197.9 487.6,195.2 487.7,197.1 487.8,191.9 487.9,191.8 488.0,197.9 488.1,198.4 488.2,201.8 488.3,204.2 488.4,199.7 488.5,198.0 488.6,200.8 488.7,202.6 488.8,200.7 488.9,203.1 489.0,202.9 489.1,201.4 489.2,199.7 489.3,204.0 489.4,203.0 489.5,201.9 489.6,194.0 489.7,193.2 489.8,191.7 489.9,192.4 490.0,192.0 490.1,193.6 490.2,189.8 490.3,192.8 490.4,192.0 490.5,191.1 490.6,186.3 490.7,186.0 490.8,184.7 490.9,183.7 491.0,184.1 491.1,187.1 491.2,185.4 491.3,186.1 491.4,184.7 491.5,183.6 491.6,185.4 491.7,187.6 491.8,193.4 491.9,193.6 492.0,192.1 492.1,192.8 492.2,192.3 492.3,188.8 492.4,191.5 492.5,191.1 492.6,187.8 492.7,190.9 492.8,193.2 492.9,189.3 493.0,187.3 493.1,188.9 493.2,187.5 493.3,182.1 493.4,181.8 493.5,182.4 493.6,183.4 493.7,186.3 493.8,185.9 493.9,183.5 494.0,182.0 494.1,180.0 494.2,179.3 494.3,182.8 494.4,179.0 494.5,183.0 494.6,181.1 494.7,184.5 494.8,179.7 494.9,182.3 495.0,182.8 495.1,181.8 495.2,178.4 495.3,176.5 495.4,174.9 495.5,173.6 495.6,175.6 495.7,173.3 495.8,171.4 495.9,174.3 496.0,170.9 496.1,168.0 496.2,172.4 496.3,166.5 496.4,168.1 496.5,166.5 496.6,169.4 496.7,169.9 496.8,170.2 496.9,166.7 497.0,160.9 497.1,161.3 497.2,159.0 497.3,159.3 497.4,159.5 497.5,160.0 497.6,157.5 497.7,157.6 497.8,156.4 497.9,156.5 498.0,155.6 498.1,157.2 498.2,157.1 498.3,155.7 498.4,156.7 498.5,159.3 498.6,156.0 498.7,156.3 498.8,154.1 498.9,154.0 499.0,152.4 499.1,155.4 499.2,154.4 499.3,155.1 499.4,155.3 499.5,153.1 499.6,155.4 499.7,156.6 499.8,158.0 499.9,159.6 500.0,162.0 500.1,158.7 500.2,159.5 500.3,158.0 500.4,154.8 500.5,154.8 500.6,157.8 500.7,156.5 500.8,159.7 500.9,161.0 501.0,161.7 501.1,160.1 501.2,165.2 501.3,164.4 501.4,170.1 501.5,168.6 501.6,168.3 501.7,164.8 501.8,164.9 501.9,168.0 502.0,171.1 502.1,175.1 502.2,173.4 502.3,172.2 502.4,170.7 502.5,175.0 502.6,177.9 502.7,178.7 502.8,177.1 502.9,174.0 503.0,169.9 503.1,175.9 503.2,180.5 503.3,185.4 503.4,191.3 503.5,196.8 503.6,197.4 503.7,199.9 503.8,202.5 503.9,206.8 504.0,206.8 504.1,207.0 504.2,206.2 504.3,213.9 504.4,213.3 504.5,213.3 504.6,215.7 504.7,215.0 504.8,219.5 504.9,222.9 505.0,225.3 505.1,225.3 505.2,225.4 505.3,224.7 505.4,224.7 505.5,223.8 505.6,226.3 505.7,226.8 505.8,228.9 505.9,229.8 506.0,229.8 506.1,230.7 506.2,230.7 506.3,233.0 506.4,231.7 506.5,231.3 506.6,234.4 506.7,239.9 506.8,240.5 506.9,243.5 507.0,245.4 507.1,249.0 507.2,250.8 507.3,253.4 507.4,253.4 507.5,257.3 507.6,254.4 507.7,253.9 507.8,253.6 507.9,253.2 508.0,253.7 508.1,252.6 508.2,256.6 508.3,255.3 508.4,256.8 508.5,254.9 508.6,252.5 508.7,252.1 508.8,255.7 508.9,253.2 509.0,250.5 509.1,248.1 509.2,250.7 509.3,248.7 509.4,247.4 509.5,247.4 509.6,247.5 509.7,242.2 509.8,241.0 509.9,238.2 510.0,232.2 510.1,229.9 510.2,229.0 510.3,231.8 510.4,231.4 510.5,229.6 510.6,230.5 510.7,231.8 510.8,231.4 510.9,233.9 511.0,231.9 511.1,233.9 511.2,234.8 511.3,235.5 511.4,238.4 511.5,239.4 511.6,239.7 511.7,241.3 511.8,246.3 511.9,242.9 512.0,239.0 512.1,234.0 512.2,236.7 512.3,236.8 512.4,234.4 512.5,235.4 512.6,234.5 512.7,238.7 512.8,239.3 512.9,241.5 513.0,240.4 513.1,242.1 513.2,241.3 513.3,242.5 513.4,242.6 513.5,244.2 513.6,245.5 513.7,245.5 513.8,244.0 513.9,242.2 514.0,243.8 514.1,244.9 514.2,243.2 514.3,242.6 514.4,243.4 514.5,248.1 514.6,247.5 514.7,248.6 514.8,246.4 514.9,243.9 515.0,244.2 515.1,246.2 515.2,248.1 515.3,248.8 515.4,251.6 515.5,250.8 515.6,247.4 515.7,249.1 515.8,246.2 515.9,244.9 516.0,244.4 516.1,245.7 516.2,244.0 516.3,245.0 516.4,243.5 516.5,244.4 516.6,243.9 516.7,243.0 516.8,244.4 516.9,244.3 517.0,246.2 517.1,246.6 517.2,243.3 517.3,245.3 517.4,246.7 517.5,247.6 517.6,245.4 517.7,244.5 517.8,242.5 517.9,244.7 518.0,247.8 518.1,248.9 518.2,250.2 518.3,248.3 518.4,248.4 518.5,248.0 518.6,250.8 518.7,250.4 518.8,250.2 518.9,250.9 519.0,249.8 519.1,251.2 519.2,250.4 519.3,251.2 519.4,253.9 519.5,253.1 519.6,253.5 519.7,252.4 519.8,251.2 519.9,252.9 520.0,251.1 520.1,249.6 520.2,249.7 520.3,252.3 520.4,251.5 520.5,253.3 520.6,252.4 520.7,254.7 520.8,253.9 520.9,253.3 521.0,254.0 521.1,253.9 521.2,251.1 521.3,250.5 521.4,252.0 521.5,247.7 521.6,248.8 521.7,248.8 521.8,245.7 521.9,246.0 522.0,243.9 522.1,241.6 522.2,242.5 522.3,244.2 522.4,244.4 522.5,245.5 522.6,241.9 522.7,238.9 522.8,237.3 522.9,238.2 523.0,236.4 523.1,238.3 523.2,238.1 523.3,235.9 523.4,234.0 523.5,234.3 523.6,233.8 523.7,235.3 523.8,240.4 523.9,243.2 524.0,243.9 524.1,245.9 524.2,244.7 524.3,243.4 524.4,243.7 524.5,243.5 524.6,246.7 524.7,246.7 524.8,247.7 524.9,245.7 525.0,245.4 525.1,246.5 525.2,246.5 525.3,248.7 525.4,251.7 525.5,253.8 525.6,252.9 525.7,254.9 525.8,252.5 525.9,251.7 526.0,255.5 526.1,256.8 526.2,260.7 526.3,259.3 526.4,261.5 526.5,261.4 526.6,264.1 526.7,264.1 526.8,266.6 526.9,266.1 527.0,266.0 527.1,264.7 527.2,261.2 527.3,260.7 527.4,259.1 527.5,262.0 527.6,260.6 527.7,263.5 527.8,262.2 527.9,263.4 528.0,260.8 528.1,263.1 528.2,262.9 528.3,264.3 528.4,261.8 528.5,261.8 528.6,260.3 528.7,261.9 528.8,259.4 528.9,259.0 529.0,259.8 529.1,261.1 529.2,260.7 529.3,263.1 529.4,262.7 529.5,263.3 529.6,261.7 529.7,260.5 529.8,259.5 529.9,260.2 530.0,264.2 530.1,265.7 530.2,266.9 530.3,266.0 530.4,266.0 530.5,262.7 530.6,264.7 530.7,264.5 530.8,262.3 530.9,264.8 531.0,264.9 531.1,264.4 531.2,266.8 531.3,266.3 531.4,266.3 531.5,264.7 531.6,265.1 531.7,266.1 531.8,264.9 531.9,264.6 532.0,265.9 532.1,265.9 532.2,266.9 532.3,267.1 532.4,265.1 532.5,264.9 532.6,267.1 532.7,264.2 532.8,264.6 532.9,263.4 533.0,264.8 533.1,263.6 533.2,264.9 533.3,264.7 533.4,264.1 533.5,267.4 533.6,267.4 533.7,265.9 533.8,265.7 533.9,264.8 534.0,261.3 534.1,260.3 534.2,264.7 534.3,266.4 534.4,266.4 534.5,266.3 534.6,266.8 534.7,268.7 534.8,267.1 534.9,266.1 535.0,268.6 535.1,268.7 535.2,269.4 535.3,271.3 535.4,270.5 535.5,269.6 535.6,271.0 535.7,269.6 535.8,266.5 535.9,267.8 536.0,265.6 536.1,264.3 536.2,265.5 536.3,263.3 536.4,263.8 536.5,263.2 536.6,263.9 536.7,266.0 536.8,265.9 536.9,264.2 537.0,263.9 537.1,260.9 537.2,259.9 537.3,258.6 537.4,260.3 537.5,258.1 537.6,257.6 537.7,260.3 537.8,257.9 537.9,259.0 538.0,260.0 538.1,260.0 538.2,256.5 538.3,255.6 538.4,256.8 538.5,255.3 538.6,258.0 538.7,258.2 538.8,251.5 538.9,251.2 539.0,249.9 539.1,249.2 539.2,250.9 539.3,249.6 539.4,248.6 539.5,245.1 539.6,245.7 539.7,241.6 539.8,241.8 539.9,239.6 540.0,240.9 540.1,238.4 540.2,239.8 540.3,238.3 540.4,237.2 540.5,237.9 540.6,235.1 540.7,232.1 540.8,233.6 540.9,230.6 541.0,234.5 541.1,231.1 541.2,228.1 541.3,226.4 541.4,222.5 541.5,219.6 541.6,218.0 541.7,217.4 541.8,219.3 541.9,219.2 542.0,217.8 542.1,220.6 542.2,218.2 542.3,217.3 542.4,217.5 542.5,215.1 542.6,213.9 542.7,212.7 542.8,212.5 542.9,219.0 543.0,223.1 543.1,223.3 543.2,223.2 543.3,223.6 543.4,223.9 543.5,224.9 543.6,227.0 543.7,225.6 543.8,223.5 543.9,225.4 544.0,225.4 544.1,223.9 544.2,226.1 544.3,228.7 544.4,228.9 544.5,229.3 544.6,230.3 544.7,234.1 544.8,233.3 544.9,234.3 545.0,234.4 545.1,234.6 545.2,234.5 545.3,234.9 545.4,233.4 545.5,233.5 545.6,236.1 545.7,237.6 545.8,238.4 545.9,242.7 546.0,246.1 546.1,244.5 546.2,246.8 546.3,246.1 546.4,246.3 546.5,245.4 546.6,246.2 546.7,245.1 546.8,245.5 546.9,247.1 547.0,248.7 547.1,247.4 547.2,245.7 547.3,244.0 547.4,247.8 547.5,251.4 547.6,252.9 547.7,252.2 547.8,247.8 547.9,247.5 548.0,250.9 548.1,251.8 548.2,249.6 548.3,251.2 548.4,251.9 548.5,250.7 548.6,246.5 548.7,247.0 548.8,244.3 548.9,246.8 549.0,248.7 549.1,248.0 549.2,245.2 549.3,243.8 549.4,243.9 549.5,243.2 549.6,241.9 549.7,240.1 549.8,239.0 549.9,240.5 550.0,243.6 550.1,243.4 550.2,242.2 550.3,244.5 550.4,245.6 550.5,244.3 550.6,243.8 550.7,241.0 550.8,242.4 550.9,243.9 551.0,242.5 551.1,241.4 551.2,239.4 551.3,241.9 551.4,242.2 551.5,242.5 551.6,237.2 551.7,236.6 551.8,237.9 551.9,239.2 552.0,238.2 552.1,234.2 552.2,232.7 552.3,232.6 552.4,233.3 552.5,234.5 552.6,236.3 552.7,233.5 552.8,233.0 552.9,232.2 553.0,234.8 553.1,233.2 553.2,233.6 553.3,232.4 553.4,232.7 553.5,234.1 553.6,234.8 553.7,234.2 553.8,235.6 553.9,234.5 554.0,235.3 554.1,238.3 554.2,234.4 554.3,229.6 554.4,230.2 554.5,232.3 554.6,233.6 554.7,233.3 554.8,233.4 554.9,231.6 555.0,233.9 555.1,235.0 555.2,235.9 555.3,234.0 555.4,235.7 555.5,233.3 555.6,233.7 555.7,234.1 555.8,235.5 555.9,235.5 556.0,235.1 556.1,235.6 556.2,235.8 556.3,236.9 556.4,239.9 556.5,242.9 556.6,243.7 556.7,239.5 556.8,240.1 556.9,239.3 557.0,240.0 557.1,238.8 557.2,238.2 557.3,242.8 557.4,240.2 557.5,242.5 557.6,239.6 557.7,239.2 557.8,243.4 557.9,242.6 558.0,244.3 558.1,244.2 558.2,243.5 558.3,244.4 558.4,246.7 558.5,247.5 558.6,245.9 558.7,247.9 558.8,249.9 558.9,249.1 559.0,248.1 559.1,248.1 559.2,248.6 559.3,252.3 559.4,252.0 559.5,250.3 559.6,253.7 559.7,253.4 559.8,255.2 559.9,255.3 560.0,252.5 560.1,252.9 560.2,253.7 560.3,254.1 560.4,252.2 560.5,249.0 560.6,249.7 560.7,250.9 560.8,253.8 560.9,255.3 561.0,256.2 561.1,257.4 561.2,255.5 561.3,254.7 561.4,254.2 561.5,257.3 561.6,259.5 561.7,258.5 561.8,255.5 561.9,259.2 562.0,257.2 562.1,258.4 562.2,256.5 562.3,256.1 562.4,256.8 562.5,256.1 562.6,253.3 562.7,252.1 562.8,253.6 562.9,253.3 563.0,255.8 563.1,255.5 563.2,252.9 563.3,252.9 563.4,254.2 563.5,252.0 563.6,248.7 563.7,249.6 563.8,247.8 563.9,246.1 564.0,244.3 564.1,244.9 564.2,242.9 564.3,241.2 564.4,240.5 564.5,240.6 564.6,245.0 564.7,245.1 564.8,246.9 564.9,246.9 565.0,246.6 565.1,246.3 565.2,244.9 565.3,246.5 565.4,246.5 565.5,248.6 565.6,249.3 565.7,248.7 565.8,248.9 565.9,248.5 566.0,245.4 566.1,247.3 566.2,246.8 566.3,247.5 566.4,248.7 566.5,251.0 566.6,254.6 566.7,255.7 566.8,255.2 566.9,255.3 567.0,251.2 567.1,248.9 567.2,247.9 567.3,250.1 567.4,248.9 567.5,248.1 567.6,251.3 567.7,252.4 567.8,251.2 567.9,250.8 568.0,249.6 568.1,248.0 568.2,248.7 568.3,250.4 568.4,250.3 568.5,251.9 568.6,249.4 568.7,246.7 568.8,248.2 568.9,248.6 569.0,248.5 569.1,247.6 569.2,245.7 569.3,244.8 569.4,246.2 569.5,242.7 569.6,242.8 569.7,241.2 569.8,243.8 569.9,246.6 570.0,244.8 570.1,245.9 570.2,246.2 570.3,246.9 570.4,248.2 570.5,248.8 570.6,246.7 570.7,244.1 570.8,244.7 570.9,243.6 571.0,247.0 571.1,247.2 571.2,248.5 571.3,246.6 571.4,243.4 571.5,244.9 571.6,244.4 571.7,247.2 571.8,246.2 571.9,243.5 572.0,241.7 572.1,245.3 572.2,241.4 572.3,243.7 572.4,244.4 572.5,245.4 572.6,247.8 572.7,245.0 572.8,246.4 572.9,245.2 573.0,248.8 573.1,248.9 573.2,251.3 573.3,250.4 573.4,248.5 573.5,248.4 573.6,247.5 573.7,247.6 573.8,248.5 573.9,249.2 574.0,248.9 574.1,248.5 574.2,248.5 574.3,250.5 574.4,251.6 574.5,253.1 574.6,248.6 574.7,249.6 574.8,247.4 574.9,246.8 575.0,247.2 575.1,245.3 575.2,242.1 575.3,238.0 575.4,236.6 575.5,235.2 575.6,234.3 575.7,238.6 575.8,237.6 575.9,236.5 576.0,236.3 576.1,236.8 576.2,237.9 576.3,236.8 576.4,235.5 576.5,234.8 576.6,234.9 576.7,231.9 576.8,232.2 576.9,231.2 577.0,230.6 577.1,233.8 577.2,238.2 577.3,238.3 577.4,238.4 577.5,234.7 577.6,234.1 577.7,233.1 577.8,232.3 577.9,234.9 578.0,231.6 578.1,235.7 578.2,236.2 578.3,232.7 578.4,233.6 578.5,237.3 578.6,235.4 578.7,235.0 578.8,234.4 578.9,232.9 579.0,234.1 579.1,234.8 579.2,234.3 579.3,234.4 579.4,234.0 579.5,232.9 579.6,232.7 579.7,231.6 579.8,231.4 579.9,234.2 580.0,233.9 580.1,234.6 580.2,231.4 580.3,233.3 580.4,233.7 580.5,234.9 580.6,236.6 580.7,237.3 580.8,236.2 580.9,239.0 581.0,240.9 581.1,243.3 581.2,246.4 581.3,244.3 581.4,242.7 581.5,245.5 581.6,246.8 581.7,246.7 581.8,245.6 581.9,247.1 582.0,246.1 582.1,247.0 582.2,248.4 582.3,248.2 582.4,248.0 582.5,248.4 582.6,249.3 582.7,248.8 582.8,250.8 582.9,251.0 583.0,248.1 583.1,252.6 583.2,254.4 583.3,256.9 583.4,255.0 583.5,253.0 583.6,254.2 583.7,254.7 583.8,256.5 583.9,259.3 584.0,261.7 584.1,262.2 584.2,263.9 584.3,262.8 584.4,261.4 584.5,265.0 584.6,264.3 584.7,265.8 584.8,264.9 584.9,267.8 585.0,267.3 585.1,267.5 585.2,268.1 585.3,267.2 585.4,270.1 585.5,271.4 585.6,268.2 585.7,265.4 585.8,266.6 585.9,266.8 586.0,271.6 586.1,272.3 586.2,270.9 586.3,271.0 586.4,268.6 586.5,269.8 586.6,271.5 586.7,270.7 586.8,269.4 586.9,271.2 587.0,271.4 587.1,272.0 587.2,270.4 587.3,268.8 587.4,270.2 587.5,271.3 587.6,273.3 587.7,276.4 587.8,276.4 587.9,270.5 588.0,270.6 588.1,270.9 588.2,270.4 588.3,272.0 588.4,268.2 588.5,266.7 588.6,267.8 588.7,269.0 588.8,271.1 588.9,271.7 589.0,268.8 589.1,269.1 589.2,270.5 589.3,269.4 589.4,272.2 589.5,270.4 589.6,266.6 589.7,263.4 589.8,265.5 589.9,266.1 590.0,265.7 590.1,265.8 590.2,262.1 590.3,264.3 590.4,267.8 590.5,266.2 590.6,266.3 590.7,263.1 590.8,263.7 590.9,260.1 591.0,260.1 591.1,258.0 591.2,257.6 591.3,256.4 591.4,258.2 591.5,258.9 591.6,259.6 591.7,258.2 591.8,257.8 591.9,259.6 592.0,262.5 592.1,260.8 592.2,261.5 592.3,258.8 592.4,257.8 592.5,259.4 592.6,256.8 592.7,259.8 592.8,258.3 592.9,258.2 593.0,259.9 593.1,261.5 593.2,262.8 593.3,262.4 593.4,261.6 593.5,261.0 593.6,258.5 593.7,262.2 593.8,264.0 593.9,260.9 594.0,261.5 594.1,257.9 594.2,258.4 594.3,260.6 594.4,263.0 594.5,264.4 594.6,265.9 594.7,262.5 594.8,260.7 594.9,262.4 595.0,259.8 595.1,260.6 595.2,257.8 595.3,255.5 595.4,254.2 595.5,258.7 595.6,257.1 595.7,259.4 595.8,263.0 595.9,260.8 596.0,257.2 596.1,256.7 596.2,258.7 596.3,258.5 596.4,257.3 596.5,259.0 596.6,259.0 596.7,263.8 596.8,261.0 596.9,260.5 597.0,262.2 597.1,262.5 597.2,264.6 597.3,264.1 597.4,263.6 597.5,262.4 597.6,261.8 597.7,261.0 597.8,263.6 597.9,262.7 598.0,264.0 598.1,262.8 598.2,263.3 598.3,261.4 598.4,263.1 598.5,263.5 598.6,265.1 598.7,269.4 598.8,268.6 598.9,268.7 599.0,267.9 599.1,265.1 599.2,262.7 599.3,263.8 599.4,259.2 599.5,261.3 599.6,261.7 599.7,261.4 599.8,264.5 599.9,264.7 600.0,264.7 600.1,265.7 600.2,265.1 600.3,265.6 600.4,269.3 600.5,270.0 600.6,271.4 600.7,271.2 600.8,271.2 600.9,270.3 601.0,272.0 601.1,274.7 601.2,274.6 601.3,276.2 601.4,276.1 601.5,277.1 601.6,277.7 601.7,275.8 601.8,275.8 601.9,277.0 602.0,276.0 602.1,274.7 602.2,270.9 602.3,271.5 602.4,270.5 602.5,270.7 602.6,269.9 602.7,269.5 602.8,268.7 602.9,267.0 603.0,267.7 603.1,267.1 603.2,265.2 603.3,264.7 603.4,265.0 603.5,263.7 603.6,260.6 603.7,262.1 603.8,262.1 603.9,260.7 604.0,257.5 604.1,261.8 604.2,261.8 604.3,261.6 604.4,259.8 604.5,258.3 604.6,257.8 604.7,260.0 604.8,258.8 604.9,261.0 605.0,265.3 605.1,263.5 605.2,266.4 605.3,267.6 605.4,263.8 605.5,262.5 605.6,263.6 605.7,263.8 605.8,263.2 605.9,260.9 606.0,262.0 606.1,263.5 606.2,262.5 606.3,262.5 606.4,264.0 606.5,268.7 606.6,268.4 606.7,269.1 606.8,270.7 606.9,272.5 607.0,268.7 607.1,268.3 607.2,271.4 607.3,272.2 607.4,269.3 607.5,266.1 607.6,266.9 607.7,266.5 607.8,263.0 607.9,262.8 608.0,262.4 608.1,259.8 608.2,259.4 608.3,259.7 608.4,259.1 608.5,259.4 608.6,261.5 608.7,259.1 608.8,258.9 608.9,258.1 609.0,260.9 609.1,261.8 609.2,261.1 609.3,259.7 609.4,258.8 609.5,258.8 609.6,259.6 609.7,260.1 609.8,262.0 609.9,260.3 610.0,259.4 610.1,258.4 610.2,257.2 610.3,258.5 610.4,257.7 610.5,256.7 610.6,260.9 610.7,258.3 610.8,256.5 610.9,255.1 611.0,257.2 611.1,256.5 611.2,258.6 611.3,257.6 611.4,257.3 611.5,260.9 611.6,259.7 611.7,258.9 611.8,260.2 611.9,259.1 612.0,260.4 612.1,260.4 612.2,261.9 612.3,261.0 612.4,262.6 612.5,260.9 612.6,258.3 612.7,260.0 612.8,258.8 612.9,259.7 613.0,260.2 613.1,259.9 613.2,259.8 613.3,257.7 613.4,257.8 613.5,257.6 613.6,258.6 613.7,259.0 613.8,258.5 613.9,257.5 614.0,259.3 614.1,255.8 614.2,256.3 614.3,255.3 614.4,257.3 614.5,257.1 614.6,255.1 614.7,254.2 614.8,254.2 614.9,254.8 615.0,256.7 615.1,252.6 615.2,254.8 615.3,259.1 615.4,255.9 615.5,255.2 615.6,255.0 615.7,256.5 615.8,258.3 615.9,261.0 616.0,260.0 616.1,258.3 616.2,257.7 616.3,254.1 616.4,255.7 616.5,258.4 616.6,259.6 616.7,260.4 616.8,258.6 616.9,258.2 617.0,259.5 617.1,263.3 617.2,262.9 617.3,259.5 617.4,260.4 617.5,263.4 617.6,262.8 617.7,261.8 617.8,262.0 617.9,260.9 618.0,260.6"/>
<text x="91.5" y="76.8" text-anchor="end" class="yl">160</text>
<text x="91.5" y="119.8" text-anchor="end" class="yl">140</text>
<text x="91.5" y="162.8" text-anchor="end" class="yl">120</text>
<text x="91.5" y="205.8" text-anchor="end" class="yl">100</text>
<text x="91.5" y="248.8" text-anchor="end" class="yl">80</text>
<text x="91.5" y="291.8" text-anchor="end" class="yl">60</text>
<text x="91.5" y="334.8" text-anchor="end" class="yl">40</text>
<text x="91.5" y="377.8" text-anchor="end" class="yl">20</text>
<text x="91.5" y="420.8" text-anchor="end" class="yl">0</text>
<text x="630.5" y="77.3" class="yr">2000</text>
<text x="630.5" y="111.7" class="yr">1800</text>
<text x="630.5" y="146.1" class="yr">1600</text>
<text x="630.5" y="180.5" class="yr">1400</text>
<text x="630.5" y="214.9" class="yr">1200</text>
<text x="630.5" y="249.3" class="yr">1000</text>
<text x="630.5" y="283.7" class="yr">800</text>
<text x="630.5" y="318.1" class="yr">600</text>
<text x="630.5" y="352.5" class="yr">400</text>
<text x="630.5" y="386.9" class="yr">200</text>
<text x="630.5" y="421.3" class="yr">0</text>
<text x="107.2" y="440.8" text-anchor="middle" class="xl">1995</text>
<text x="209.0" y="440.8" text-anchor="middle" class="xl">2000</text>
<text x="310.8" y="440.8" text-anchor="middle" class="xl">2005</text>
<text x="412.59999999999997" y="440.8" text-anchor="middle" class="xl">2010</text>
<text x="514.4" y="440.8" text-anchor="middle" class="xl">2015</text>
<text x="616.2" y="440.8" text-anchor="middle" class="xl">2020</text>

<text class="at" fill="#1b2f52" stroke="#1b2f52" text-anchor="middle" transform="translate(56.7,242.2) rotate(-90)" letter-spacing=".28">WTI in USD/Barrel</text>
<text class="at" fill="#29abe2" stroke="#29abe2" text-anchor="middle" transform="translate(681.2,243.4) rotate(-90)" letter-spacing=".16">Soybeans in USd/Bushel</text>
<text class="at" fill="#29abe2" stroke="#29abe2" x="179" y="269.3">Soybeans</text>
<text class="at" fill="#1b2f52" stroke="#1b2f52" x="284.5" y="382.3">WTI</text>
<text class="src" x="23" y="480.8" xml:space="preserve">Source: Bloomberg Professional  (CL1 and <tspan fill="#29abe2">S 1</tspan>)</text>
</svg>
</body></html>
